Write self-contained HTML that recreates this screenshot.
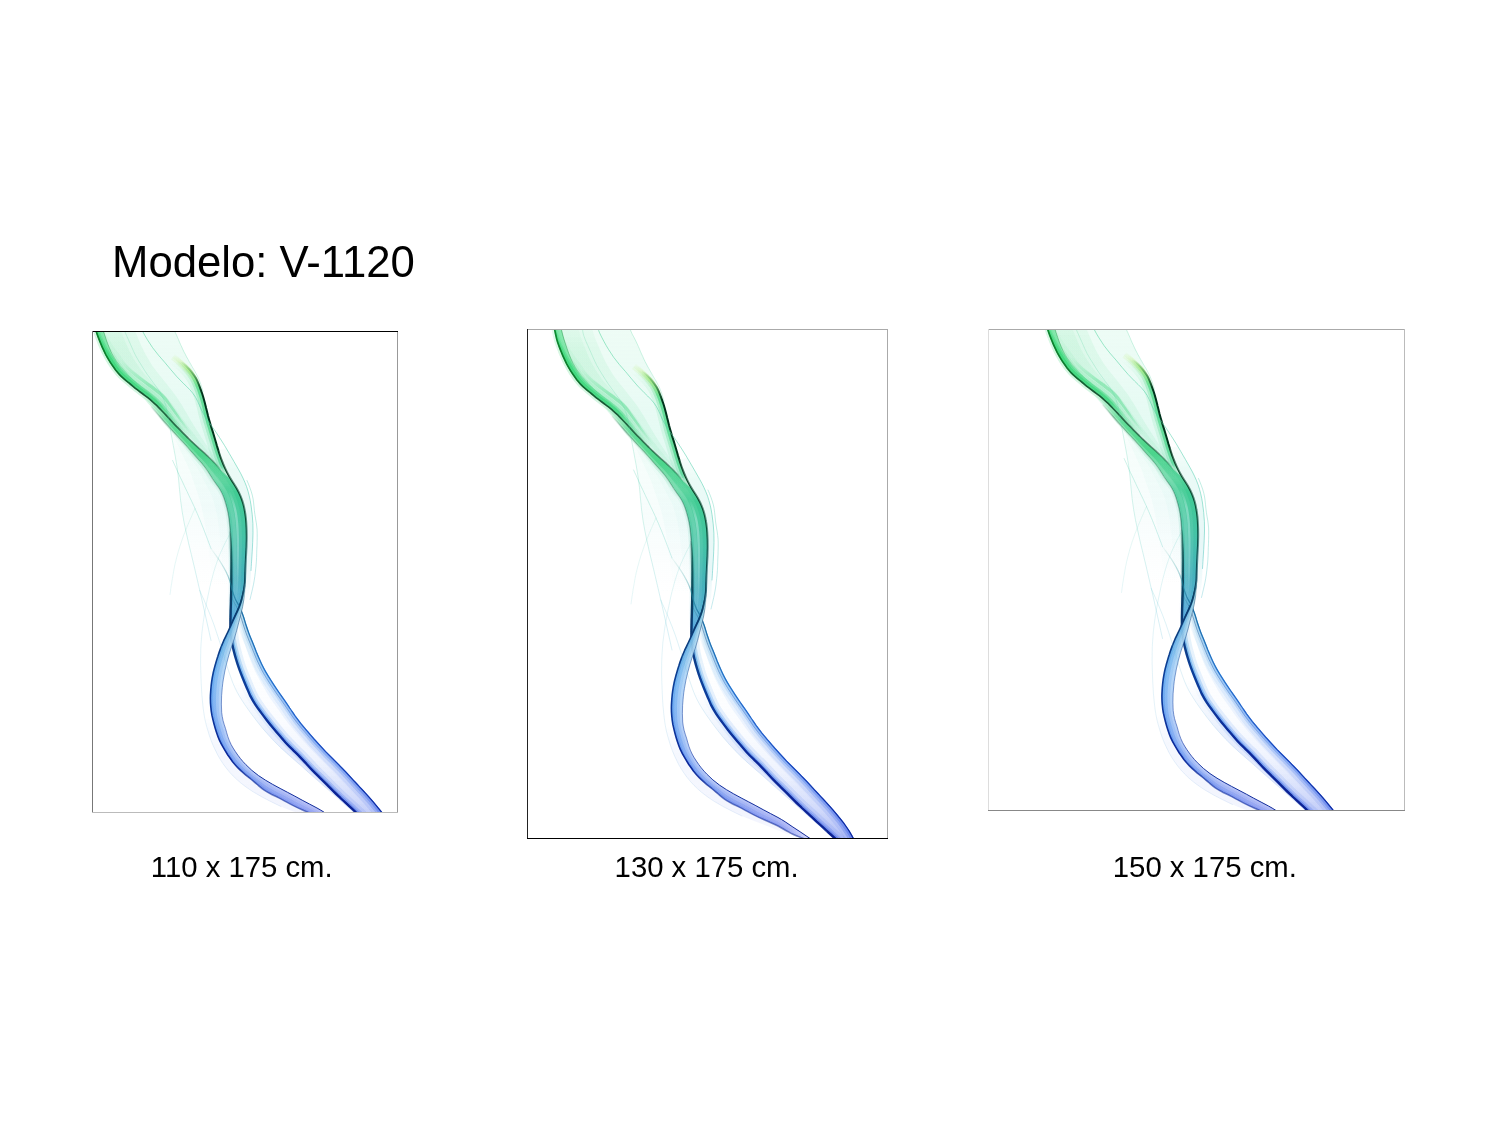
<!DOCTYPE html>
<html lang="es">
<head>
<meta charset="utf-8">
<title>Modelo: V-1120</title>
<style>
html,body{margin:0;padding:0;background:#fff;}
body{width:1500px;height:1125px;position:relative;overflow:hidden;font-family:"Liberation Sans",Arial,sans-serif;color:#000;}
.t{position:absolute;white-space:nowrap;line-height:1;}
#title{left:112px;top:240px;font-size:43.7px;}
.cap{font-size:29.3px;top:852px;}
.ln{position:absolute;}
svg{position:absolute;left:0;top:0;}
</style>
</head>
<body>
<div id="title" class="t">Modelo: V-1120</div>
<div class="t cap" id="c1" style="left:150.8px">110 x 175 cm.</div>
<div class="t cap" id="c2" style="left:614.6px">130 x 175 cm.</div>
<div class="t cap" id="c3" style="left:1112.8px">150 x 175 cm.</div>
<svg width="1500" height="1125" viewBox="0 0 1500 1125"><defs><linearGradient id="g1" gradientUnits="userSpaceOnUse" x1="0" y1="0" x2="0" y2="530"><stop offset="0.000" stop-color="#d6f8e8" stop-opacity="0.42"/><stop offset="0.113" stop-color="#d4f7ea" stop-opacity="0.48"/><stop offset="0.208" stop-color="#d3f7eb" stop-opacity="0.60"/><stop offset="0.283" stop-color="#d2f6ec" stop-opacity="0.70"/><stop offset="0.481" stop-color="#c8ecf0" stop-opacity="0.70"/><stop offset="0.672" stop-color="#d4e8fc" stop-opacity="0.70"/><stop offset="0.849" stop-color="#d2dcfb" stop-opacity="0.70"/><stop offset="1.000" stop-color="#c6ccf8" stop-opacity="0.70"/></linearGradient><linearGradient id="g2" gradientUnits="userSpaceOnUse" x1="0" y1="0" x2="0" y2="530"><stop offset="0.000" stop-color="#1cd462" stop-opacity="0.04"/><stop offset="0.038" stop-color="#1dd364" stop-opacity="0.07"/><stop offset="0.132" stop-color="#1ed068" stop-opacity="0.07"/><stop offset="0.208" stop-color="#1fcd6b" stop-opacity="0.08"/><stop offset="0.240" stop-color="#20cc6c" stop-opacity="0.07"/><stop offset="0.283" stop-color="#24c879" stop-opacity="0.06"/><stop offset="0.321" stop-color="#28c584" stop-opacity="0.06"/><stop offset="0.406" stop-color="#2fbc9a" stop-opacity="0.06"/><stop offset="0.481" stop-color="#2fa9b2" stop-opacity="0.06"/><stop offset="0.557" stop-color="#3398d2" stop-opacity="0.06"/><stop offset="0.672" stop-color="#3a94ec" stop-opacity="0.06"/><stop offset="0.817" stop-color="#3a78ec" stop-opacity="0.06"/><stop offset="0.906" stop-color="#3f6ae8" stop-opacity="0.06"/><stop offset="1.000" stop-color="#4a64e6" stop-opacity="0.06"/></linearGradient><linearGradient id="g3" gradientUnits="userSpaceOnUse" x1="0" y1="0" x2="0" y2="530"><stop offset="0.000" stop-color="#1cd462" stop-opacity="0.03"/><stop offset="0.047" stop-color="#1dd264" stop-opacity="0.06"/><stop offset="0.132" stop-color="#1ed068" stop-opacity="0.06"/><stop offset="0.208" stop-color="#1fcd6b" stop-opacity="0.07"/><stop offset="0.240" stop-color="#20cc6c" stop-opacity="0.06"/><stop offset="0.283" stop-color="#24c879" stop-opacity="0.05"/><stop offset="0.321" stop-color="#28c584" stop-opacity="0.05"/><stop offset="0.406" stop-color="#2fbc9a" stop-opacity="0.05"/><stop offset="0.481" stop-color="#2fa9b2" stop-opacity="0.05"/><stop offset="0.557" stop-color="#3398d2" stop-opacity="0.05"/><stop offset="0.672" stop-color="#3a94ec" stop-opacity="0.05"/><stop offset="0.817" stop-color="#3a78ec" stop-opacity="0.05"/><stop offset="0.906" stop-color="#3f6ae8" stop-opacity="0.05"/><stop offset="1.000" stop-color="#4a64e6" stop-opacity="0.05"/></linearGradient><linearGradient id="g4" gradientUnits="userSpaceOnUse" x1="0" y1="0" x2="0" y2="530"><stop offset="0.000" stop-color="#1cd462" stop-opacity="0.45"/><stop offset="0.094" stop-color="#1ed166" stop-opacity="0.35"/><stop offset="0.151" stop-color="#1fcf68" stop-opacity="0.22"/><stop offset="0.181" stop-color="#1fce6a" stop-opacity="0.00"/><stop offset="0.240" stop-color="#20cc6c" stop-opacity="0.00"/><stop offset="0.321" stop-color="#28c584" stop-opacity="0.00"/><stop offset="0.406" stop-color="#2fbc9a" stop-opacity="0.00"/><stop offset="0.481" stop-color="#2fa9b2" stop-opacity="0.00"/><stop offset="0.557" stop-color="#3398d2" stop-opacity="0.00"/><stop offset="0.672" stop-color="#3a94ec" stop-opacity="0.00"/><stop offset="0.817" stop-color="#3a78ec" stop-opacity="0.00"/><stop offset="0.906" stop-color="#3f6ae8" stop-opacity="0.00"/><stop offset="1.000" stop-color="#4a64e6" stop-opacity="0.00"/></linearGradient><linearGradient id="g5" gradientUnits="userSpaceOnUse" x1="0" y1="0" x2="0" y2="530"><stop offset="0.000" stop-color="#1cd462" stop-opacity="0.03"/><stop offset="0.066" stop-color="#1dd265" stop-opacity="0.06"/><stop offset="0.160" stop-color="#1fcf69" stop-opacity="0.06"/><stop offset="0.223" stop-color="#20cd6b" stop-opacity="0.00"/><stop offset="0.240" stop-color="#20cc6c" stop-opacity="0.00"/><stop offset="0.321" stop-color="#28c584" stop-opacity="0.00"/><stop offset="0.406" stop-color="#2fbc9a" stop-opacity="0.00"/><stop offset="0.481" stop-color="#2fa9b2" stop-opacity="0.00"/><stop offset="0.557" stop-color="#3398d2" stop-opacity="0.00"/><stop offset="0.672" stop-color="#3a94ec" stop-opacity="0.00"/><stop offset="0.817" stop-color="#3a78ec" stop-opacity="0.00"/><stop offset="0.906" stop-color="#3f6ae8" stop-opacity="0.00"/><stop offset="1.000" stop-color="#4a64e6" stop-opacity="0.00"/></linearGradient><linearGradient id="g6" gradientUnits="userSpaceOnUse" x1="0" y1="0" x2="0" y2="530"><stop offset="0.000" stop-color="#1cd462" stop-opacity="0.06"/><stop offset="0.066" stop-color="#1dd265" stop-opacity="0.12"/><stop offset="0.160" stop-color="#1fcf69" stop-opacity="0.12"/><stop offset="0.223" stop-color="#20cd6b" stop-opacity="0.00"/><stop offset="0.240" stop-color="#20cc6c" stop-opacity="0.00"/><stop offset="0.321" stop-color="#28c584" stop-opacity="0.00"/><stop offset="0.406" stop-color="#2fbc9a" stop-opacity="0.00"/><stop offset="0.481" stop-color="#2fa9b2" stop-opacity="0.00"/><stop offset="0.557" stop-color="#3398d2" stop-opacity="0.00"/><stop offset="0.672" stop-color="#3a94ec" stop-opacity="0.00"/><stop offset="0.817" stop-color="#3a78ec" stop-opacity="0.00"/><stop offset="0.906" stop-color="#3f6ae8" stop-opacity="0.00"/><stop offset="1.000" stop-color="#4a64e6" stop-opacity="0.00"/></linearGradient><linearGradient id="g7" gradientUnits="userSpaceOnUse" x1="0" y1="0" x2="0" y2="530"><stop offset="0.000" stop-color="#1cd462" stop-opacity="0.17"/><stop offset="0.066" stop-color="#1dd265" stop-opacity="0.35"/><stop offset="0.160" stop-color="#1fcf69" stop-opacity="0.35"/><stop offset="0.223" stop-color="#20cd6b" stop-opacity="0.00"/><stop offset="0.240" stop-color="#20cc6c" stop-opacity="0.00"/><stop offset="0.321" stop-color="#28c584" stop-opacity="0.00"/><stop offset="0.406" stop-color="#2fbc9a" stop-opacity="0.00"/><stop offset="0.481" stop-color="#2fa9b2" stop-opacity="0.00"/><stop offset="0.557" stop-color="#3398d2" stop-opacity="0.00"/><stop offset="0.672" stop-color="#3a94ec" stop-opacity="0.00"/><stop offset="0.817" stop-color="#3a78ec" stop-opacity="0.00"/><stop offset="0.906" stop-color="#3f6ae8" stop-opacity="0.00"/><stop offset="1.000" stop-color="#4a64e6" stop-opacity="0.00"/></linearGradient><linearGradient id="g8" gradientUnits="userSpaceOnUse" x1="0" y1="0" x2="0" y2="530"><stop offset="0.000" stop-color="#1cd462" stop-opacity="0.23"/><stop offset="0.066" stop-color="#1dd265" stop-opacity="0.45"/><stop offset="0.160" stop-color="#1fcf69" stop-opacity="0.45"/><stop offset="0.223" stop-color="#20cd6b" stop-opacity="0.00"/><stop offset="0.240" stop-color="#20cc6c" stop-opacity="0.00"/><stop offset="0.321" stop-color="#28c584" stop-opacity="0.00"/><stop offset="0.406" stop-color="#2fbc9a" stop-opacity="0.00"/><stop offset="0.481" stop-color="#2fa9b2" stop-opacity="0.00"/><stop offset="0.557" stop-color="#3398d2" stop-opacity="0.00"/><stop offset="0.672" stop-color="#3a94ec" stop-opacity="0.00"/><stop offset="0.817" stop-color="#3a78ec" stop-opacity="0.00"/><stop offset="0.906" stop-color="#3f6ae8" stop-opacity="0.00"/><stop offset="1.000" stop-color="#4a64e6" stop-opacity="0.00"/></linearGradient><linearGradient id="g9" gradientUnits="userSpaceOnUse" x1="0" y1="0" x2="0" y2="530"><stop offset="0.000" stop-color="#1cd462" stop-opacity="0.10"/><stop offset="0.057" stop-color="#1dd264" stop-opacity="0.20"/><stop offset="0.151" stop-color="#1fcf68" stop-opacity="0.20"/><stop offset="0.179" stop-color="#1fce69" stop-opacity="0.00"/><stop offset="0.240" stop-color="#20cc6c" stop-opacity="0.00"/><stop offset="0.321" stop-color="#28c584" stop-opacity="0.00"/><stop offset="0.406" stop-color="#2fbc9a" stop-opacity="0.00"/><stop offset="0.481" stop-color="#2fa9b2" stop-opacity="0.00"/><stop offset="0.557" stop-color="#3398d2" stop-opacity="0.00"/><stop offset="0.672" stop-color="#3a94ec" stop-opacity="0.00"/><stop offset="0.817" stop-color="#3a78ec" stop-opacity="0.00"/><stop offset="0.906" stop-color="#3f6ae8" stop-opacity="0.00"/><stop offset="1.000" stop-color="#4a64e6" stop-opacity="0.00"/></linearGradient><linearGradient id="g10" gradientUnits="userSpaceOnUse" x1="0" y1="0" x2="0" y2="530"><stop offset="0.000" stop-color="#1cd462" stop-opacity="0.00"/><stop offset="0.075" stop-color="#1dd165" stop-opacity="0.00"/><stop offset="0.123" stop-color="#1ed067" stop-opacity="0.30"/><stop offset="0.179" stop-color="#1fce69" stop-opacity="0.30"/><stop offset="0.217" stop-color="#20cd6b" stop-opacity="0.00"/><stop offset="0.240" stop-color="#20cc6c" stop-opacity="0.00"/><stop offset="0.321" stop-color="#28c584" stop-opacity="0.00"/><stop offset="0.406" stop-color="#2fbc9a" stop-opacity="0.00"/><stop offset="0.481" stop-color="#2fa9b2" stop-opacity="0.00"/><stop offset="0.557" stop-color="#3398d2" stop-opacity="0.00"/><stop offset="0.672" stop-color="#3a94ec" stop-opacity="0.00"/><stop offset="0.817" stop-color="#3a78ec" stop-opacity="0.00"/><stop offset="0.906" stop-color="#3f6ae8" stop-opacity="0.00"/><stop offset="1.000" stop-color="#4a64e6" stop-opacity="0.00"/></linearGradient><linearGradient id="g11" gradientUnits="userSpaceOnUse" x1="0" y1="0" x2="0" y2="530"><stop offset="0.000" stop-color="#1cd462" stop-opacity="0.00"/><stop offset="0.143" stop-color="#1ecf68" stop-opacity="0.00"/><stop offset="0.189" stop-color="#1fce6a" stop-opacity="0.50"/><stop offset="0.240" stop-color="#20cc6c" stop-opacity="0.62"/><stop offset="0.255" stop-color="#21cb70" stop-opacity="0.65"/><stop offset="0.283" stop-color="#24c879" stop-opacity="0.50"/><stop offset="0.321" stop-color="#28c584" stop-opacity="0.05"/><stop offset="0.325" stop-color="#28c585" stop-opacity="0.00"/><stop offset="0.406" stop-color="#2fbc9a" stop-opacity="0.00"/><stop offset="0.481" stop-color="#2fa9b2" stop-opacity="0.00"/><stop offset="0.557" stop-color="#3398d2" stop-opacity="0.00"/><stop offset="0.672" stop-color="#3a94ec" stop-opacity="0.00"/><stop offset="0.817" stop-color="#3a78ec" stop-opacity="0.00"/><stop offset="0.906" stop-color="#3f6ae8" stop-opacity="0.00"/><stop offset="1.000" stop-color="#4a64e6" stop-opacity="0.00"/></linearGradient><linearGradient id="g12" gradientUnits="userSpaceOnUse" x1="0" y1="0" x2="0" y2="530"><stop offset="0.000" stop-color="#1cd462" stop-opacity="0.00"/><stop offset="0.151" stop-color="#1fcf68" stop-opacity="0.00"/><stop offset="0.198" stop-color="#1fcd6a" stop-opacity="0.35"/><stop offset="0.240" stop-color="#20cc6c" stop-opacity="0.42"/><stop offset="0.255" stop-color="#21cb70" stop-opacity="0.45"/><stop offset="0.283" stop-color="#24c879" stop-opacity="0.30"/><stop offset="0.321" stop-color="#28c584" stop-opacity="0.03"/><stop offset="0.325" stop-color="#28c585" stop-opacity="0.00"/><stop offset="0.406" stop-color="#2fbc9a" stop-opacity="0.00"/><stop offset="0.481" stop-color="#2fa9b2" stop-opacity="0.00"/><stop offset="0.557" stop-color="#3398d2" stop-opacity="0.00"/><stop offset="0.672" stop-color="#3a94ec" stop-opacity="0.00"/><stop offset="0.817" stop-color="#3a78ec" stop-opacity="0.00"/><stop offset="0.906" stop-color="#3f6ae8" stop-opacity="0.00"/><stop offset="1.000" stop-color="#4a64e6" stop-opacity="0.00"/></linearGradient><linearGradient id="g13" gradientUnits="userSpaceOnUse" x1="0" y1="0" x2="0" y2="530"><stop offset="0.000" stop-color="#1cd462" stop-opacity="0.00"/><stop offset="0.160" stop-color="#1fcf69" stop-opacity="0.00"/><stop offset="0.198" stop-color="#1fcd6a" stop-opacity="0.15"/><stop offset="0.240" stop-color="#20cc6c" stop-opacity="0.15"/><stop offset="0.283" stop-color="#24c879" stop-opacity="0.15"/><stop offset="0.321" stop-color="#28c584" stop-opacity="0.01"/><stop offset="0.325" stop-color="#28c585" stop-opacity="0.00"/><stop offset="0.406" stop-color="#2fbc9a" stop-opacity="0.00"/><stop offset="0.481" stop-color="#2fa9b2" stop-opacity="0.00"/><stop offset="0.557" stop-color="#3398d2" stop-opacity="0.00"/><stop offset="0.672" stop-color="#3a94ec" stop-opacity="0.00"/><stop offset="0.817" stop-color="#3a78ec" stop-opacity="0.00"/><stop offset="0.906" stop-color="#3f6ae8" stop-opacity="0.00"/><stop offset="1.000" stop-color="#4a64e6" stop-opacity="0.00"/></linearGradient><linearGradient id="g14" gradientUnits="userSpaceOnUse" x1="0" y1="0" x2="0" y2="530"><stop offset="0.000" stop-color="#0a8a30" stop-opacity="0.60"/><stop offset="0.057" stop-color="#0a7f2d" stop-opacity="0.40"/><stop offset="0.085" stop-color="#0a7a2c" stop-opacity="0.16"/><stop offset="0.104" stop-color="#086126" stop-opacity="0.00"/><stop offset="0.142" stop-color="#04301a" stop-opacity="0.00"/><stop offset="0.283" stop-color="#053a20" stop-opacity="0.00"/><stop offset="0.385" stop-color="#08503a" stop-opacity="0.00"/><stop offset="0.481" stop-color="#084a58" stop-opacity="0.00"/><stop offset="0.557" stop-color="#083a70" stop-opacity="0.00"/><stop offset="0.672" stop-color="#0a3f9a" stop-opacity="0.00"/><stop offset="0.817" stop-color="#08289a" stop-opacity="0.00"/><stop offset="1.000" stop-color="#081f90" stop-opacity="0.00"/></linearGradient><linearGradient id="g15" gradientUnits="userSpaceOnUse" x1="0" y1="0" x2="0" y2="530"><stop offset="0.000" stop-color="#0a8a30"/><stop offset="0.075" stop-color="#0a7c2c"/><stop offset="0.085" stop-color="#0a7a2c" stop-opacity="0.97"/><stop offset="0.132" stop-color="#053c1d" stop-opacity="0.80"/><stop offset="0.142" stop-color="#04301a" stop-opacity="0.78"/><stop offset="0.226" stop-color="#05361e" stop-opacity="0.60"/><stop offset="0.274" stop-color="#053920" stop-opacity="0.40"/><stop offset="0.283" stop-color="#053a20" stop-opacity="0.22"/><stop offset="0.294" stop-color="#053c23" stop-opacity="0.00"/><stop offset="0.385" stop-color="#08503a" stop-opacity="0.00"/><stop offset="0.481" stop-color="#084a58" stop-opacity="0.00"/><stop offset="0.557" stop-color="#083a70" stop-opacity="0.00"/><stop offset="0.672" stop-color="#0a3f9a" stop-opacity="0.00"/><stop offset="0.817" stop-color="#08289a" stop-opacity="0.00"/><stop offset="1.000" stop-color="#081f90" stop-opacity="0.00"/></linearGradient><linearGradient id="g16" gradientUnits="userSpaceOnUse" x1="0" y1="0" x2="0" y2="530"><stop offset="0.000" stop-color="#1cd462" stop-opacity="0.00"/><stop offset="0.079" stop-color="#1dd165" stop-opacity="0.00"/><stop offset="0.125" stop-color="#1ed067" stop-opacity="0.10"/><stop offset="0.240" stop-color="#20cc6c" stop-opacity="0.10"/><stop offset="0.274" stop-color="#23c976" stop-opacity="0.10"/><stop offset="0.302" stop-color="#26c77e" stop-opacity="0.00"/><stop offset="0.321" stop-color="#28c584" stop-opacity="0.00"/><stop offset="0.406" stop-color="#2fbc9a" stop-opacity="0.00"/><stop offset="0.481" stop-color="#2fa9b2" stop-opacity="0.00"/><stop offset="0.557" stop-color="#3398d2" stop-opacity="0.00"/><stop offset="0.672" stop-color="#3a94ec" stop-opacity="0.00"/><stop offset="0.817" stop-color="#3a78ec" stop-opacity="0.00"/><stop offset="0.906" stop-color="#3f6ae8" stop-opacity="0.00"/><stop offset="1.000" stop-color="#4a64e6" stop-opacity="0.00"/></linearGradient><linearGradient id="g17" gradientUnits="userSpaceOnUse" x1="0" y1="0" x2="0" y2="530"><stop offset="0.000" stop-color="#1cd462" stop-opacity="0.00"/><stop offset="0.079" stop-color="#1dd165" stop-opacity="0.00"/><stop offset="0.125" stop-color="#1ed067" stop-opacity="0.22"/><stop offset="0.240" stop-color="#20cc6c" stop-opacity="0.22"/><stop offset="0.274" stop-color="#23c976" stop-opacity="0.22"/><stop offset="0.302" stop-color="#26c77e" stop-opacity="0.00"/><stop offset="0.321" stop-color="#28c584" stop-opacity="0.00"/><stop offset="0.406" stop-color="#2fbc9a" stop-opacity="0.00"/><stop offset="0.481" stop-color="#2fa9b2" stop-opacity="0.00"/><stop offset="0.557" stop-color="#3398d2" stop-opacity="0.00"/><stop offset="0.672" stop-color="#3a94ec" stop-opacity="0.00"/><stop offset="0.817" stop-color="#3a78ec" stop-opacity="0.00"/><stop offset="0.906" stop-color="#3f6ae8" stop-opacity="0.00"/><stop offset="1.000" stop-color="#4a64e6" stop-opacity="0.00"/></linearGradient><linearGradient id="g18" gradientUnits="userSpaceOnUse" x1="0" y1="0" x2="0" y2="530"><stop offset="0.000" stop-color="#1cd462" stop-opacity="0.00"/><stop offset="0.079" stop-color="#1dd165" stop-opacity="0.00"/><stop offset="0.125" stop-color="#1ed067" stop-opacity="0.50"/><stop offset="0.240" stop-color="#20cc6c" stop-opacity="0.50"/><stop offset="0.274" stop-color="#23c976" stop-opacity="0.50"/><stop offset="0.302" stop-color="#26c77e" stop-opacity="0.00"/><stop offset="0.321" stop-color="#28c584" stop-opacity="0.00"/><stop offset="0.406" stop-color="#2fbc9a" stop-opacity="0.00"/><stop offset="0.481" stop-color="#2fa9b2" stop-opacity="0.00"/><stop offset="0.557" stop-color="#3398d2" stop-opacity="0.00"/><stop offset="0.672" stop-color="#3a94ec" stop-opacity="0.00"/><stop offset="0.817" stop-color="#3a78ec" stop-opacity="0.00"/><stop offset="0.906" stop-color="#3f6ae8" stop-opacity="0.00"/><stop offset="1.000" stop-color="#4a64e6" stop-opacity="0.00"/></linearGradient><linearGradient id="g19" gradientUnits="userSpaceOnUse" x1="0" y1="0" x2="0" y2="530"><stop offset="0.000" stop-color="#a8e850" stop-opacity="0.00"/><stop offset="0.060" stop-color="#a8e850" stop-opacity="0.00"/><stop offset="0.079" stop-color="#a8e850" stop-opacity="0.12"/><stop offset="0.094" stop-color="#a8e850" stop-opacity="0.20"/><stop offset="0.113" stop-color="#a8e850" stop-opacity="0.12"/><stop offset="0.132" stop-color="#a8e850" stop-opacity="0.00"/><stop offset="1.000" stop-color="#a8e850" stop-opacity="0.00"/></linearGradient><linearGradient id="g20" gradientUnits="userSpaceOnUse" x1="0" y1="0" x2="0" y2="530"><stop offset="0.000" stop-color="#a8e850" stop-opacity="0.00"/><stop offset="0.068" stop-color="#a8e850" stop-opacity="0.00"/><stop offset="0.083" stop-color="#a8e850" stop-opacity="0.20"/><stop offset="0.098" stop-color="#a8e850" stop-opacity="0.35"/><stop offset="0.113" stop-color="#a8e850" stop-opacity="0.20"/><stop offset="0.132" stop-color="#a8e850" stop-opacity="0.00"/><stop offset="1.000" stop-color="#a8e850" stop-opacity="0.00"/></linearGradient><linearGradient id="g21" gradientUnits="userSpaceOnUse" x1="0" y1="0" x2="0" y2="530"><stop offset="0.000" stop-color="#1cd462" stop-opacity="0.00"/><stop offset="0.240" stop-color="#20cc6c" stop-opacity="0.00"/><stop offset="0.255" stop-color="#21cb70" stop-opacity="0.00"/><stop offset="0.283" stop-color="#24c879" stop-opacity="0.25"/><stop offset="0.321" stop-color="#28c584" stop-opacity="0.68"/><stop offset="0.325" stop-color="#28c585" stop-opacity="0.72"/><stop offset="0.406" stop-color="#2fbc9a" stop-opacity="0.72"/><stop offset="0.481" stop-color="#2fa9b2" stop-opacity="0.72"/><stop offset="0.491" stop-color="#30a7b6" stop-opacity="0.72"/><stop offset="0.557" stop-color="#3398d2" stop-opacity="0.60"/><stop offset="0.587" stop-color="#3597d9" stop-opacity="0.55"/><stop offset="0.672" stop-color="#3a94ec" stop-opacity="0.55"/><stop offset="0.817" stop-color="#3a78ec" stop-opacity="0.55"/><stop offset="0.906" stop-color="#3f6ae8" stop-opacity="0.55"/><stop offset="1.000" stop-color="#4a64e6" stop-opacity="0.55"/></linearGradient><linearGradient id="g22" gradientUnits="userSpaceOnUse" x1="0" y1="0" x2="0" y2="530"><stop offset="0.000" stop-color="#1cd462" stop-opacity="0.00"/><stop offset="0.240" stop-color="#20cc6c" stop-opacity="0.00"/><stop offset="0.274" stop-color="#23c976" stop-opacity="0.00"/><stop offset="0.321" stop-color="#28c584" stop-opacity="0.37"/><stop offset="0.325" stop-color="#28c585" stop-opacity="0.40"/><stop offset="0.406" stop-color="#2fbc9a" stop-opacity="0.40"/><stop offset="0.481" stop-color="#2fa9b2" stop-opacity="0.40"/><stop offset="0.491" stop-color="#30a7b6" stop-opacity="0.40"/><stop offset="0.557" stop-color="#3398d2" stop-opacity="0.23"/><stop offset="0.587" stop-color="#3597d9" stop-opacity="0.15"/><stop offset="0.672" stop-color="#3a94ec" stop-opacity="0.15"/><stop offset="0.817" stop-color="#3a78ec" stop-opacity="0.15"/><stop offset="0.906" stop-color="#3f6ae8" stop-opacity="0.15"/><stop offset="1.000" stop-color="#4a64e6" stop-opacity="0.15"/></linearGradient><linearGradient id="g23" gradientUnits="userSpaceOnUse" x1="0" y1="0" x2="0" y2="530"><stop offset="0.000" stop-color="#1cd462" stop-opacity="0.00"/><stop offset="0.240" stop-color="#20cc6c" stop-opacity="0.00"/><stop offset="0.283" stop-color="#24c879" stop-opacity="0.00"/><stop offset="0.321" stop-color="#28c584" stop-opacity="0.28"/><stop offset="0.330" stop-color="#29c486" stop-opacity="0.35"/><stop offset="0.406" stop-color="#2fbc9a" stop-opacity="0.35"/><stop offset="0.481" stop-color="#2fa9b2" stop-opacity="0.35"/><stop offset="0.491" stop-color="#30a7b6" stop-opacity="0.35"/><stop offset="0.557" stop-color="#3398d2" stop-opacity="0.18"/><stop offset="0.587" stop-color="#3597d9" stop-opacity="0.10"/><stop offset="0.672" stop-color="#3a94ec" stop-opacity="0.10"/><stop offset="0.817" stop-color="#3a78ec" stop-opacity="0.10"/><stop offset="0.906" stop-color="#3f6ae8" stop-opacity="0.10"/><stop offset="1.000" stop-color="#4a64e6" stop-opacity="0.10"/></linearGradient><linearGradient id="g24" gradientUnits="userSpaceOnUse" x1="0" y1="0" x2="0" y2="530"><stop offset="0.000" stop-color="#1cd462" stop-opacity="0.00"/><stop offset="0.240" stop-color="#20cc6c" stop-opacity="0.00"/><stop offset="0.283" stop-color="#24c879" stop-opacity="0.00"/><stop offset="0.321" stop-color="#28c584" stop-opacity="0.10"/><stop offset="0.340" stop-color="#2ac389" stop-opacity="0.15"/><stop offset="0.406" stop-color="#2fbc9a" stop-opacity="0.33"/><stop offset="0.434" stop-color="#2fb5a3" stop-opacity="0.40"/><stop offset="0.481" stop-color="#2fa9b2" stop-opacity="0.43"/><stop offset="0.557" stop-color="#3398d2" stop-opacity="0.48"/><stop offset="0.587" stop-color="#3597d9" stop-opacity="0.50"/><stop offset="0.672" stop-color="#3a94ec" stop-opacity="0.50"/><stop offset="0.817" stop-color="#3a78ec" stop-opacity="0.50"/><stop offset="0.906" stop-color="#3f6ae8" stop-opacity="0.50"/><stop offset="1.000" stop-color="#4a64e6" stop-opacity="0.50"/></linearGradient><linearGradient id="g25" gradientUnits="userSpaceOnUse" x1="0" y1="0" x2="0" y2="530"><stop offset="0.000" stop-color="#d6f8e8" stop-opacity="0.00"/><stop offset="0.283" stop-color="#d2f6ec" stop-opacity="0.00"/><stop offset="0.321" stop-color="#d0f4ed" stop-opacity="0.00"/><stop offset="0.358" stop-color="#cef2ee" stop-opacity="0.40"/><stop offset="0.472" stop-color="#c8ecf0" stop-opacity="0.30"/><stop offset="0.481" stop-color="#c8ecf0" stop-opacity="0.26"/><stop offset="0.547" stop-color="#ccebf4" stop-opacity="0.00"/><stop offset="0.672" stop-color="#d4e8fc" stop-opacity="0.00"/><stop offset="0.849" stop-color="#d2dcfb" stop-opacity="0.00"/><stop offset="1.000" stop-color="#c6ccf8" stop-opacity="0.00"/></linearGradient><linearGradient id="g26" gradientUnits="userSpaceOnUse" x1="0" y1="0" x2="0" y2="530"><stop offset="0.000" stop-color="#1cd462" stop-opacity="0.00"/><stop offset="0.236" stop-color="#20cc6c" stop-opacity="0.00"/><stop offset="0.240" stop-color="#20cc6c" stop-opacity="0.01"/><stop offset="0.274" stop-color="#23c976" stop-opacity="0.12"/><stop offset="0.321" stop-color="#28c584" stop-opacity="0.13"/><stop offset="0.406" stop-color="#2fbc9a" stop-opacity="0.16"/><stop offset="0.472" stop-color="#2fabaf" stop-opacity="0.18"/><stop offset="0.481" stop-color="#2fa9b2" stop-opacity="0.16"/><stop offset="0.557" stop-color="#3398d2" stop-opacity="0.02"/><stop offset="0.566" stop-color="#3498d4" stop-opacity="0.00"/><stop offset="0.672" stop-color="#3a94ec" stop-opacity="0.00"/><stop offset="0.817" stop-color="#3a78ec" stop-opacity="0.00"/><stop offset="0.906" stop-color="#3f6ae8" stop-opacity="0.00"/><stop offset="1.000" stop-color="#4a64e6" stop-opacity="0.00"/></linearGradient><linearGradient id="g27" gradientUnits="userSpaceOnUse" x1="0" y1="0" x2="0" y2="530"><stop offset="0.000" stop-color="#0a8a30" stop-opacity="0.00"/><stop offset="0.085" stop-color="#0a7a2c" stop-opacity="0.00"/><stop offset="0.142" stop-color="#04301a" stop-opacity="0.00"/><stop offset="0.158" stop-color="#04311b" stop-opacity="0.00"/><stop offset="0.189" stop-color="#04331c" stop-opacity="0.30"/><stop offset="0.283" stop-color="#053a20" stop-opacity="0.30"/><stop offset="0.377" stop-color="#084e38" stop-opacity="0.50"/><stop offset="0.385" stop-color="#08503a" stop-opacity="0.54"/><stop offset="0.453" stop-color="#084c4f" stop-opacity="0.85"/><stop offset="0.481" stop-color="#084a58" stop-opacity="0.94"/><stop offset="0.500" stop-color="#08465e"/><stop offset="0.557" stop-color="#083a70"/><stop offset="0.672" stop-color="#0a3f9a"/><stop offset="0.817" stop-color="#08289a"/><stop offset="1.000" stop-color="#081f90"/></linearGradient><linearGradient id="g28" gradientUnits="userSpaceOnUse" x1="0" y1="0" x2="0" y2="530"><stop offset="0.000" stop-color="#0a8a30" stop-opacity="0.00"/><stop offset="0.079" stop-color="#0a7b2c" stop-opacity="0.00"/><stop offset="0.085" stop-color="#0a7a2c" stop-opacity="0.11"/><stop offset="0.106" stop-color="#085f25" stop-opacity="0.50"/><stop offset="0.132" stop-color="#053c1d"/><stop offset="0.142" stop-color="#04301a"/><stop offset="0.283" stop-color="#053a20"/><stop offset="0.385" stop-color="#08503a"/><stop offset="0.481" stop-color="#084a58"/><stop offset="0.557" stop-color="#083a70"/><stop offset="0.587" stop-color="#093b7b"/><stop offset="0.672" stop-color="#0a3f9a"/><stop offset="0.817" stop-color="#08289a"/><stop offset="1.000" stop-color="#081f90"/></linearGradient><linearGradient id="g29" gradientUnits="userSpaceOnUse" x1="0" y1="0" x2="0" y2="530"><stop offset="0.000" stop-color="#d6f8e8" stop-opacity="0.00"/><stop offset="0.283" stop-color="#d2f6ec" stop-opacity="0.00"/><stop offset="0.481" stop-color="#c8ecf0" stop-opacity="0.00"/><stop offset="0.623" stop-color="#d1e9f9" stop-opacity="0.00"/><stop offset="0.672" stop-color="#d4e8fc" stop-opacity="0.04"/><stop offset="0.755" stop-color="#d3e2fc" stop-opacity="0.10"/><stop offset="0.849" stop-color="#d2dcfb" stop-opacity="0.40"/><stop offset="0.925" stop-color="#ccd4fa" stop-opacity="0.75"/><stop offset="1.000" stop-color="#c6ccf8"/></linearGradient><linearGradient id="g30" gradientUnits="userSpaceOnUse" x1="0" y1="0" x2="0" y2="530"><stop offset="0.000" stop-color="#1cd462" stop-opacity="0.00"/><stop offset="0.240" stop-color="#20cc6c" stop-opacity="0.00"/><stop offset="0.321" stop-color="#28c584" stop-opacity="0.00"/><stop offset="0.406" stop-color="#2fbc9a" stop-opacity="0.00"/><stop offset="0.481" stop-color="#2fa9b2" stop-opacity="0.00"/><stop offset="0.557" stop-color="#3398d2" stop-opacity="0.00"/><stop offset="0.672" stop-color="#3a94ec" stop-opacity="0.00"/><stop offset="0.817" stop-color="#3a78ec" stop-opacity="0.00"/><stop offset="0.830" stop-color="#3b76eb" stop-opacity="0.00"/><stop offset="0.906" stop-color="#3f6ae8" stop-opacity="0.08"/><stop offset="0.960" stop-color="#4567e7" stop-opacity="0.20"/><stop offset="1.000" stop-color="#4a64e6" stop-opacity="0.25"/></linearGradient><linearGradient id="g31" gradientUnits="userSpaceOnUse" x1="0" y1="0" x2="0" y2="530"><stop offset="0.000" stop-color="#d6f8e8" stop-opacity="0.00"/><stop offset="0.283" stop-color="#d2f6ec" stop-opacity="0.00"/><stop offset="0.481" stop-color="#c8ecf0" stop-opacity="0.00"/><stop offset="0.547" stop-color="#ccebf4" stop-opacity="0.00"/><stop offset="0.604" stop-color="#d0e9f8" stop-opacity="0.35"/><stop offset="0.672" stop-color="#d4e8fc" stop-opacity="0.36"/><stop offset="0.849" stop-color="#d2dcfb" stop-opacity="0.38"/><stop offset="1.000" stop-color="#c6ccf8" stop-opacity="0.40"/></linearGradient><linearGradient id="g32" gradientUnits="userSpaceOnUse" x1="0" y1="0" x2="0" y2="530"><stop offset="0.000" stop-color="#1cd462" stop-opacity="0.00"/><stop offset="0.240" stop-color="#20cc6c" stop-opacity="0.00"/><stop offset="0.321" stop-color="#28c584" stop-opacity="0.00"/><stop offset="0.406" stop-color="#2fbc9a" stop-opacity="0.00"/><stop offset="0.453" stop-color="#2fb0a9" stop-opacity="0.00"/><stop offset="0.481" stop-color="#2fa9b2" stop-opacity="0.03"/><stop offset="0.519" stop-color="#31a0c2" stop-opacity="0.07"/><stop offset="0.557" stop-color="#3398d2" stop-opacity="0.09"/><stop offset="0.604" stop-color="#3696dd" stop-opacity="0.12"/><stop offset="0.672" stop-color="#3a94ec" stop-opacity="0.12"/><stop offset="0.817" stop-color="#3a78ec" stop-opacity="0.12"/><stop offset="0.906" stop-color="#3f6ae8" stop-opacity="0.12"/><stop offset="1.000" stop-color="#4a64e6" stop-opacity="0.12"/></linearGradient><linearGradient id="g33" gradientUnits="userSpaceOnUse" x1="0" y1="0" x2="0" y2="530"><stop offset="0.000" stop-color="#1cd462" stop-opacity="0.00"/><stop offset="0.240" stop-color="#20cc6c" stop-opacity="0.00"/><stop offset="0.321" stop-color="#28c584" stop-opacity="0.00"/><stop offset="0.406" stop-color="#2fbc9a" stop-opacity="0.00"/><stop offset="0.453" stop-color="#2fb0a9" stop-opacity="0.00"/><stop offset="0.481" stop-color="#2fa9b2" stop-opacity="0.06"/><stop offset="0.519" stop-color="#31a0c2" stop-opacity="0.15"/><stop offset="0.557" stop-color="#3398d2" stop-opacity="0.19"/><stop offset="0.604" stop-color="#3696dd" stop-opacity="0.25"/><stop offset="0.672" stop-color="#3a94ec" stop-opacity="0.25"/><stop offset="0.817" stop-color="#3a78ec" stop-opacity="0.25"/><stop offset="0.906" stop-color="#3f6ae8" stop-opacity="0.25"/><stop offset="1.000" stop-color="#4a64e6" stop-opacity="0.25"/></linearGradient><linearGradient id="g34" gradientUnits="userSpaceOnUse" x1="0" y1="0" x2="0" y2="530"><stop offset="0.000" stop-color="#1cd462" stop-opacity="0.00"/><stop offset="0.240" stop-color="#20cc6c" stop-opacity="0.00"/><stop offset="0.321" stop-color="#28c584" stop-opacity="0.00"/><stop offset="0.406" stop-color="#2fbc9a" stop-opacity="0.00"/><stop offset="0.453" stop-color="#2fb0a9" stop-opacity="0.00"/><stop offset="0.481" stop-color="#2fa9b2" stop-opacity="0.12"/><stop offset="0.519" stop-color="#31a0c2" stop-opacity="0.27"/><stop offset="0.557" stop-color="#3398d2" stop-opacity="0.35"/><stop offset="0.604" stop-color="#3696dd" stop-opacity="0.45"/><stop offset="0.672" stop-color="#3a94ec" stop-opacity="0.45"/><stop offset="0.817" stop-color="#3a78ec" stop-opacity="0.45"/><stop offset="0.906" stop-color="#3f6ae8" stop-opacity="0.45"/><stop offset="1.000" stop-color="#4a64e6" stop-opacity="0.45"/></linearGradient><linearGradient id="g35" gradientUnits="userSpaceOnUse" x1="0" y1="0" x2="0" y2="530"><stop offset="0.000" stop-color="#d6f8e8" stop-opacity="0.00"/><stop offset="0.283" stop-color="#d2f6ec" stop-opacity="0.00"/><stop offset="0.481" stop-color="#c8ecf0" stop-opacity="0.00"/><stop offset="0.672" stop-color="#d4e8fc" stop-opacity="0.00"/><stop offset="0.683" stop-color="#d4e7fc" stop-opacity="0.00"/><stop offset="0.783" stop-color="#d3e0fb" stop-opacity="0.50"/><stop offset="0.849" stop-color="#d2dcfb" stop-opacity="0.59"/><stop offset="1.000" stop-color="#c6ccf8" stop-opacity="0.80"/></linearGradient><linearGradient id="g36" gradientUnits="userSpaceOnUse" x1="0" y1="0" x2="0" y2="530"><stop offset="0.000" stop-color="#1cd462" stop-opacity="0.00"/><stop offset="0.240" stop-color="#20cc6c" stop-opacity="0.00"/><stop offset="0.321" stop-color="#28c584" stop-opacity="0.00"/><stop offset="0.406" stop-color="#2fbc9a" stop-opacity="0.00"/><stop offset="0.481" stop-color="#2fa9b2" stop-opacity="0.00"/><stop offset="0.557" stop-color="#3398d2" stop-opacity="0.00"/><stop offset="0.672" stop-color="#3a94ec" stop-opacity="0.00"/><stop offset="0.683" stop-color="#3a92ec" stop-opacity="0.00"/><stop offset="0.783" stop-color="#3a7fec" stop-opacity="0.12"/><stop offset="0.817" stop-color="#3a78ec" stop-opacity="0.15"/><stop offset="0.887" stop-color="#3e6de9" stop-opacity="0.20"/><stop offset="0.906" stop-color="#3f6ae8" stop-opacity="0.22"/><stop offset="1.000" stop-color="#4a64e6" stop-opacity="0.30"/></linearGradient><linearGradient id="g37" gradientUnits="userSpaceOnUse" x1="0" y1="0" x2="0" y2="530"><stop offset="0.000" stop-color="#1cd462" stop-opacity="0.00"/><stop offset="0.240" stop-color="#20cc6c" stop-opacity="0.00"/><stop offset="0.321" stop-color="#28c584" stop-opacity="0.00"/><stop offset="0.406" stop-color="#2fbc9a" stop-opacity="0.00"/><stop offset="0.481" stop-color="#2fa9b2" stop-opacity="0.00"/><stop offset="0.528" stop-color="#329ec6" stop-opacity="0.00"/><stop offset="0.557" stop-color="#3398d2" stop-opacity="0.05"/><stop offset="0.566" stop-color="#3498d4" stop-opacity="0.07"/><stop offset="0.672" stop-color="#3a94ec" stop-opacity="0.09"/><stop offset="0.755" stop-color="#3a84ec" stop-opacity="0.10"/><stop offset="0.817" stop-color="#3a78ec" stop-opacity="0.11"/><stop offset="0.887" stop-color="#3e6de9" stop-opacity="0.12"/><stop offset="0.906" stop-color="#3f6ae8" stop-opacity="0.13"/><stop offset="1.000" stop-color="#4a64e6" stop-opacity="0.16"/></linearGradient><linearGradient id="g38" gradientUnits="userSpaceOnUse" x1="0" y1="0" x2="0" y2="530"><stop offset="0.000" stop-color="#1cd462" stop-opacity="0.00"/><stop offset="0.240" stop-color="#20cc6c" stop-opacity="0.00"/><stop offset="0.321" stop-color="#28c584" stop-opacity="0.00"/><stop offset="0.406" stop-color="#2fbc9a" stop-opacity="0.00"/><stop offset="0.481" stop-color="#2fa9b2" stop-opacity="0.00"/><stop offset="0.528" stop-color="#329ec6" stop-opacity="0.00"/><stop offset="0.557" stop-color="#3398d2" stop-opacity="0.10"/><stop offset="0.566" stop-color="#3498d4" stop-opacity="0.14"/><stop offset="0.672" stop-color="#3a94ec" stop-opacity="0.17"/><stop offset="0.755" stop-color="#3a84ec" stop-opacity="0.20"/><stop offset="0.817" stop-color="#3a78ec" stop-opacity="0.22"/><stop offset="0.887" stop-color="#3e6de9" stop-opacity="0.24"/><stop offset="0.906" stop-color="#3f6ae8" stop-opacity="0.25"/><stop offset="1.000" stop-color="#4a64e6" stop-opacity="0.32"/></linearGradient><linearGradient id="g39" gradientUnits="userSpaceOnUse" x1="0" y1="0" x2="0" y2="530"><stop offset="0.000" stop-color="#1cd462" stop-opacity="0.00"/><stop offset="0.240" stop-color="#20cc6c" stop-opacity="0.00"/><stop offset="0.321" stop-color="#28c584" stop-opacity="0.00"/><stop offset="0.406" stop-color="#2fbc9a" stop-opacity="0.00"/><stop offset="0.481" stop-color="#2fa9b2" stop-opacity="0.00"/><stop offset="0.528" stop-color="#329ec6" stop-opacity="0.00"/><stop offset="0.557" stop-color="#3398d2" stop-opacity="0.16"/><stop offset="0.566" stop-color="#3498d4" stop-opacity="0.21"/><stop offset="0.672" stop-color="#3a94ec" stop-opacity="0.26"/><stop offset="0.755" stop-color="#3a84ec" stop-opacity="0.30"/><stop offset="0.817" stop-color="#3a78ec" stop-opacity="0.33"/><stop offset="0.887" stop-color="#3e6de9" stop-opacity="0.36"/><stop offset="0.906" stop-color="#3f6ae8" stop-opacity="0.38"/><stop offset="1.000" stop-color="#4a64e6" stop-opacity="0.48"/></linearGradient><linearGradient id="g40" gradientUnits="userSpaceOnUse" x1="0" y1="0" x2="0" y2="530"><stop offset="0.000" stop-color="#0a8a30" stop-opacity="0.00"/><stop offset="0.085" stop-color="#0a7a2c" stop-opacity="0.00"/><stop offset="0.142" stop-color="#04301a" stop-opacity="0.00"/><stop offset="0.283" stop-color="#053a20" stop-opacity="0.00"/><stop offset="0.385" stop-color="#08503a" stop-opacity="0.00"/><stop offset="0.387" stop-color="#08503b" stop-opacity="0.00"/><stop offset="0.443" stop-color="#084c4c" stop-opacity="0.70"/><stop offset="0.481" stop-color="#084a58" stop-opacity="0.90"/><stop offset="0.500" stop-color="#08465e"/><stop offset="0.557" stop-color="#083a70"/><stop offset="0.672" stop-color="#0a3f9a"/><stop offset="0.817" stop-color="#08289a"/><stop offset="1.000" stop-color="#081f90"/></linearGradient><linearGradient id="g41" gradientUnits="userSpaceOnUse" x1="0" y1="0" x2="0" y2="530"><stop offset="0.000" stop-color="#1cd462" stop-opacity="0.00"/><stop offset="0.240" stop-color="#20cc6c" stop-opacity="0.00"/><stop offset="0.321" stop-color="#28c584" stop-opacity="0.00"/><stop offset="0.406" stop-color="#2fbc9a" stop-opacity="0.00"/><stop offset="0.425" stop-color="#2fb7a0" stop-opacity="0.00"/><stop offset="0.481" stop-color="#2fa9b2" stop-opacity="0.30"/><stop offset="0.528" stop-color="#329ec6" stop-opacity="0.70"/><stop offset="0.557" stop-color="#3398d2"/><stop offset="0.672" stop-color="#3a94ec"/><stop offset="0.817" stop-color="#3a78ec"/><stop offset="0.906" stop-color="#3f6ae8"/><stop offset="1.000" stop-color="#4a64e6"/></linearGradient><linearGradient id="g42" gradientUnits="userSpaceOnUse" x1="0" y1="0" x2="0" y2="530"><stop offset="0.000" stop-color="#0a8a30" stop-opacity="0.00"/><stop offset="0.085" stop-color="#0a7a2c" stop-opacity="0.00"/><stop offset="0.142" stop-color="#04301a" stop-opacity="0.00"/><stop offset="0.283" stop-color="#053a20" stop-opacity="0.00"/><stop offset="0.385" stop-color="#08503a" stop-opacity="0.00"/><stop offset="0.425" stop-color="#084e46" stop-opacity="0.00"/><stop offset="0.481" stop-color="#084a58" stop-opacity="0.10"/><stop offset="0.557" stop-color="#083a70" stop-opacity="0.45"/><stop offset="0.672" stop-color="#0a3f9a" stop-opacity="0.45"/><stop offset="0.755" stop-color="#09329a" stop-opacity="0.45"/><stop offset="0.817" stop-color="#08289a" stop-opacity="0.64"/><stop offset="0.887" stop-color="#082596" stop-opacity="0.85"/><stop offset="1.000" stop-color="#081f90"/></linearGradient><linearGradient id="g43" gradientUnits="userSpaceOnUse" x1="0" y1="0" x2="0" y2="530"><stop offset="0.000" stop-color="#0a8a30" stop-opacity="0.00"/><stop offset="0.085" stop-color="#0a7a2c" stop-opacity="0.00"/><stop offset="0.142" stop-color="#04301a" stop-opacity="0.00"/><stop offset="0.283" stop-color="#053a20" stop-opacity="0.00"/><stop offset="0.385" stop-color="#08503a" stop-opacity="0.00"/><stop offset="0.481" stop-color="#084a58" stop-opacity="0.00"/><stop offset="0.509" stop-color="#084461" stop-opacity="0.00"/><stop offset="0.557" stop-color="#083a70" stop-opacity="0.45"/><stop offset="0.672" stop-color="#0a3f9a" stop-opacity="0.36"/><stop offset="0.755" stop-color="#09329a" stop-opacity="0.30"/><stop offset="0.817" stop-color="#08289a" stop-opacity="0.05"/><stop offset="0.830" stop-color="#082799" stop-opacity="0.00"/><stop offset="1.000" stop-color="#081f90" stop-opacity="0.00"/></linearGradient><linearGradient id="g44" gradientUnits="userSpaceOnUse" x1="0" y1="0" x2="0" y2="530"><stop offset="0.000" stop-color="#d6f8e8" stop-opacity="0.00"/><stop offset="0.283" stop-color="#d2f6ec" stop-opacity="0.00"/><stop offset="0.481" stop-color="#c8ecf0" stop-opacity="0.00"/><stop offset="0.672" stop-color="#d4e8fc" stop-opacity="0.00"/><stop offset="0.745" stop-color="#d3e3fc" stop-opacity="0.00"/><stop offset="0.792" stop-color="#d3e0fb" stop-opacity="0.22"/><stop offset="0.849" stop-color="#d2dcfb" stop-opacity="0.23"/><stop offset="0.925" stop-color="#ccd4fa" stop-opacity="0.25"/><stop offset="0.958" stop-color="#c9d0f9" stop-opacity="0.10"/><stop offset="1.000" stop-color="#c6ccf8" stop-opacity="0.10"/></linearGradient><linearGradient id="g45" gradientUnits="userSpaceOnUse" x1="0" y1="0" x2="0" y2="530"><stop offset="0.000" stop-color="#d6f8e8" stop-opacity="0.00"/><stop offset="0.283" stop-color="#d2f6ec" stop-opacity="0.00"/><stop offset="0.481" stop-color="#c8ecf0" stop-opacity="0.00"/><stop offset="0.494" stop-color="#c9ecf1" stop-opacity="0.00"/><stop offset="0.521" stop-color="#caebf2" stop-opacity="0.90"/><stop offset="0.672" stop-color="#d4e8fc" stop-opacity="0.90"/><stop offset="0.849" stop-color="#d2dcfb" stop-opacity="0.90"/><stop offset="0.934" stop-color="#cbd3f9" stop-opacity="0.90"/><stop offset="0.962" stop-color="#c9d0f9" stop-opacity="0.50"/><stop offset="1.000" stop-color="#c6ccf8" stop-opacity="0.50"/></linearGradient><linearGradient id="g46" gradientUnits="userSpaceOnUse" x1="0" y1="0" x2="0" y2="530"><stop offset="0.000" stop-color="#1cd462" stop-opacity="0.00"/><stop offset="0.240" stop-color="#20cc6c" stop-opacity="0.00"/><stop offset="0.321" stop-color="#28c584" stop-opacity="0.00"/><stop offset="0.406" stop-color="#2fbc9a" stop-opacity="0.00"/><stop offset="0.481" stop-color="#2fa9b2" stop-opacity="0.00"/><stop offset="0.494" stop-color="#30a6b8" stop-opacity="0.00"/><stop offset="0.521" stop-color="#31a0c3" stop-opacity="0.22"/><stop offset="0.557" stop-color="#3398d2" stop-opacity="0.22"/><stop offset="0.672" stop-color="#3a94ec" stop-opacity="0.22"/><stop offset="0.817" stop-color="#3a78ec" stop-opacity="0.22"/><stop offset="0.830" stop-color="#3b76eb" stop-opacity="0.22"/><stop offset="0.887" stop-color="#3e6de9" stop-opacity="0.18"/><stop offset="0.906" stop-color="#3f6ae8" stop-opacity="0.16"/><stop offset="0.940" stop-color="#4368e7" stop-opacity="0.13"/><stop offset="0.962" stop-color="#4666e7" stop-opacity="0.04"/><stop offset="1.000" stop-color="#4a64e6" stop-opacity="0.04"/></linearGradient><linearGradient id="g47" gradientUnits="userSpaceOnUse" x1="0" y1="0" x2="0" y2="530"><stop offset="0.000" stop-color="#1cd462" stop-opacity="0.00"/><stop offset="0.240" stop-color="#20cc6c" stop-opacity="0.00"/><stop offset="0.321" stop-color="#28c584" stop-opacity="0.00"/><stop offset="0.406" stop-color="#2fbc9a" stop-opacity="0.00"/><stop offset="0.481" stop-color="#2fa9b2" stop-opacity="0.00"/><stop offset="0.494" stop-color="#30a6b8" stop-opacity="0.00"/><stop offset="0.521" stop-color="#31a0c3" stop-opacity="0.16"/><stop offset="0.557" stop-color="#3398d2" stop-opacity="0.16"/><stop offset="0.672" stop-color="#3a94ec" stop-opacity="0.16"/><stop offset="0.817" stop-color="#3a78ec" stop-opacity="0.16"/><stop offset="0.830" stop-color="#3b76eb" stop-opacity="0.16"/><stop offset="0.887" stop-color="#3e6de9" stop-opacity="0.13"/><stop offset="0.906" stop-color="#3f6ae8" stop-opacity="0.12"/><stop offset="0.940" stop-color="#4368e7" stop-opacity="0.10"/><stop offset="0.962" stop-color="#4666e7" stop-opacity="0.03"/><stop offset="1.000" stop-color="#4a64e6" stop-opacity="0.03"/></linearGradient><linearGradient id="g48" gradientUnits="userSpaceOnUse" x1="0" y1="0" x2="0" y2="530"><stop offset="0.000" stop-color="#1cd462" stop-opacity="0.00"/><stop offset="0.240" stop-color="#20cc6c" stop-opacity="0.00"/><stop offset="0.321" stop-color="#28c584" stop-opacity="0.00"/><stop offset="0.406" stop-color="#2fbc9a" stop-opacity="0.00"/><stop offset="0.481" stop-color="#2fa9b2" stop-opacity="0.00"/><stop offset="0.494" stop-color="#30a6b8" stop-opacity="0.00"/><stop offset="0.521" stop-color="#31a0c3" stop-opacity="0.26"/><stop offset="0.557" stop-color="#3398d2" stop-opacity="0.26"/><stop offset="0.672" stop-color="#3a94ec" stop-opacity="0.26"/><stop offset="0.817" stop-color="#3a78ec" stop-opacity="0.26"/><stop offset="0.830" stop-color="#3b76eb" stop-opacity="0.26"/><stop offset="0.887" stop-color="#3e6de9" stop-opacity="0.21"/><stop offset="0.906" stop-color="#3f6ae8" stop-opacity="0.19"/><stop offset="0.940" stop-color="#4368e7" stop-opacity="0.16"/><stop offset="0.962" stop-color="#4666e7" stop-opacity="0.05"/><stop offset="1.000" stop-color="#4a64e6" stop-opacity="0.05"/></linearGradient><linearGradient id="g49" gradientUnits="userSpaceOnUse" x1="0" y1="0" x2="0" y2="530"><stop offset="0.000" stop-color="#1cd462" stop-opacity="0.00"/><stop offset="0.240" stop-color="#20cc6c" stop-opacity="0.00"/><stop offset="0.321" stop-color="#28c584" stop-opacity="0.00"/><stop offset="0.406" stop-color="#2fbc9a" stop-opacity="0.00"/><stop offset="0.481" stop-color="#2fa9b2" stop-opacity="0.00"/><stop offset="0.494" stop-color="#30a6b8" stop-opacity="0.00"/><stop offset="0.521" stop-color="#31a0c3" stop-opacity="0.30"/><stop offset="0.557" stop-color="#3398d2" stop-opacity="0.30"/><stop offset="0.672" stop-color="#3a94ec" stop-opacity="0.30"/><stop offset="0.817" stop-color="#3a78ec" stop-opacity="0.30"/><stop offset="0.830" stop-color="#3b76eb" stop-opacity="0.30"/><stop offset="0.887" stop-color="#3e6de9" stop-opacity="0.24"/><stop offset="0.906" stop-color="#3f6ae8" stop-opacity="0.22"/><stop offset="0.940" stop-color="#4368e7" stop-opacity="0.18"/><stop offset="0.962" stop-color="#4666e7" stop-opacity="0.06"/><stop offset="1.000" stop-color="#4a64e6" stop-opacity="0.06"/></linearGradient><linearGradient id="g50" gradientUnits="userSpaceOnUse" x1="0" y1="0" x2="0" y2="530"><stop offset="0.000" stop-color="#8a7cf0" stop-opacity="0.00"/><stop offset="0.849" stop-color="#8a7cf0" stop-opacity="0.00"/><stop offset="0.925" stop-color="#8a7cf0" stop-opacity="0.14"/><stop offset="0.943" stop-color="#8a7cf0" stop-opacity="0.14"/><stop offset="0.962" stop-color="#8a7cf0" stop-opacity="0.06"/><stop offset="1.000" stop-color="#8a7cf0" stop-opacity="0.05"/></linearGradient><linearGradient id="g51" gradientUnits="userSpaceOnUse" x1="0" y1="0" x2="0" y2="530"><stop offset="0.000" stop-color="#0a8a30" stop-opacity="0.00"/><stop offset="0.085" stop-color="#0a7a2c" stop-opacity="0.00"/><stop offset="0.142" stop-color="#04301a" stop-opacity="0.00"/><stop offset="0.283" stop-color="#053a20" stop-opacity="0.00"/><stop offset="0.385" stop-color="#08503a" stop-opacity="0.00"/><stop offset="0.481" stop-color="#084a58" stop-opacity="0.00"/><stop offset="0.494" stop-color="#08475c" stop-opacity="0.00"/><stop offset="0.513" stop-color="#084362"/><stop offset="0.557" stop-color="#083a70"/><stop offset="0.672" stop-color="#0a3f9a"/><stop offset="0.817" stop-color="#08289a"/><stop offset="0.830" stop-color="#082799"/><stop offset="0.887" stop-color="#082596" stop-opacity="0.55"/><stop offset="1.000" stop-color="#081f90" stop-opacity="0.50"/></linearGradient><linearGradient id="g52" gradientUnits="userSpaceOnUse" x1="0" y1="0" x2="0" y2="530"><stop offset="0.000" stop-color="#0a8a30" stop-opacity="0.00"/><stop offset="0.085" stop-color="#0a7a2c" stop-opacity="0.00"/><stop offset="0.142" stop-color="#04301a" stop-opacity="0.00"/><stop offset="0.283" stop-color="#053a20" stop-opacity="0.00"/><stop offset="0.385" stop-color="#08503a" stop-opacity="0.00"/><stop offset="0.481" stop-color="#084a58" stop-opacity="0.00"/><stop offset="0.494" stop-color="#08475c" stop-opacity="0.00"/><stop offset="0.532" stop-color="#083f68" stop-opacity="0.45"/><stop offset="0.557" stop-color="#083a70" stop-opacity="0.45"/><stop offset="0.672" stop-color="#0a3f9a" stop-opacity="0.48"/><stop offset="0.792" stop-color="#082c9a" stop-opacity="0.50"/><stop offset="0.817" stop-color="#08289a" stop-opacity="0.67"/><stop offset="0.858" stop-color="#082698" stop-opacity="0.95"/><stop offset="1.000" stop-color="#081f90" stop-opacity="0.95"/></linearGradient><linearGradient id="g53" gradientUnits="userSpaceOnUse" x1="0" y1="0" x2="0" y2="530"><stop offset="0.000" stop-color="#d6f8e8" stop-opacity="0.00"/><stop offset="0.179" stop-color="#d3f7eb" stop-opacity="0.00"/><stop offset="0.245" stop-color="#d3f6eb" stop-opacity="0.20"/><stop offset="0.283" stop-color="#d2f6ec" stop-opacity="0.19"/><stop offset="0.358" stop-color="#cef2ee" stop-opacity="0.16"/><stop offset="0.443" stop-color="#caeeef" stop-opacity="0.06"/><stop offset="0.481" stop-color="#c8ecf0" stop-opacity="0.02"/><stop offset="0.500" stop-color="#c9ecf1" stop-opacity="0.00"/><stop offset="0.672" stop-color="#d4e8fc" stop-opacity="0.00"/><stop offset="0.849" stop-color="#d2dcfb" stop-opacity="0.00"/><stop offset="1.000" stop-color="#c6ccf8" stop-opacity="0.00"/></linearGradient><linearGradient id="g54" gradientUnits="userSpaceOnUse" x1="0" y1="0" x2="0" y2="530"><stop offset="0.000" stop-color="#d6f8e8" stop-opacity="0.00"/><stop offset="0.226" stop-color="#d3f6eb" stop-opacity="0.00"/><stop offset="0.283" stop-color="#d2f6ec" stop-opacity="0.45"/><stop offset="0.453" stop-color="#c9edef" stop-opacity="0.45"/><stop offset="0.481" stop-color="#c8ecf0" stop-opacity="0.30"/><stop offset="0.538" stop-color="#ccebf4" stop-opacity="0.00"/><stop offset="0.672" stop-color="#d4e8fc" stop-opacity="0.00"/><stop offset="0.849" stop-color="#d2dcfb" stop-opacity="0.00"/><stop offset="1.000" stop-color="#c6ccf8" stop-opacity="0.00"/></linearGradient><linearGradient id="g55" gradientUnits="userSpaceOnUse" x1="0" y1="0" x2="0" y2="530"><stop offset="0.000" stop-color="#50d49a"/><stop offset="0.377" stop-color="#50ccb4"/><stop offset="0.566" stop-color="#60c0d6"/><stop offset="1.000" stop-color="#8aa6e6"/></linearGradient><filter id="sf" x="-5%" y="-5%" width="110%" height="110%"><feGaussianBlur stdDeviation="0.5"/></filter><g id="wave"><path d="M26.2 -5C26.5 -3.9 27.3 -0.8 27.8 1.4C28.3 3.5 28.7 5.7 29.2 7.8C29.7 10 30.3 12.1 31 14.2C31.6 16.2 32.4 18.3 33.2 20.3C34 22.4 34.9 24.4 35.8 26.4C36.6 28.4 37.5 30.4 38.5 32.4C39.4 34.4 40.4 36.3 41.5 38.3C42.6 40.2 43.7 42 44.9 43.9C46.1 45.7 47.4 47.5 48.7 49.3C50 51 51.4 52.8 52.9 54.4C54.3 56 56 57.5 57.6 59C59.2 60.5 60.9 61.8 62.6 63.2C64.3 64.6 66 66.1 67.7 67.4C69.4 68.8 71.1 70.2 72.9 71.5C74.6 72.8 76.4 74.1 78.2 75.4C79.9 76.7 81.7 78.1 83.3 79.5C85 80.9 86.7 82.3 88.3 83.8C89.9 85.3 91.5 86.8 93 88.4C94.6 89.9 96.1 91.5 97.6 93.1C99.1 94.7 100.6 96.3 102.1 97.9C103.6 99.5 105.1 101.1 106.6 102.7C108.1 104.3 109.6 105.9 111.1 107.5C112.6 109.1 114.2 110.7 115.7 112.2C117.3 113.8 118.8 115.3 120.4 116.9C122 118.4 123.5 119.9 125.1 121.4C126.7 123 128.3 124.5 129.9 126C131.5 127.5 133.2 128.9 134.8 130.4C136.4 131.9 138.1 133.3 139.7 134.8C141.3 136.3 142.9 137.8 144.5 139.3C146.1 140.8 147.6 142.4 149 144.1C150.5 145.7 152.7 148.2 153.4 149L158 149C157.8 148.1 157.1 145.6 156.6 143.9C156.1 142.2 155.5 140.5 155 138.8C154.5 137.1 153.9 135.5 153.3 133.8C152.8 132.1 152.2 130.4 151.7 128.7C151.1 127.1 150.6 125.4 150.1 123.7C149.6 122 149.1 120.3 148.6 118.6C148.1 116.9 147.6 115.2 147.1 113.5C146.6 111.8 146.1 110.1 145.6 108.4C145 106.7 144.5 105 144 103.3C143.5 101.7 143 100 142.6 98.2C142.1 96.5 141.7 94.8 141.2 93.1C140.8 91.4 140.4 89.7 140 88C139.5 86.2 139.1 84.5 138.7 82.8C138.3 81.1 137.8 79.4 137.4 77.7C136.9 76 136.4 74.3 135.9 72.6C135.4 70.9 134.9 69.2 134.3 67.5C133.8 65.8 133.2 64.1 132.6 62.5C132 60.8 131.3 59.2 130.6 57.6C129.9 56 129.1 54.4 128.4 52.8C127.6 51.2 126.8 49.6 126 48C125.2 46.4 124.4 44.8 123.7 43.3C122.9 41.7 122.1 40.1 121.3 38.5C120.4 36.9 119.6 35.4 118.8 33.8C118 32.2 117.2 30.7 116.4 29.1C115.7 27.5 115 25.9 114.2 24.2C113.5 22.6 112.9 21 112.2 19.4C111.5 17.7 110.8 16.1 110 14.5C109.3 12.9 108.4 11.3 107.6 9.8C106.8 8.2 105.9 6.7 105.1 5.1C104.4 3.5 103.7 1.9 103.1 0.2C102.6 -1.5 102.2 -4.1 102 -5Z" fill="url(#g1)"/><path d="M29.2 -5C29.5 -3.9 30.3 -0.8 30.8 1.3C31.3 3.5 31.7 5.6 32.2 7.7C32.7 9.8 33.3 11.9 34 14C34.7 16 35.5 18.1 36.3 20.1C37.1 22.1 37.9 24.1 38.8 26.1C39.7 28.1 40.6 30.1 41.5 32.1C42.5 34 43.5 36 44.5 37.9C45.6 39.8 46.7 41.7 47.9 43.5C49.1 45.3 50.3 47.1 51.6 48.9C52.9 50.6 54.2 52.3 55.7 54C57.1 55.6 58.7 57.1 60.3 58.5C61.9 60 63.6 61.4 65.2 62.8C66.9 64.2 68.5 65.7 70.2 67C71.9 68.4 73.6 69.8 75.3 71.1C77 72.5 78.7 73.7 80.4 75.1C82.1 76.4 83.8 77.8 85.4 79.2C87.1 80.6 88.7 82 90.3 83.5C91.8 85 93.4 86.6 94.9 88.1C96.4 89.7 97.8 91.3 99.3 92.9C100.8 94.5 102.2 96.1 103.7 97.7C105.1 99.3 106.6 101 108 102.6C109.5 104.2 111 105.8 112.4 107.4C113.9 108.9 115.4 110.5 116.9 112.1C118.4 113.6 119.9 115.2 121.5 116.7C123 118.3 124.5 119.8 126.1 121.3C127.6 122.9 129.2 124.4 130.7 125.9C132.3 127.4 133.9 128.9 135.5 130.3C137 131.8 138.7 133.3 140.2 134.8C141.8 136.2 143.4 137.7 144.9 139.3C146.4 140.8 147.9 142.4 149.3 144.1C150.8 145.7 152.9 148.2 153.6 149L155.7 149C155.2 148.2 153.8 145.6 152.8 144C151.8 142.3 150.8 140.7 149.7 139.1C148.7 137.4 147.6 135.9 146.5 134.3C145.4 132.7 144.3 131.2 143.2 129.6C142.2 128 141.1 126.4 140 124.8C139 123.2 137.9 121.6 136.9 120C135.8 118.4 134.8 116.8 133.8 115.2C132.7 113.6 131.7 112 130.6 110.3C129.6 108.7 128.6 107.1 127.6 105.4C126.6 103.8 125.6 102.1 124.6 100.5C123.6 98.8 122.6 97.2 121.7 95.5C120.7 93.9 119.8 92.2 118.8 90.5C117.8 88.9 116.9 87.2 115.9 85.6C114.9 84 113.9 82.3 112.8 80.7C111.8 79.1 110.7 77.6 109.6 76C108.5 74.5 107.4 73 106.2 71.5C105.1 69.9 103.9 68.5 102.7 67C101.5 65.5 100.3 64 99.1 62.5C97.9 61 96.7 59.5 95.5 58C94.3 56.5 93 55 91.8 53.5C90.6 52 89.4 50.4 88.3 48.8C87.1 47.2 86 45.6 85 43.9C83.9 42.2 82.9 40.6 81.9 38.8C80.9 37.1 79.9 35.4 79 33.7C78.1 31.9 77.2 30.1 76.4 28.3C75.5 26.5 74.7 24.7 74 22.9C73.2 21.1 72.4 19.2 71.6 17.4C70.9 15.6 70 13.8 69.3 12C68.5 10.1 67.8 8.3 67.1 6.5C66.5 4.6 66 2.7 65.5 0.8C65 -1.1 64.3 -4 64.1 -5Z" fill="url(#g2)"/><path d="M33.8 -5C34 -4 34.9 -0.8 35.4 1.3C35.9 3.4 36.2 5.5 36.8 7.6C37.3 9.6 37.9 11.7 38.6 13.7C39.3 15.8 40.1 17.8 40.9 19.8C41.7 21.8 42.5 23.7 43.4 25.7C44.3 27.7 45.1 29.7 46.1 31.6C47 33.5 48 35.5 49 37.3C50.1 39.2 51.2 41.1 52.3 42.9C53.5 44.7 54.7 46.5 56 48.2C57.2 49.9 58.5 51.7 59.9 53.3C61.3 54.9 62.9 56.4 64.4 57.9C66 59.4 67.6 60.8 69.2 62.2C70.8 63.6 72.4 65.1 74 66.5C75.6 67.8 77.2 69.2 78.8 70.6C80.5 71.9 82.2 73.2 83.8 74.6C85.4 76 87 77.3 88.6 78.8C90.2 80.2 91.7 81.7 93.2 83.2C94.7 84.7 96.2 86.2 97.6 87.8C99 89.4 100.4 91 101.8 92.6C103.2 94.2 104.6 95.8 106 97.4C107.4 99.1 108.8 100.7 110.2 102.3C111.6 103.9 113 105.5 114.4 107.1C115.8 108.7 117.3 110.3 118.7 111.9C120.2 113.4 121.6 115 123.1 116.5C124.5 118.1 126 119.6 127.5 121.2C129 122.7 130.4 124.2 131.9 125.7C133.4 127.2 135 128.7 136.5 130.2C138 131.7 139.5 133.2 141.1 134.7C142.6 136.2 144.1 137.7 145.5 139.3C147 140.8 148.4 142.4 149.8 144C151.2 145.7 153.2 148.2 153.9 149L154.9 149C154.3 148.2 152.6 145.7 151.4 144C150.3 142.4 149.1 140.7 147.9 139.1C146.6 137.6 145.3 136 144.1 134.5C142.8 132.9 141.5 131.4 140.2 129.9C138.9 128.3 137.6 126.8 136.4 125.2C135.1 123.7 133.9 122.1 132.7 120.5C131.4 119 130.2 117.4 129 115.8C127.7 114.2 126.5 112.6 125.3 111C124.1 109.4 122.8 107.8 121.6 106.2C120.5 104.6 119.3 102.9 118.1 101.3C116.9 99.7 115.8 98 114.6 96.4C113.5 94.7 112.3 93.1 111.2 91.5C110 89.8 108.8 88.2 107.7 86.6C106.5 85 105.3 83.4 104 81.8C102.8 80.3 101.5 78.7 100.2 77.3C98.9 75.8 97.5 74.3 96.1 72.9C94.8 71.4 93.4 70 92 68.6C90.6 67.2 89.2 65.7 87.8 64.3C86.4 62.8 85 61.4 83.6 59.9C82.3 58.4 80.8 57 79.5 55.5C78.1 54 76.8 52.4 75.5 50.8C74.2 49.2 73.1 47.5 71.9 45.8C70.8 44.1 69.7 42.4 68.6 40.7C67.5 38.9 66.5 37.1 65.5 35.3C64.5 33.5 63.6 31.7 62.7 29.8C61.8 27.9 61 26.1 60.2 24.2C59.4 22.3 58.6 20.4 57.8 18.5C57 16.6 56.2 14.7 55.5 12.8C54.8 10.8 54.1 8.9 53.5 7C52.9 5 52.4 3 51.9 1C51.4 -1 50.7 -4 50.5 -5Z" fill="url(#g3)"/><path d="M26.2 -5C26.4 -4.3 26.9 -2.4 27.3 -1C27.6 0.3 27.9 1.6 28.2 3C28.4 4.3 28.7 5.6 29 7C29.3 8.3 29.6 9.6 30 11C30.3 12.3 30.8 13.6 31.2 14.9C31.6 16.2 32.1 17.4 32.6 18.7C33.1 20 33.6 21.3 34.1 22.5C34.6 23.8 35.2 25.1 35.7 26.3C36.3 27.6 36.8 28.8 37.4 30.1C38 31.3 38.5 32.5 39.1 33.8C39.8 35 40.4 36.2 41 37.4C41.7 38.6 42.4 39.8 43.1 41C43.8 42.1 44.5 43.3 45.3 44.4C46.1 45.6 46.8 46.7 47.6 47.8C48.4 48.9 49.2 50 50.1 51.1C50.9 52.2 51.8 53.2 52.7 54.2C53.6 55.2 54.6 56.2 55.6 57.2C56.6 58.1 57.6 59 58.6 59.9C59.7 60.8 60.7 61.7 61.8 62.5C62.8 63.4 63.9 64.3 64.9 65.2C66 66 67 66.9 68.1 67.8C69.2 68.6 70.2 69.5 71.3 70.3C72.4 71.1 73.5 71.9 74.6 72.8C75.7 73.6 76.8 74.4 77.9 75.2C79 76 80.1 76.8 81.2 77.7C82.2 78.5 83.3 79.4 84.3 80.3C85.4 81.2 86.4 82.1 87.4 83C88.4 83.9 89.4 84.8 90.4 85.8C91.4 86.7 92.4 87.7 93.3 88.7C94.3 89.6 95.2 90.6 96.2 91.6C97.1 92.6 98.5 94.1 99 94.6L103 93C102.5 92.5 101.2 91 100.3 90.1C99.4 89.1 98.5 88.1 97.6 87.2C96.7 86.2 95.7 85.2 94.8 84.3C93.9 83.3 93 82.4 92 81.4C91.1 80.5 90.1 79.5 89.2 78.6C88.2 77.7 87.3 76.8 86.3 75.9C85.3 75 84.3 74.1 83.3 73.3C82.3 72.4 81.3 71.5 80.2 70.7C79.2 69.9 78.1 69.1 77.1 68.2C76 67.4 75 66.6 74 65.8C72.9 64.9 71.9 64.1 70.9 63.2C69.9 62.4 68.9 61.5 67.9 60.6C66.9 59.7 66 58.7 65.1 57.8C64.1 56.8 63.2 55.9 62.3 54.9C61.4 53.9 60.5 53 59.6 52C58.6 51.1 57.7 50.1 56.8 49.1C55.9 48.2 55 47.2 54.1 46.2C53.3 45.2 52.5 44.1 51.7 43.1C50.9 42 50.1 40.9 49.4 39.8C48.6 38.7 47.9 37.5 47.3 36.4C46.6 35.2 46 34.1 45.4 32.9C44.8 31.7 44.3 30.5 43.7 29.3C43.2 28 42.7 26.8 42.2 25.6C41.8 24.3 41.3 23.1 40.9 21.8C40.5 20.5 40 19.3 39.6 18C39.2 16.8 38.7 15.5 38.3 14.3C37.9 13 37.5 11.7 37.1 10.5C36.7 9.2 36.3 7.9 36 6.6C35.6 5.4 35.3 4.1 35 2.8C34.6 1.5 34.4 0.2 34.1 -1.1C33.8 -2.4 33.3 -4.4 33.2 -5Z" fill="url(#g4)"/><path d="M25.7 -4.9C26 -3.9 26.8 -1 27.2 1C27.7 3 28 5 28.5 6.9C28.9 8.9 29.4 10.9 30 12.9C30.6 14.8 31.3 16.7 32 18.6C32.8 20.5 33.5 22.4 34.3 24.3C35.1 26.2 35.9 28 36.7 29.9C37.6 31.7 38.5 33.6 39.4 35.4C40.3 37.2 41.3 39 42.4 40.7C43.4 42.4 44.5 44.2 45.7 45.8C46.8 47.5 48 49.2 49.2 50.8C50.5 52.4 51.8 54 53.2 55.5C54.6 57 56.1 58.3 57.6 59.7C59.1 61 60.7 62.3 62.3 63.6C63.8 64.9 65.4 66.2 67 67.5C68.5 68.8 70.1 70 71.7 71.3C73.4 72.5 75 73.7 76.6 74.9C78.2 76.1 79.9 77.3 81.4 78.6C83 79.8 84.6 81.1 86.1 82.5C87.6 83.8 89.1 85.2 90.5 86.6C92 88 93.4 89.4 94.8 90.9C96.2 92.3 97.6 93.8 99 95.3C100.3 96.8 101.7 98.3 103.1 99.7C104.5 101.2 105.9 102.7 107.3 104.2C108.6 105.7 110 107.1 111.4 108.6C112.9 110 114.3 111.5 115.7 112.9C117.1 114.4 118.6 115.8 120 117.2C121.5 118.6 122.9 120 124.4 121.4C125.9 122.8 127.3 124.2 128.8 125.6C130.3 127 131.8 128.4 133.3 129.7C134.8 131.1 136.3 132.4 137.8 133.8C139.3 135.2 140.8 136.5 142.3 137.9C143.8 139.3 145.2 140.7 146.6 142.2C148 143.6 149.3 145.1 150.7 146.6C152 148.1 153.3 149.7 154.7 151.2C156 152.8 158 155.1 158.6 155.8L161.8 153.1C161.1 152.3 159.3 149.9 158 148.3C156.7 146.7 155.5 145.1 154.2 143.5C152.9 141.9 151.6 140.3 150.2 138.7C148.8 137.1 147.4 135.6 145.9 134.1C144.5 132.6 143 131.1 141.5 129.7C140.1 128.3 138.6 126.9 137.2 125.5C135.8 124 134.4 122.6 132.9 121.2C131.5 119.8 130.1 118.4 128.8 116.9C127.4 115.4 126 114 124.8 112.4C123.5 110.8 122.3 109.1 121.2 107.5C120 105.9 118.8 104.2 117.7 102.6C116.5 100.9 115.4 99.3 114.2 97.6C113.1 95.9 112 94.2 110.8 92.5C109.7 90.8 108.5 89.1 107.4 87.4C106.2 85.7 105 83.9 103.8 82.2C102.5 80.4 101.3 78.6 99.9 76.9C98.4 75.3 96.8 73.7 95.1 72.2C93.4 70.8 91.6 69.4 89.9 68C88.2 66.7 86.4 65.4 84.7 64.2C83 62.9 81.4 61.8 79.8 60.7C78.3 59.5 76.8 58.4 75.3 57.2C73.7 56 72.2 54.8 70.7 53.6C69.2 52.3 67.7 51.1 66.3 50C64.9 48.8 63.7 47.8 62.5 46.6C61.4 45.4 60.4 44.3 59.3 42.9C58.2 41.6 57.2 40.2 56.1 38.7C55.1 37.3 54.2 35.7 53.1 34.3C52 32.8 50.9 31.5 49.8 30C48.7 28.5 47.6 26.9 46.5 25.4C45.5 23.8 44.4 22.1 43.4 20.5C42.4 18.8 41.4 17.1 40.4 15.5C39.5 13.8 38.5 12.2 37.7 10.5C36.8 8.8 36.1 7.2 35.3 5.3C34.6 3.5 33.8 1.6 33.1 -0.4C32.5 -2.3 31.7 -5.3 31.4 -6.3Z" fill="url(#g5)"/><path d="M25.7 -4.9C26 -3.9 26.8 -1 27.2 1C27.7 3 28 5 28.5 6.9C28.9 8.9 29.4 10.9 30 12.9C30.6 14.8 31.3 16.7 32 18.6C32.8 20.5 33.5 22.4 34.3 24.3C35.1 26.2 35.9 28 36.7 29.9C37.6 31.7 38.5 33.6 39.4 35.4C40.3 37.2 41.3 39 42.4 40.7C43.4 42.4 44.5 44.2 45.7 45.8C46.8 47.5 48 49.2 49.2 50.8C50.5 52.4 51.8 54 53.2 55.5C54.6 57 56.1 58.3 57.6 59.7C59.1 61 60.7 62.3 62.3 63.6C63.8 64.9 65.4 66.2 67 67.5C68.5 68.8 70.1 70 71.7 71.3C73.4 72.5 75 73.7 76.6 74.9C78.2 76.1 79.9 77.3 81.4 78.6C83 79.8 84.6 81.1 86.1 82.5C87.6 83.8 89.1 85.2 90.5 86.6C92 88 93.4 89.4 94.8 90.9C96.2 92.3 97.6 93.8 99 95.3C100.3 96.8 101.7 98.3 103.1 99.7C104.5 101.2 105.9 102.7 107.3 104.2C108.6 105.7 110 107.1 111.4 108.6C112.9 110 114.3 111.5 115.7 112.9C117.1 114.4 118.6 115.8 120 117.2C121.5 118.6 122.9 120 124.4 121.4C125.9 122.8 127.3 124.2 128.8 125.6C130.3 127 131.8 128.4 133.3 129.7C134.8 131.1 136.3 132.4 137.8 133.8C139.3 135.2 140.8 136.5 142.3 137.9C143.8 139.3 145.2 140.7 146.6 142.2C148 143.6 149.3 145.1 150.7 146.6C152 148.1 153.3 149.7 154.7 151.2C156 152.8 158 155.1 158.6 155.8L160.8 153.9C160.2 153.1 158.3 150.8 157 149.2C155.7 147.6 154.5 146 153.1 144.4C151.8 142.9 150.5 141.3 149.1 139.7C147.7 138.2 146.3 136.7 144.8 135.2C143.4 133.8 141.9 132.4 140.4 130.9C138.9 129.5 137.5 128.2 136 126.8C134.6 125.4 133.1 124 131.7 122.6C130.3 121.1 128.8 119.7 127.4 118.3C126 116.8 124.6 115.4 123.3 113.9C122 112.4 120.7 110.8 119.5 109.2C118.2 107.6 116.9 106.1 115.7 104.5C114.5 102.9 113.2 101.3 112 99.7C110.8 98.1 109.6 96.4 108.4 94.8C107.1 93.2 105.9 91.6 104.7 89.9C103.4 88.3 102.2 86.6 100.9 85C99.6 83.3 98.3 81.6 96.9 80C95.4 78.4 93.8 77 92.2 75.5C90.6 74.1 88.9 72.7 87.2 71.4C85.5 70.1 83.8 68.8 82.1 67.6C80.5 66.4 78.8 65.2 77.2 64.1C75.7 62.9 74.1 61.7 72.6 60.5C71.1 59.3 69.5 58 68 56.8C66.5 55.5 64.9 54.3 63.5 53.1C62.1 51.9 60.8 50.7 59.5 49.4C58.3 48.2 57.2 46.9 56.1 45.5C54.9 44.1 53.8 42.5 52.8 41C51.7 39.5 50.7 37.9 49.7 36.3C48.6 34.8 47.5 33.3 46.5 31.7C45.4 30.1 44.4 28.5 43.4 26.8C42.4 25.1 41.5 23.4 40.5 21.7C39.6 20 38.7 18.2 37.8 16.5C36.9 14.7 36 13 35.3 11.2C34.5 9.5 33.9 7.7 33.2 5.8C32.5 4 31.9 2 31.3 0C30.7 -1.9 30 -4.9 29.7 -5.9Z" fill="url(#g6)"/><path d="M25.7 -4.9C26 -3.9 26.8 -1 27.2 1C27.7 3 28 5 28.5 6.9C28.9 8.9 29.4 10.9 30 12.9C30.6 14.8 31.3 16.7 32 18.6C32.8 20.5 33.5 22.4 34.3 24.3C35.1 26.2 35.9 28 36.7 29.9C37.6 31.7 38.5 33.6 39.4 35.4C40.3 37.2 41.3 39 42.4 40.7C43.4 42.4 44.5 44.2 45.7 45.8C46.8 47.5 48 49.2 49.2 50.8C50.5 52.4 51.8 54 53.2 55.5C54.6 57 56.1 58.3 57.6 59.7C59.1 61 60.7 62.3 62.3 63.6C63.8 64.9 65.4 66.2 67 67.5C68.5 68.8 70.1 70 71.7 71.3C73.4 72.5 75 73.7 76.6 74.9C78.2 76.1 79.9 77.3 81.4 78.6C83 79.8 84.6 81.1 86.1 82.5C87.6 83.8 89.1 85.2 90.5 86.6C92 88 93.4 89.4 94.8 90.9C96.2 92.3 97.6 93.8 99 95.3C100.3 96.8 101.7 98.3 103.1 99.7C104.5 101.2 105.9 102.7 107.3 104.2C108.6 105.7 110 107.1 111.4 108.6C112.9 110 114.3 111.5 115.7 112.9C117.1 114.4 118.6 115.8 120 117.2C121.5 118.6 122.9 120 124.4 121.4C125.9 122.8 127.3 124.2 128.8 125.6C130.3 127 131.8 128.4 133.3 129.7C134.8 131.1 136.3 132.4 137.8 133.8C139.3 135.2 140.8 136.5 142.3 137.9C143.8 139.3 145.2 140.7 146.6 142.2C148 143.6 149.3 145.1 150.7 146.6C152 148.1 153.3 149.7 154.7 151.2C156 152.8 158 155.1 158.6 155.8L160.2 154.5C159.5 153.7 157.6 151.3 156.3 149.8C155 148.2 153.7 146.6 152.4 145.1C151.1 143.5 149.8 142 148.4 140.5C147 139 145.5 137.5 144.1 136C142.6 134.6 141.1 133.2 139.6 131.8C138.1 130.4 136.6 129.1 135.2 127.7C133.7 126.3 132.3 124.9 130.8 123.5C129.4 122.1 127.9 120.7 126.5 119.3C125.1 117.8 123.6 116.4 122.3 114.9C120.9 113.4 119.6 111.9 118.3 110.4C116.9 108.9 115.6 107.3 114.3 105.8C113 104.2 111.8 102.7 110.5 101.1C109.2 99.6 107.9 98 106.7 96.4C105.4 94.8 104.1 93.3 102.8 91.7C101.5 90.1 100.2 88.5 98.9 86.9C97.5 85.3 96.2 83.7 94.8 82.2C93.3 80.7 91.8 79.2 90.2 77.8C88.6 76.4 86.9 75.1 85.3 73.8C83.6 72.5 81.9 71.2 80.3 70C78.7 68.8 77 67.6 75.4 66.4C73.8 65.2 72.3 64.1 70.7 62.8C69.2 61.6 67.6 60.3 66.1 59C64.6 57.8 63 56.5 61.6 55.3C60.1 54 58.7 52.8 57.4 51.4C56.1 50.1 55 48.7 53.8 47.2C52.6 45.8 51.5 44.2 50.4 42.6C49.3 41 48.3 39.4 47.3 37.8C46.2 36.2 45.1 34.6 44.1 32.9C43.1 31.2 42.2 29.5 41.2 27.8C40.3 26.1 39.4 24.3 38.5 22.5C37.6 20.8 36.8 19 35.9 17.2C35.1 15.4 34.3 13.6 33.6 11.8C32.9 9.9 32.3 8.1 31.7 6.2C31.1 4.3 30.6 2.3 30.1 0.3C29.5 -1.6 28.7 -4.6 28.5 -5.6Z" fill="url(#g7)"/><path d="M25.7 -4.9C26 -3.9 26.8 -1 27.2 1C27.7 3 28 5 28.5 6.9C28.9 8.9 29.4 10.9 30 12.9C30.6 14.8 31.3 16.7 32 18.6C32.8 20.5 33.5 22.4 34.3 24.3C35.1 26.2 35.9 28 36.7 29.9C37.6 31.7 38.5 33.6 39.4 35.4C40.3 37.2 41.3 39 42.4 40.7C43.4 42.4 44.5 44.2 45.7 45.8C46.8 47.5 48 49.2 49.2 50.8C50.5 52.4 51.8 54 53.2 55.5C54.6 57 56.1 58.3 57.6 59.7C59.1 61 60.7 62.3 62.3 63.6C63.8 64.9 65.4 66.2 67 67.5C68.5 68.8 70.1 70 71.7 71.3C73.4 72.5 75 73.7 76.6 74.9C78.2 76.1 79.9 77.3 81.4 78.6C83 79.8 84.6 81.1 86.1 82.5C87.6 83.8 89.1 85.2 90.5 86.6C92 88 93.4 89.4 94.8 90.9C96.2 92.3 97.6 93.8 99 95.3C100.3 96.8 101.7 98.3 103.1 99.7C104.5 101.2 105.9 102.7 107.3 104.2C108.6 105.7 110 107.1 111.4 108.6C112.9 110 114.3 111.5 115.7 112.9C117.1 114.4 118.6 115.8 120 117.2C121.5 118.6 122.9 120 124.4 121.4C125.9 122.8 127.3 124.2 128.8 125.6C130.3 127 131.8 128.4 133.3 129.7C134.8 131.1 136.3 132.4 137.8 133.8C139.3 135.2 140.8 136.5 142.3 137.9C143.8 139.3 145.2 140.7 146.6 142.2C148 143.6 149.3 145.1 150.7 146.6C152 148.1 153.3 149.7 154.7 151.2C156 152.8 158 155.1 158.6 155.8L159.8 154.8C159.1 154.1 157.2 151.7 155.9 150.2C154.6 148.6 153.3 147.1 151.9 145.5C150.6 144 149.3 142.4 147.9 140.9C146.5 139.4 145 138 143.6 136.5C142.1 135.1 140.6 133.8 139.1 132.4C137.6 131 136.1 129.6 134.6 128.3C133.2 126.9 131.7 125.5 130.2 124.1C128.8 122.7 127.3 121.3 125.9 119.9C124.4 118.5 123 117 121.6 115.6C120.2 114.1 118.9 112.6 117.5 111.1C116.1 109.6 114.8 108.1 113.5 106.6C112.1 105.1 110.8 103.6 109.5 102.1C108.2 100.5 106.9 99 105.6 97.5C104.2 95.9 102.9 94.4 101.6 92.8C100.3 91.3 99 89.7 97.6 88.2C96.2 86.6 94.9 85.1 93.4 83.6C92 82.1 90.4 80.7 88.9 79.3C87.3 77.9 85.7 76.6 84.1 75.3C82.4 74 80.8 72.8 79.1 71.6C77.5 70.3 75.9 69.2 74.3 68C72.7 66.8 71.1 65.6 69.5 64.3C68 63.1 66.4 61.8 64.9 60.5C63.4 59.2 61.8 58 60.3 56.7C58.8 55.4 57.4 54.1 56.1 52.7C54.8 51.3 53.5 49.9 52.4 48.4C51.2 46.8 50 45.2 48.9 43.6C47.8 42 46.8 40.4 45.7 38.7C44.7 37 43.6 35.4 42.7 33.7C41.7 32 40.7 30.2 39.8 28.4C38.9 26.7 38.1 24.9 37.2 23.1C36.4 21.3 35.5 19.4 34.7 17.6C34 15.8 33.2 14 32.5 12.1C31.9 10.2 31.3 8.3 30.8 6.4C30.2 4.5 29.8 2.5 29.2 0.5C28.7 -1.4 27.9 -4.4 27.7 -5.4Z" fill="url(#g8)"/><path d="M23.3 -4.3C23.5 -3.3 24.3 -0.4 24.8 1.6C25.2 3.5 25.6 5.5 26 7.5C26.5 9.5 27 11.6 27.6 13.6C28.2 15.6 29 17.6 29.7 19.5C30.4 21.4 31.2 23.3 32 25.2C32.8 27.1 33.6 29 34.5 30.9C35.3 32.8 36.2 34.7 37.2 36.5C38.1 38.4 39.1 40.2 40.2 42C41.3 43.8 42.4 45.5 43.6 47.2C44.8 49 46 50.7 47.2 52.3C48.5 54 49.9 55.7 51.4 57.2C52.8 58.7 54.4 60.2 56 61.5C57.5 62.9 59.1 64.2 60.7 65.5C62.2 66.8 63.8 68.2 65.4 69.4C67 70.7 68.6 72 70.2 73.2C71.9 74.5 73.5 75.7 75.1 76.9C76.7 78.1 78.3 79.3 79.9 80.5C81.4 81.8 82.9 83 84.4 84.3C85.9 85.6 87.4 87 88.8 88.4C90.2 89.7 91.6 91.2 93 92.6C94.4 94.1 95.8 95.5 97.1 97C98.5 98.5 99.9 100 101.3 101.4C102.7 102.9 104 104.4 105.4 105.9C106.8 107.4 108.2 108.9 109.6 110.3C111.1 111.8 112.5 113.2 113.9 114.7C115.4 116.1 116.8 117.6 118.3 119C119.7 120.4 121.2 121.8 122.7 123.2C124.1 124.7 125.6 126.1 127.1 127.4C128.6 128.8 130.1 130.2 131.6 131.6C133.1 133 134.7 134.3 136.1 135.7C137.6 137 139.1 138.3 140.6 139.7C142 141.1 143.4 142.5 144.8 143.9C146.2 145.3 147.5 146.8 148.8 148.3C150.1 149.8 151.4 151.3 152.8 152.9C154.1 154.4 156.1 156.7 156.7 157.5L159 155.5C158.3 154.7 156.4 152.4 155 150.9C153.7 149.4 152.4 147.8 151.1 146.3C149.7 144.8 148.4 143.3 147 141.8C145.6 140.3 144.1 138.9 142.6 137.5C141.2 136.1 139.7 134.8 138.2 133.4C136.7 132.1 135.1 130.7 133.6 129.4C132.1 128 130.6 126.6 129.2 125.3C127.7 123.9 126.2 122.5 124.7 121.1C123.3 119.7 121.8 118.3 120.4 116.9C118.9 115.4 117.5 114 116.1 112.6C114.6 111.1 113.2 109.7 111.8 108.2C110.4 106.8 109 105.3 107.6 103.8C106.2 102.4 104.8 100.9 103.5 99.4C102.1 97.9 100.7 96.4 99.3 94.9C97.9 93.5 96.6 92 95.1 90.5C93.7 89.1 92.3 87.6 90.9 86.2C89.4 84.8 87.9 83.4 86.4 82.1C84.9 80.7 83.3 79.4 81.8 78.2C80.2 76.9 78.5 75.7 76.9 74.5C75.3 73.3 73.7 72.1 72.1 70.9C70.4 69.6 68.8 68.4 67.3 67.1C65.7 65.8 64.1 64.5 62.6 63.2C61 61.9 59.5 60.7 58 59.3C56.4 58 54.9 56.6 53.5 55.1C52.1 53.7 50.9 52.1 49.6 50.5C48.4 48.9 47.2 47.2 46.1 45.6C44.9 43.9 43.8 42.2 42.8 40.4C41.8 38.7 40.8 36.9 39.8 35.1C38.9 33.3 38 31.5 37.2 29.7C36.3 27.8 35.5 26 34.8 24.1C34 22.2 33.2 20.3 32.5 18.4C31.8 16.5 31.1 14.6 30.5 12.7C29.9 10.8 29.4 8.8 29 6.8C28.5 4.9 28.2 2.9 27.7 0.9C27.3 -1.1 26.5 -4 26.2 -5Z" fill="url(#g9)"/><path d="M29.9 -6C30.2 -5 30.9 -2 31.5 0C32.1 2 32.8 3.9 33.5 5.8C34.1 7.6 34.8 9.4 35.6 11.2C36.3 12.9 37.2 14.6 38.1 16.3C39 18.1 39.9 19.8 40.9 21.5C41.8 23.2 42.8 25 43.8 26.6C44.8 28.3 45.8 29.9 46.9 31.5C47.9 33.1 49 34.5 50.1 36.1C51.1 37.6 52.1 39.2 53.2 40.7C54.2 42.2 55.3 43.8 56.5 45.1C57.6 46.5 58.7 47.8 59.9 49.1C61.1 50.4 62.5 51.5 63.9 52.7C65.3 53.9 66.8 55.1 68.3 56.4C69.8 57.6 71.4 58.9 72.9 60.1C74.5 61.3 76 62.5 77.6 63.6C79.1 64.8 80.8 66 82.4 67.2C84.1 68.4 85.8 69.7 87.5 71C89.2 72.3 90.9 73.7 92.6 75.1C94.2 76.5 95.8 78 97.2 79.6C98.7 81.2 100 83 101.3 84.6C102.6 86.3 103.8 87.9 105 89.6C106.3 91.3 107.5 92.9 108.7 94.5C109.9 96.2 111.1 97.8 112.3 99.4C113.5 101 114.7 102.6 115.9 104.2C117.2 105.8 118.4 107.4 119.7 109C120.9 110.6 122.2 112.2 123.5 113.7C124.8 115.2 126.2 116.7 127.6 118.1C129 119.6 130.4 121 131.8 122.4C133.3 123.8 134.7 125.2 136.2 126.6C137.6 128 139.1 129.4 140.6 130.8C142 132.2 143.5 133.6 145 135.1C146.4 136.6 147.9 138.1 149.3 139.6C150.6 141.1 152 142.7 153.3 144.3C154.6 145.9 155.9 147.5 157.1 149.1C158.4 150.7 160.3 153 160.9 153.8L161.6 153.2C161 152.4 159.1 150 157.9 148.4C156.6 146.8 155.4 145.2 154.1 143.6C152.8 142 151.5 140.4 150.1 138.8C148.7 137.3 147.2 135.7 145.8 134.2C144.4 132.7 142.9 131.3 141.4 129.9C139.9 128.4 138.5 127 137 125.6C135.6 124.2 134.2 122.8 132.8 121.4C131.4 119.9 130 118.5 128.6 117.1C127.2 115.6 125.8 114.1 124.6 112.6C123.3 111 122.1 109.3 120.9 107.7C119.7 106.1 118.6 104.5 117.4 102.8C116.2 101.2 115.1 99.5 114 97.9C112.8 96.2 111.7 94.5 110.5 92.8C109.4 91.1 108.2 89.4 107 87.7C105.8 86 104.7 84.3 103.4 82.5C102.2 80.8 100.9 79 99.5 77.3C98 75.7 96.4 74.1 94.7 72.6C93.1 71.2 91.3 69.8 89.6 68.4C87.8 67.1 86.1 65.8 84.4 64.6C82.7 63.4 81.1 62.3 79.5 61.1C77.9 59.9 76.5 58.8 74.9 57.6C73.4 56.4 71.9 55.2 70.4 54C68.9 52.7 67.3 51.5 65.9 50.4C64.6 49.2 63.3 48.1 62.2 47C61 45.8 60 44.6 58.9 43.3C57.8 41.9 56.7 40.5 55.7 39C54.7 37.6 53.7 36 52.7 34.5C51.6 33.1 50.4 31.7 49.4 30.2C48.3 28.7 47.2 27.1 46.2 25.5C45.1 23.9 44.1 22.3 43.1 20.6C42 19 41 17.3 40.1 15.6C39.1 13.9 38.2 12.3 37.4 10.6C36.5 8.9 35.8 7.2 35 5.4C34.3 3.6 33.5 1.6 32.9 -0.3C32.2 -2.3 31.5 -5.3 31.2 -6.3Z" fill="url(#g10)"/><path d="M76.5 78C77 78.5 78.3 79.9 79.2 80.8C80.1 81.8 81 82.7 81.9 83.7C82.8 84.6 83.7 85.6 84.6 86.6C85.5 87.5 86.4 88.5 87.3 89.5C88.2 90.4 89 91.4 89.9 92.4C90.7 93.4 91.6 94.4 92.5 95.4C93.3 96.4 94.2 97.4 95 98.4C95.9 99.4 96.7 100.4 97.6 101.4C98.5 102.3 99.3 103.3 100.2 104.3C101 105.3 101.9 106.3 102.8 107.3C103.6 108.3 104.5 109.3 105.4 110.2C106.2 111.2 107.1 112.2 108 113.2C108.9 114.1 109.8 115.1 110.7 116.1C111.6 117 112.4 118 113.3 119C114.2 119.9 115.1 120.9 116 121.8C116.9 122.8 117.8 123.8 118.6 124.8C119.5 125.7 120.4 126.7 121.3 127.7C122.1 128.7 123 129.7 123.9 130.7C124.7 131.6 125.6 132.6 126.4 133.6C127.3 134.6 128.2 135.6 129 136.6C129.9 137.6 130.8 138.5 131.7 139.5C132.5 140.5 133.4 141.5 134.3 142.4C135.2 143.4 136 144.4 136.9 145.4C137.7 146.4 138.5 147.4 139.3 148.5C140.1 149.5 140.9 150.6 141.6 151.7C142.3 152.8 143 153.9 143.7 155C144.5 156.1 145.1 157.2 145.8 158.3C146.5 159.4 147.2 160.6 147.9 161.7C148.6 162.8 149.4 163.9 150.1 164.9C150.8 166 151.6 167.1 152.3 168.2C153.1 169.3 154.2 170.9 154.6 171.4L173 172.5C172.6 171.9 171.6 170 170.9 168.7C170.2 167.5 169.5 166.2 168.8 165C168 163.8 167.2 162.5 166.2 161.5C165.3 160.4 164.1 159.5 163 158.6C161.9 157.7 160.6 156.9 159.6 156C158.5 155 157.5 154 156.5 152.9C155.6 151.8 154.7 150.7 153.8 149.5C152.9 148.4 152 147.3 151.1 146.2C150.1 145.1 149.2 144.1 148.2 143C147.2 142 146.2 140.9 145.1 139.9C144.1 138.9 143.1 137.9 142 137C140.9 136 139.9 135 138.8 134C137.7 133.1 136.7 132.1 135.6 131.1C134.5 130.2 133.5 129.2 132.4 128.2C131.3 127.3 130.3 126.3 129.2 125.3C128.2 124.3 127.1 123.3 126.1 122.3C125 121.3 124 120.4 123 119.4C121.9 118.4 120.9 117.3 119.9 116.3C118.8 115.3 117.8 114.3 116.8 113.3C115.8 112.3 114.7 111.3 113.7 110.2C112.7 109.2 111.7 108.2 110.7 107.1C109.7 106.1 108.7 105 107.8 104C106.8 102.9 105.8 101.9 104.8 100.8C103.8 99.8 102.8 98.7 101.9 97.7C100.9 96.6 99.9 95.6 98.9 94.5C97.9 93.5 96.9 92.4 96 91.4C95 90.3 94 89.3 92.9 88.2C91.9 87.2 90.9 86.2 89.9 85.2C88.8 84.2 87.7 83.3 86.7 82.3C85.6 81.4 84.5 80.4 83.4 79.5C82.2 78.6 80.6 77.3 80 76.8Z" fill="url(#g11)"/><path d="M77.5 77.6C78 78.1 79.5 79.5 80.5 80.4C81.4 81.4 82.4 82.3 83.4 83.3C84.3 84.2 85.3 85.2 86.2 86.2C87.1 87.1 88.1 88.1 89 89.1C89.9 90.1 90.8 91.1 91.7 92.1C92.6 93.1 93.5 94.1 94.4 95.1C95.3 96.1 96.2 97.1 97.1 98.2C98 99.2 98.9 100.2 99.8 101.2C100.7 102.2 101.5 103.2 102.4 104.2C103.3 105.2 104.2 106.2 105.2 107.2C106.1 108.2 107 109.2 107.9 110.2C108.8 111.2 109.7 112.2 110.6 113.2C111.6 114.2 112.5 115.2 113.4 116.1C114.4 117.1 115.3 118.1 116.2 119.1C117.2 120 118.1 121 119 122C120 123 120.9 123.9 121.8 124.9C122.7 125.9 123.7 126.9 124.6 127.9C125.5 128.8 126.5 129.8 127.4 130.8C128.3 131.8 129.2 132.8 130.2 133.7C131.1 134.7 132 135.7 132.9 136.7C133.9 137.7 134.8 138.6 135.7 139.6C136.6 140.6 137.6 141.6 138.5 142.6C139.4 143.6 140.3 144.6 141.1 145.7C142 146.7 142.8 147.7 143.7 148.8C144.5 149.9 145.3 151 146.1 152.1C146.9 153.1 147.7 154.2 148.5 155.3C149.3 156.4 150.2 157.4 151 158.4C151.8 159.5 152.6 160.5 153.4 161.6C154.2 162.7 155 163.8 155.7 164.9C156.5 166.1 157.2 167.2 157.9 168.3C158.6 169.5 159.8 171.2 160.1 171.7L173 172.5C172.6 171.9 171.6 170 170.9 168.7C170.2 167.5 169.5 166.2 168.8 165C168 163.8 167.2 162.5 166.2 161.5C165.3 160.4 164.1 159.5 163 158.6C161.9 157.7 160.6 156.9 159.6 156C158.5 155 157.5 154 156.5 152.9C155.6 151.8 154.7 150.7 153.8 149.5C152.9 148.4 152 147.3 151.1 146.2C150.1 145.1 149.2 144.1 148.2 143C147.2 142 146.2 140.9 145.1 139.9C144.1 138.9 143.1 137.9 142 137C140.9 136 139.9 135 138.8 134C137.7 133.1 136.7 132.1 135.6 131.1C134.5 130.2 133.5 129.2 132.4 128.2C131.3 127.3 130.3 126.3 129.2 125.3C128.2 124.3 127.1 123.3 126.1 122.3C125 121.3 124 120.4 123 119.4C121.9 118.4 120.9 117.3 119.9 116.3C118.8 115.3 117.8 114.3 116.8 113.3C115.8 112.3 114.7 111.3 113.7 110.2C112.7 109.2 111.7 108.2 110.7 107.1C109.7 106.1 108.7 105 107.8 104C106.8 102.9 105.8 101.9 104.8 100.8C103.8 99.8 102.8 98.7 101.9 97.7C100.9 96.6 99.9 95.6 98.9 94.5C97.9 93.5 96.9 92.4 96 91.4C95 90.3 94 89.3 92.9 88.2C91.9 87.2 90.9 86.2 89.9 85.2C88.8 84.2 87.7 83.3 86.7 82.3C85.6 81.4 84.5 80.4 83.4 79.5C82.2 78.6 80.6 77.3 80 76.8Z" fill="url(#g12)"/><path d="M75.6 78.3C76.1 78.8 77.3 80.2 78.2 81.2C79.1 82.1 79.9 83.1 80.8 84C81.6 85 82.5 85.9 83.3 86.9C84.2 87.8 85 88.8 85.9 89.8C86.7 90.7 87.5 91.7 88.4 92.7C89.2 93.7 90 94.6 90.9 95.6C91.7 96.6 92.5 97.6 93.3 98.5C94.1 99.5 95 100.5 95.8 101.5C96.6 102.5 97.4 103.4 98.3 104.4C99.1 105.4 99.9 106.4 100.8 107.3C101.6 108.3 102.4 109.3 103.3 110.2C104.1 111.2 105 112.2 105.8 113.1C106.7 114.1 107.5 115 108.4 116C109.2 116.9 110.1 117.9 110.9 118.8C111.8 119.8 112.6 120.8 113.5 121.7C114.3 122.7 115.2 123.7 116 124.6C116.8 125.6 117.7 126.6 118.5 127.6C119.3 128.6 120.1 129.5 120.9 130.5C121.7 131.5 122.5 132.5 123.4 133.5C124.2 134.5 125 135.5 125.8 136.5C126.6 137.5 127.5 138.4 128.3 139.4C129.1 140.4 130 141.3 130.8 142.3C131.7 143.3 132.5 144.2 133.3 145.2C134.1 146.2 134.9 147.2 135.7 148.2C136.5 149.3 137.2 150.3 137.9 151.4C138.6 152.5 139.2 153.6 139.8 154.7C140.4 155.9 140.9 157.1 141.5 158.3C142.1 159.4 142.7 160.6 143.3 161.7C144 162.8 144.7 163.9 145.4 164.9C146.2 166 146.9 167 147.7 168C148.5 169.1 149.6 170.6 150 171.1L154.6 171.4C154.2 170.9 153.1 169.3 152.3 168.2C151.6 167.1 150.8 166 150.1 164.9C149.4 163.9 148.6 162.8 147.9 161.7C147.2 160.6 146.5 159.4 145.8 158.3C145.1 157.2 144.5 156.1 143.7 155C143 153.9 142.3 152.8 141.6 151.7C140.9 150.6 140.1 149.5 139.3 148.5C138.5 147.4 137.7 146.4 136.9 145.4C136 144.4 135.2 143.4 134.3 142.4C133.4 141.5 132.5 140.5 131.7 139.5C130.8 138.5 129.9 137.6 129 136.6C128.2 135.6 127.3 134.6 126.4 133.6C125.6 132.6 124.7 131.6 123.9 130.7C123 129.7 122.1 128.7 121.3 127.7C120.4 126.7 119.5 125.7 118.6 124.8C117.8 123.8 116.9 122.8 116 121.8C115.1 120.9 114.2 119.9 113.3 119C112.4 118 111.6 117 110.7 116.1C109.8 115.1 108.9 114.1 108 113.2C107.1 112.2 106.2 111.2 105.4 110.2C104.5 109.3 103.6 108.3 102.8 107.3C101.9 106.3 101 105.3 100.2 104.3C99.3 103.3 98.5 102.3 97.6 101.4C96.7 100.4 95.9 99.4 95 98.4C94.2 97.4 93.3 96.4 92.5 95.4C91.6 94.4 90.7 93.4 89.9 92.4C89 91.4 88.2 90.4 87.3 89.5C86.4 88.5 85.5 87.5 84.6 86.6C83.7 85.6 82.8 84.6 81.9 83.7C81 82.7 80.1 81.8 79.2 80.8C78.3 79.9 77 78.5 76.5 78Z" fill="url(#g13)"/><path d="M33.2 -5C33.4 -4.2 33.9 -1.6 34.3 0C34.7 1.7 35.1 3.4 35.5 5C36 6.7 36.4 8.3 36.9 10C37.4 11.6 38 13.3 38.5 14.9C39.1 16.5 39.6 18.1 40.2 19.8C40.8 21.4 41.3 23 41.9 24.6C42.5 26.2 43.1 27.8 43.8 29.4C44.5 31 45.2 32.5 46 34.1C46.8 35.6 47.7 37.1 48.6 38.5C49.5 40 50.4 41.4 51.5 42.8C52.5 44.2 53.6 45.5 54.7 46.8C55.8 48.1 57 49.3 58.2 50.6C59.3 51.8 60.6 53.1 61.8 54.3C63 55.5 64.2 56.7 65.4 57.9C66.6 59.2 68.4 61 69 61.6" fill="none" stroke="url(#g14)" stroke-width="0.8" stroke-linecap="round"/><path d="M26.2 -5C26.5 -4 27.3 -1.1 27.7 0.9C28.2 2.9 28.5 4.9 29 6.8C29.4 8.8 29.9 10.8 30.5 12.7C31.1 14.6 31.8 16.5 32.5 18.4C33.2 20.3 34 22.2 34.8 24.1C35.5 26 36.3 27.8 37.2 29.7C38 31.5 38.9 33.3 39.8 35.1C40.8 36.9 41.8 38.7 42.8 40.4C43.8 42.2 44.9 43.9 46.1 45.6C47.2 47.2 48.4 48.9 49.6 50.5C50.9 52.1 52.1 53.7 53.5 55.1C54.9 56.6 56.4 58 58 59.3C59.5 60.7 61 61.9 62.6 63.2C64.1 64.5 65.7 65.8 67.3 67.1C68.8 68.4 70.4 69.6 72.1 70.9C73.7 72.1 75.3 73.3 76.9 74.5C78.5 75.7 80.2 76.9 81.8 78.2C83.3 79.4 84.9 80.7 86.4 82.1C87.9 83.4 89.4 84.8 90.9 86.2C92.3 87.6 93.7 89.1 95.1 90.5C96.6 92 97.9 93.5 99.3 94.9C100.7 96.4 102.1 97.9 103.5 99.4C104.8 100.9 106.2 102.4 107.6 103.8C109 105.3 110.4 106.8 111.8 108.2C113.2 109.7 114.6 111.1 116.1 112.6C117.5 114 118.9 115.4 120.4 116.9C121.8 118.3 123.3 119.7 124.7 121.1C126.2 122.5 127.7 123.9 129.2 125.3C130.6 126.6 132.1 128 133.6 129.4C135.1 130.7 136.7 132.1 138.2 133.4C139.7 134.8 141.2 136.1 142.6 137.5C144.1 138.9 145.6 140.3 147 141.8C148.4 143.3 149.7 144.8 151.1 146.3C152.4 147.8 153.7 149.4 155 150.9C156.4 152.4 158.3 154.7 159 155.5" fill="none" stroke="url(#g15)" stroke-width="1.7" stroke-linecap="round"/><path d="M102.4 43.1C103.4 43.9 106.5 46.2 108.4 47.8C110.3 49.4 112.1 50.9 113.7 52.6C115.4 54.2 116.9 55.9 118.3 57.7C119.7 59.4 120.9 61.1 122 63.1C123.1 65 124 67.1 124.8 69.2C125.7 71.4 126.5 73.8 127.3 76.1C128.1 78.5 128.8 80.9 129.5 83.3C130.2 85.7 130.8 88.2 131.4 90.7C132.1 93.3 132.6 95.9 133.3 98.5C134 101.1 134.8 103.8 135.5 106.4C136.3 109 137.1 111.5 137.9 114.1C138.7 116.6 139.4 119.1 140.2 121.6C140.9 124.1 141.7 126.7 142.4 129.2C143.2 131.8 144 134.4 144.9 137C145.7 139.6 146.6 142.3 147.7 144.9C148.7 147.6 149.8 150.2 151 152.8C152.3 155.3 153.6 157.9 155 160.4C156.3 162.8 157.9 165.2 159.2 167.5C160.6 169.7 162.1 171.8 163.3 173.9C164.4 175.9 165.4 177.9 166.3 180C167.2 182.1 167.9 184.3 168.5 186.5C169.2 188.7 169.7 191 170.1 193.4C170.5 195.7 170.8 198.1 171.1 200.5C171.3 203 171.4 205.4 171.6 207.9C171.7 210.4 171.7 213 171.7 215.5C171.7 218 171.7 220.6 171.7 223.1C171.6 225.7 171.5 228.3 171.3 230.9C171.2 233.5 171 236.1 170.9 238.7C170.8 241.4 170.6 244.1 170.5 246.7C170.4 249.4 170.3 252.1 170.2 254.7C170.1 257.2 170.1 259.7 169.9 262.2C169.7 264.6 169.4 266.9 169 269.3C168.6 271.6 168 273.9 167.4 276.2C166.8 278.5 166.2 280.7 165.3 283C164.5 285.2 163.5 287.3 162.4 289.6C161.3 292 159.9 294.5 158.9 297.1C157.8 299.7 156.6 303.7 156.1 305L164.9 308.1C165.3 306.9 166.5 303.1 167.5 300.6C168.5 298.2 169.8 295.9 170.9 293.5C172 291.1 173.1 288.7 174 286.2C175 283.7 175.7 281.2 176.4 278.6C177.1 276.1 177.7 273.5 178.2 270.9C178.6 268.3 178.9 265.6 179.2 263C179.4 260.3 179.4 257.7 179.5 255.1C179.6 252.4 179.7 249.8 179.8 247.1C179.9 244.5 180.1 241.9 180.2 239.2C180.3 236.6 180.5 233.9 180.6 231.3C180.8 228.7 180.9 226 180.9 223.4C181 220.7 181.1 218.1 181 215.5C181 212.8 181 210.2 180.8 207.5C180.7 204.9 180.6 202.2 180.3 199.6C180 197 179.7 194.3 179.2 191.7C178.8 189.1 178.2 186.5 177.5 184C176.8 181.4 175.9 178.9 174.9 176.4C173.9 174 172.7 171.6 171.4 169.3C170.1 167 168.5 164.8 167.2 162.6C165.8 160.3 164.4 158.1 163.1 155.8C161.8 153.5 160.6 151.2 159.5 148.8C158.3 146.4 157.3 144 156.3 141.5C155.4 139.1 154.5 136.6 153.7 134.1C152.9 131.6 152.1 129.1 151.3 126.5C150.6 124 149.8 121.5 149.1 118.9C148.3 116.4 147.5 113.9 146.8 111.3C146 108.8 145.2 106.3 144.4 103.8C143.7 101.2 143 98.7 142.3 96.2C141.7 93.6 141.1 91 140.4 88.5C139.8 85.9 139.2 83.3 138.5 80.8C137.8 78.2 137 75.7 136.1 73.2C135.3 70.7 134.5 68.2 133.5 65.7C132.4 63.3 131.4 60.8 130.1 58.5C128.8 56.2 127.3 54 125.6 51.9C124 49.8 122.2 47.9 120.3 46C118.4 44.1 116.4 42.4 114.4 40.7C112.4 39 109.2 36.6 108.2 35.8Z" fill="url(#g16)"/><path d="M104.3 40.7C105.3 41.5 108.4 43.9 110.4 45.5C112.3 47.1 114.1 48.7 115.9 50.5C117.6 52.2 119.2 53.9 120.7 55.8C122.2 57.7 123.5 59.5 124.6 61.6C125.8 63.6 126.7 65.8 127.6 68.1C128.5 70.4 129.4 72.8 130.2 75.2C131 77.6 131.7 80 132.4 82.5C133.1 85 133.7 87.4 134.3 90C135 92.5 135.5 95.2 136.2 97.7C136.9 100.3 137.6 103 138.4 105.5C139.2 108.1 140 110.7 140.7 113.2C141.5 115.7 142.3 118.2 143 120.7C143.8 123.3 144.5 125.8 145.3 128.4C146.1 130.9 146.9 133.5 147.7 136.1C148.6 138.7 149.5 141.3 150.5 143.8C151.5 146.4 152.6 149 153.8 151.5C154.9 154 156.2 156.5 157.6 158.9C158.9 161.3 160.4 163.6 161.8 165.9C163.2 168.1 164.7 170.2 165.9 172.4C167.1 174.6 168.2 176.6 169.1 178.9C170 181.1 170.8 183.4 171.4 185.7C172.1 188 172.6 190.4 173 192.8C173.5 195.3 173.8 197.7 174 200.2C174.3 202.7 174.4 205.3 174.5 207.8C174.7 210.4 174.7 212.9 174.7 215.5C174.8 218.1 174.7 220.6 174.7 223.2C174.6 225.8 174.5 228.4 174.3 231C174.2 233.6 174 236.3 173.9 238.9C173.8 241.5 173.6 244.2 173.5 246.9C173.4 249.5 173.3 252.2 173.2 254.8C173.1 257.4 173.1 259.9 172.9 262.4C172.7 264.9 172.4 267.3 172 269.8C171.5 272.2 171 274.6 170.3 277C169.7 279.4 169 281.7 168.1 284C167.3 286.3 166.2 288.5 165.1 290.9C164.1 293.2 162.7 295.7 161.6 298.2C160.6 300.8 159.4 304.7 158.9 306L164.9 308.1C165.3 306.9 166.5 303.1 167.5 300.6C168.5 298.2 169.8 295.9 170.9 293.5C172 291.1 173.1 288.7 174 286.2C175 283.7 175.7 281.2 176.4 278.6C177.1 276.1 177.7 273.5 178.2 270.9C178.6 268.3 178.9 265.6 179.2 263C179.4 260.3 179.4 257.7 179.5 255.1C179.6 252.4 179.7 249.8 179.8 247.1C179.9 244.5 180.1 241.9 180.2 239.2C180.3 236.6 180.5 233.9 180.6 231.3C180.8 228.7 180.9 226 180.9 223.4C181 220.7 181.1 218.1 181 215.5C181 212.8 181 210.2 180.8 207.5C180.7 204.9 180.6 202.2 180.3 199.6C180 197 179.7 194.3 179.2 191.7C178.8 189.1 178.2 186.5 177.5 184C176.8 181.4 175.9 178.9 174.9 176.4C173.9 174 172.7 171.6 171.4 169.3C170.1 167 168.5 164.8 167.2 162.6C165.8 160.3 164.4 158.1 163.1 155.8C161.8 153.5 160.6 151.2 159.5 148.8C158.3 146.4 157.3 144 156.3 141.5C155.4 139.1 154.5 136.6 153.7 134.1C152.9 131.6 152.1 129.1 151.3 126.5C150.6 124 149.8 121.5 149.1 118.9C148.3 116.4 147.5 113.9 146.8 111.3C146 108.8 145.2 106.3 144.4 103.8C143.7 101.2 143 98.7 142.3 96.2C141.7 93.6 141.1 91 140.4 88.5C139.8 85.9 139.2 83.3 138.5 80.8C137.8 78.2 137 75.7 136.1 73.2C135.3 70.7 134.5 68.2 133.5 65.7C132.4 63.3 131.4 60.8 130.1 58.5C128.8 56.2 127.3 54 125.6 51.9C124 49.8 122.2 47.9 120.3 46C118.4 44.1 116.4 42.4 114.4 40.7C112.4 39 109.2 36.6 108.2 35.8Z" fill="url(#g17)"/><path d="M105.8 38.8C106.8 39.6 109.9 42 111.9 43.7C113.9 45.3 115.8 47 117.6 48.8C119.3 50.5 121 52.4 122.6 54.3C124.1 56.3 125.5 58.3 126.7 60.4C127.9 62.6 128.9 64.9 129.8 67.2C130.8 69.5 131.6 72 132.4 74.4C133.3 76.9 134 79.3 134.7 81.8C135.4 84.3 136 86.9 136.7 89.4C137.3 92 137.9 94.6 138.5 97.1C139.2 99.7 140 102.3 140.7 104.9C141.5 107.4 142.3 110 143 112.5C143.8 115 144.6 117.5 145.3 120.1C146.1 122.6 146.8 125.1 147.6 127.7C148.4 130.2 149.1 132.8 150 135.3C150.8 137.9 151.7 140.4 152.7 143C153.7 145.5 154.8 148 155.9 150.5C157.1 152.9 158.4 155.4 159.7 157.7C161 160.1 162.5 162.4 163.8 164.6C165.2 166.9 166.7 169 168 171.2C169.2 173.4 170.3 175.6 171.3 177.9C172.3 180.2 173 182.6 173.7 185C174.4 187.5 175 189.9 175.4 192.4C175.9 194.9 176.2 197.4 176.4 200C176.7 202.5 176.8 205.1 176.9 207.7C177.1 210.3 177.1 212.9 177.1 215.5C177.2 218.1 177.1 220.7 177.1 223.3C177 225.9 176.9 228.5 176.7 231.1C176.6 233.7 176.4 236.4 176.3 239C176.2 241.7 176 244.3 175.9 247C175.8 249.6 175.7 252.3 175.6 254.9C175.5 257.5 175.5 260.1 175.3 262.6C175.1 265.2 174.8 267.7 174.3 270.2C173.9 272.7 173.3 275.2 172.6 277.6C172 280.1 171.3 282.5 170.4 284.8C169.5 287.2 168.4 289.5 167.3 291.9C166.2 294.3 164.9 296.7 163.9 299.2C162.8 301.6 161.6 305.5 161.2 306.8L164.9 308.1C165.3 306.9 166.5 303.1 167.5 300.6C168.5 298.2 169.8 295.9 170.9 293.5C172 291.1 173.1 288.7 174 286.2C175 283.7 175.7 281.2 176.4 278.6C177.1 276.1 177.7 273.5 178.2 270.9C178.6 268.3 178.9 265.6 179.2 263C179.4 260.3 179.4 257.7 179.5 255.1C179.6 252.4 179.7 249.8 179.8 247.1C179.9 244.5 180.1 241.9 180.2 239.2C180.3 236.6 180.5 233.9 180.6 231.3C180.8 228.7 180.9 226 180.9 223.4C181 220.7 181.1 218.1 181 215.5C181 212.8 181 210.2 180.8 207.5C180.7 204.9 180.6 202.2 180.3 199.6C180 197 179.7 194.3 179.2 191.7C178.8 189.1 178.2 186.5 177.5 184C176.8 181.4 175.9 178.9 174.9 176.4C173.9 174 172.7 171.6 171.4 169.3C170.1 167 168.5 164.8 167.2 162.6C165.8 160.3 164.4 158.1 163.1 155.8C161.8 153.5 160.6 151.2 159.5 148.8C158.3 146.4 157.3 144 156.3 141.5C155.4 139.1 154.5 136.6 153.7 134.1C152.9 131.6 152.1 129.1 151.3 126.5C150.6 124 149.8 121.5 149.1 118.9C148.3 116.4 147.5 113.9 146.8 111.3C146 108.8 145.2 106.3 144.4 103.8C143.7 101.2 143 98.7 142.3 96.2C141.7 93.6 141.1 91 140.4 88.5C139.8 85.9 139.2 83.3 138.5 80.8C137.8 78.2 137 75.7 136.1 73.2C135.3 70.7 134.5 68.2 133.5 65.7C132.4 63.3 131.4 60.8 130.1 58.5C128.8 56.2 127.3 54 125.6 51.9C124 49.8 122.2 47.9 120.3 46C118.4 44.1 116.4 42.4 114.4 40.7C112.4 39 109.2 36.6 108.2 35.8Z" fill="url(#g18)"/><path d="M104.9 40C105.6 40.5 107.7 42 109 43.1C110.3 44.1 111.6 45.2 112.8 46.2C114 47.3 115.2 48.4 116.4 49.6C117.5 50.7 118.6 51.9 119.7 53.1C120.8 54.3 121.8 55.5 122.7 56.8C123.6 58 124.5 59.3 125.3 60.6C126 62 126.7 63.4 127.4 64.8C128 66.3 128.6 67.8 129.2 69.3C129.7 70.9 130.3 72.5 130.8 74.1C131.3 75.7 131.8 77.3 132.3 78.9C132.8 80.5 133.6 83 133.8 83.8L140 82C139.8 81.1 139.1 78.6 138.5 77C138 75.3 137.5 73.7 137 72C136.4 70.4 135.9 68.7 135.3 67.1C134.6 65.4 134 63.8 133.3 62.2C132.6 60.5 131.8 58.9 130.9 57.4C130 55.9 129 54.4 127.9 52.9C126.9 51.5 125.8 50.1 124.6 48.8C123.4 47.5 122.2 46.2 121 44.9C119.7 43.7 118.4 42.5 117.1 41.4C115.8 40.2 114.4 39.1 113 38C111.7 36.9 109.6 35.3 108.9 34.8Z" fill="url(#g19)"/><path d="M106.3 38.2C107 38.7 109 40.3 110.3 41.4C111.7 42.4 113 43.5 114.3 44.6C115.5 45.7 116.7 46.8 117.9 48C119.1 49.2 120.3 50.4 121.4 51.6C122.4 52.9 123.5 54.1 124.5 55.5C125.4 56.8 126.3 58.1 127.2 59.5C128 61 128.7 62.4 129.4 63.9C130 65.4 130.6 67 131.2 68.6C131.8 70.1 132.4 71.7 132.9 73.4C133.4 75 133.9 76.6 134.4 78.3C134.9 79.9 135.7 82.4 135.9 83.2L139.4 82.2C139.1 81.3 138.4 78.9 137.9 77.2C137.4 75.5 136.9 73.9 136.3 72.2C135.8 70.6 135.2 68.9 134.6 67.3C134 65.7 133.4 64 132.6 62.4C131.9 60.8 131.2 59.3 130.3 57.7C129.4 56.2 128.4 54.8 127.4 53.3C126.3 51.9 125.2 50.6 124.1 49.3C122.9 47.9 121.7 46.7 120.5 45.4C119.2 44.2 117.9 43 116.6 41.9C115.3 40.7 114 39.6 112.6 38.6C111.2 37.5 109.2 35.9 108.5 35.4Z" fill="url(#g20)"/><path d="M118.5 124.6C119.1 125.3 121 127.5 122.3 128.9C123.5 130.3 124.8 131.8 126 133.2C127.3 134.6 128.6 136.1 129.9 137.5C131.1 138.9 132.4 140.3 133.7 141.7C135 143.2 136.2 144.6 137.4 146.1C138.6 147.5 139.8 149.1 140.9 150.6C141.9 152.2 142.9 153.8 144 155.4C145 157.1 146 158.7 147 160.3C148.1 161.9 149.2 163.4 150.3 165C151.4 166.5 152.6 168 153.6 169.7C154.6 171.3 155.5 173 156.3 174.7C157.1 176.4 157.7 178.2 158.3 180C159 181.8 159.5 183.7 160 185.5C160.5 187.3 161 189.2 161.4 191.1C161.9 192.9 162.2 194.8 162.5 196.7C162.9 198.5 163.1 200.4 163.3 202.3C163.5 204.2 163.7 206.1 163.9 208C164 209.9 164.1 211.8 164.2 213.7C164.4 215.6 164.5 217.5 164.6 219.5C164.7 221.4 164.8 223.3 164.9 225.2C164.9 227.1 165 229 165.1 230.9C165.1 232.8 165.2 234.7 165.2 236.6C165.2 238.5 165.2 240.4 165.3 242.3C165.3 244.2 165.3 246.1 165.3 248.1C165.3 250 165.3 251.9 165.3 253.8C165.3 255.7 165.3 257.6 165.3 259.5C165.3 261.4 165.3 263.3 165.3 265.2C165.2 267.1 165.2 269 165.2 270.9C165.2 272.9 165.1 274.8 165.1 276.7C165 278.6 165 280.5 165 282.4C164.9 284.3 164.9 286.2 164.8 288.1C164.8 290 164.8 291.9 164.7 293.8C164.7 295.7 164.7 297.6 164.7 299.6C164.7 301.5 164.6 303.4 164.6 305.3C164.6 307.2 164.6 310 164.6 311L164.6 308C164.9 307.1 165.7 304.4 166.4 302.7C167 300.9 167.8 299.2 168.5 297.5C169.3 295.8 170.2 294.2 171 292.5C171.8 290.8 172.6 289.1 173.3 287.4C174 285.7 174.6 283.9 175.1 282.1C175.7 280.3 176.2 278.5 176.6 276.7C177 274.9 177.5 273.1 177.8 271.2C178.1 269.4 178.4 267.5 178.6 265.7C178.8 263.8 178.9 262 179 260.1C179.2 258.3 179.2 256.4 179.3 254.5C179.3 252.7 179.4 250.8 179.4 248.9C179.5 247.1 179.6 245.2 179.7 243.3C179.8 241.5 179.9 239.6 180 237.7C180.1 235.9 180.2 234 180.3 232.1C180.4 230.3 180.5 228.4 180.5 226.6C180.6 224.7 180.7 222.8 180.7 221C180.7 219.1 180.7 217.2 180.7 215.4C180.7 213.5 180.7 211.6 180.6 209.8C180.6 207.9 180.5 206 180.4 204.2C180.2 202.3 180.1 200.4 179.9 198.6C179.7 196.7 179.5 194.9 179.2 193C178.9 191.2 178.5 189.4 178.1 187.5C177.7 185.7 177.2 183.9 176.6 182.1C176 180.4 175.4 178.6 174.7 176.9C174 175.2 173.2 173.5 172.4 171.8C171.6 170.1 170.7 168.4 169.8 166.8C168.8 165.2 167.8 163.6 166.7 162.2C165.6 160.7 164.3 159.3 163 158C161.7 156.6 160.3 155.4 158.9 154.1C157.6 152.9 156.1 151.7 154.8 150.4C153.4 149.1 152.2 147.7 150.9 146.3C149.6 145 148.4 143.5 147.2 142.1C145.9 140.8 144.6 139.4 143.3 138.1C142 136.8 140.6 135.5 139.2 134.3C137.8 133 135.7 131.2 135 130.6Z" fill="url(#g21)"/><path d="M124.3 126.7C124.9 127.4 126.9 129.4 128.2 130.8C129.5 132.2 130.8 133.5 132.1 134.9C133.4 136.3 134.6 137.7 135.9 139.1C137.2 140.5 138.4 141.9 139.7 143.3C141 144.7 142.3 146.1 143.5 147.6C144.7 149 146 150.4 147.2 151.9C148.4 153.3 149.5 154.8 150.6 156.3C151.7 157.8 152.8 159.4 153.9 160.9C155 162.5 156.1 164 157.1 165.6C158.2 167.2 159.2 168.8 160.2 170.4C161.1 172.1 161.9 173.7 162.7 175.5C163.5 177.2 164.1 179 164.7 180.8C165.3 182.6 165.9 184.4 166.3 186.2C166.8 188.1 167.3 189.9 167.6 191.7C168 193.6 168.3 195.5 168.6 197.3C168.9 199.2 169.1 201.1 169.3 203C169.5 204.9 169.6 206.7 169.7 208.6C169.8 210.5 169.9 212.4 170 214.3C170.1 216.2 170.2 218.1 170.2 220C170.3 221.9 170.3 223.8 170.3 225.7C170.4 227.5 170.4 229.4 170.4 231.3C170.4 233.2 170.4 235.1 170.4 237C170.4 238.9 170.3 240.8 170.3 242.7C170.3 244.6 170.3 246.5 170.2 248.4C170.2 250.3 170.2 252.1 170.2 254C170.2 255.9 170.1 257.8 170.1 259.7C170.1 261.6 170 263.5 169.9 265.4C169.8 267.3 169.7 269.2 169.6 271C169.5 272.9 169.3 274.8 169.1 276.7C168.9 278.6 168.7 280.4 168.5 282.3C168.3 284.2 168.1 286 167.8 287.9C167.5 289.7 167.2 291.5 166.9 293.4C166.6 295.2 166.3 297 166 298.8C165.7 300.7 165.5 302.5 165.2 304.4C165 306.2 164.7 309 164.6 309.9L164.6 308C164.9 307.1 165.7 304.4 166.4 302.7C167 300.9 167.8 299.2 168.5 297.5C169.3 295.8 170.2 294.2 171 292.5C171.8 290.8 172.6 289.1 173.3 287.4C174 285.7 174.6 283.9 175.1 282.1C175.7 280.3 176.2 278.5 176.6 276.7C177 274.9 177.5 273.1 177.8 271.2C178.1 269.4 178.4 267.5 178.6 265.7C178.8 263.8 178.9 262 179 260.1C179.2 258.3 179.2 256.4 179.3 254.5C179.3 252.7 179.4 250.8 179.4 248.9C179.5 247.1 179.6 245.2 179.7 243.3C179.8 241.5 179.9 239.6 180 237.7C180.1 235.9 180.2 234 180.3 232.1C180.4 230.3 180.5 228.4 180.5 226.6C180.6 224.7 180.7 222.8 180.7 221C180.7 219.1 180.7 217.2 180.7 215.4C180.7 213.5 180.7 211.6 180.6 209.8C180.6 207.9 180.5 206 180.4 204.2C180.2 202.3 180.1 200.4 179.9 198.6C179.7 196.7 179.5 194.9 179.2 193C178.9 191.2 178.5 189.4 178.1 187.5C177.7 185.7 177.2 183.9 176.6 182.1C176 180.4 175.4 178.6 174.7 176.9C174 175.2 173.2 173.5 172.4 171.8C171.6 170.1 170.7 168.4 169.8 166.8C168.8 165.2 167.8 163.6 166.7 162.2C165.6 160.7 164.3 159.3 163 158C161.7 156.6 160.3 155.4 158.9 154.1C157.6 152.9 156.1 151.7 154.8 150.4C153.4 149.1 152.2 147.7 150.9 146.3C149.6 145 148.4 143.5 147.2 142.1C145.9 140.8 144.6 139.4 143.3 138.1C142 136.8 140.6 135.5 139.2 134.3C137.8 133 135.7 131.2 135 130.6Z" fill="url(#g22)"/><path d="M130.1 128.8C130.7 129.4 132.8 131.4 134.1 132.7C135.5 134 136.8 135.3 138.1 136.6C139.4 138 140.7 139.4 142 140.7C143.2 142.1 144.5 143.6 145.7 145C147 146.3 148.3 147.7 149.6 149.1C150.9 150.4 152.2 151.7 153.5 153.1C154.8 154.4 156.1 155.8 157.3 157.2C158.5 158.6 159.7 160.1 160.8 161.6C161.9 163.1 163 164.7 163.9 166.3C164.9 167.9 165.9 169.5 166.7 171.1C167.6 172.8 168.4 174.5 169.2 176.2C169.9 178 170.5 179.7 171.1 181.5C171.7 183.3 172.2 185.1 172.7 186.9C173.1 188.8 173.5 190.6 173.8 192.4C174.2 194.3 174.5 196.1 174.7 198C174.9 199.9 175.1 201.7 175.3 203.6C175.4 205.5 175.5 207.4 175.6 209.2C175.7 211.1 175.7 213 175.8 214.9C175.8 216.8 175.9 218.6 175.9 220.5C175.9 222.4 175.9 224.3 175.8 226.1C175.8 228 175.8 229.9 175.7 231.8C175.7 233.6 175.6 235.5 175.5 237.4C175.5 239.3 175.4 241.2 175.4 243C175.3 244.9 175.2 246.8 175.2 248.7C175.1 250.5 175.1 252.4 175.1 254.3C175 256.2 175 258.1 174.9 259.9C174.8 261.8 174.8 263.7 174.6 265.6C174.5 267.4 174.3 269.3 174 271.1C173.8 273 173.5 274.9 173.1 276.7C172.8 278.5 172.5 280.4 172.1 282.2C171.7 284 171.2 285.8 170.7 287.6C170.3 289.4 169.7 291.2 169.1 292.9C168.6 294.7 167.9 296.4 167.4 298.1C166.8 299.9 166.3 301.7 165.8 303.5C165.4 305.3 164.8 308 164.6 308.9L164.6 308C164.9 307.1 165.7 304.4 166.4 302.7C167 300.9 167.8 299.2 168.5 297.5C169.3 295.8 170.2 294.2 171 292.5C171.8 290.8 172.6 289.1 173.3 287.4C174 285.7 174.6 283.9 175.1 282.1C175.7 280.3 176.2 278.5 176.6 276.7C177 274.9 177.5 273.1 177.8 271.2C178.1 269.4 178.4 267.5 178.6 265.7C178.8 263.8 178.9 262 179 260.1C179.2 258.3 179.2 256.4 179.3 254.5C179.3 252.7 179.4 250.8 179.4 248.9C179.5 247.1 179.6 245.2 179.7 243.3C179.8 241.5 179.9 239.6 180 237.7C180.1 235.9 180.2 234 180.3 232.1C180.4 230.3 180.5 228.4 180.5 226.6C180.6 224.7 180.7 222.8 180.7 221C180.7 219.1 180.7 217.2 180.7 215.4C180.7 213.5 180.7 211.6 180.6 209.8C180.6 207.9 180.5 206 180.4 204.2C180.2 202.3 180.1 200.4 179.9 198.6C179.7 196.7 179.5 194.9 179.2 193C178.9 191.2 178.5 189.4 178.1 187.5C177.7 185.7 177.2 183.9 176.6 182.1C176 180.4 175.4 178.6 174.7 176.9C174 175.2 173.2 173.5 172.4 171.8C171.6 170.1 170.7 168.4 169.8 166.8C168.8 165.2 167.8 163.6 166.7 162.2C165.6 160.7 164.3 159.3 163 158C161.7 156.6 160.3 155.4 158.9 154.1C157.6 152.9 156.1 151.7 154.8 150.4C153.4 149.1 152.2 147.7 150.9 146.3C149.6 145 148.4 143.5 147.2 142.1C145.9 140.8 144.6 139.4 143.3 138.1C142 136.8 140.6 135.5 139.2 134.3C137.8 133 135.7 131.2 135 130.6Z" fill="url(#g23)"/><path d="M118.5 124.6C119.1 125.3 121 127.5 122.3 128.9C123.5 130.3 124.8 131.8 126 133.2C127.3 134.6 128.6 136.1 129.9 137.5C131.1 138.9 132.4 140.3 133.7 141.7C135 143.2 136.2 144.6 137.4 146.1C138.6 147.5 139.8 149.1 140.9 150.6C141.9 152.2 142.9 153.8 144 155.4C145 157.1 146 158.7 147 160.3C148.1 161.9 149.2 163.4 150.3 165C151.4 166.5 152.6 168 153.6 169.7C154.6 171.3 155.5 173 156.3 174.7C157.1 176.4 157.7 178.2 158.3 180C159 181.8 159.5 183.7 160 185.5C160.5 187.3 161 189.2 161.4 191.1C161.9 192.9 162.2 194.8 162.5 196.7C162.9 198.5 163.1 200.4 163.3 202.3C163.5 204.2 163.7 206.1 163.9 208C164 209.9 164.1 211.8 164.2 213.7C164.4 215.6 164.5 217.5 164.6 219.5C164.7 221.4 164.8 223.3 164.9 225.2C164.9 227.1 165 229 165.1 230.9C165.1 232.8 165.2 234.7 165.2 236.6C165.2 238.5 165.2 240.4 165.3 242.3C165.3 244.2 165.3 246.1 165.3 248.1C165.3 250 165.3 251.9 165.3 253.8C165.3 255.7 165.3 257.6 165.3 259.5C165.3 261.4 165.3 263.3 165.3 265.2C165.2 267.1 165.2 269 165.2 270.9C165.2 272.9 165.1 274.8 165.1 276.7C165 278.6 165 280.5 165 282.4C164.9 284.3 164.9 286.2 164.8 288.1C164.8 290 164.8 291.9 164.7 293.8C164.7 295.7 164.7 297.6 164.7 299.6C164.7 301.5 164.6 303.4 164.6 305.3C164.6 307.2 164.6 310 164.6 311L164.6 310.5C164.7 309.6 164.8 306.7 164.9 304.9C165 303 165.2 301.1 165.3 299.2C165.4 297.4 165.6 295.5 165.7 293.6C165.9 291.7 166 289.9 166.2 288C166.3 286.1 166.5 284.2 166.6 282.3C166.7 280.5 166.8 278.6 166.9 276.7C167 274.8 167.1 272.9 167.2 271C167.3 269.1 167.3 267.2 167.4 265.3C167.4 263.4 167.5 261.5 167.5 259.6C167.5 257.7 167.5 255.8 167.5 253.9C167.5 252 167.6 250.1 167.6 248.2C167.6 246.3 167.6 244.4 167.6 242.5C167.6 240.6 167.6 238.7 167.6 236.8C167.5 234.9 167.5 233 167.5 231.1C167.5 229.2 167.4 227.3 167.4 225.4C167.3 223.5 167.2 221.6 167.2 219.7C167.1 217.8 167 215.9 166.9 214C166.8 212.1 166.7 210.2 166.5 208.3C166.4 206.4 166.3 204.5 166.1 202.6C165.8 200.7 165.6 198.8 165.3 197C165 195.1 164.7 193.2 164.3 191.4C163.9 189.5 163.4 187.7 162.9 185.8C162.4 184 161.9 182.2 161.3 180.4C160.6 178.6 160 176.8 159.2 175.1C158.4 173.3 157.5 171.6 156.6 170C155.6 168.4 154.5 166.8 153.4 165.3C152.4 163.7 151.2 162.1 150.2 160.6C149.1 159 148.1 157.4 147 155.8C145.9 154.3 144.9 152.7 143.8 151.2C142.6 149.7 141.4 148.2 140.2 146.7C139 145.3 137.7 143.9 136.4 142.5C135.2 141 133.9 139.6 132.6 138.2C131.4 136.8 130.1 135.4 128.8 134C127.5 132.6 126.3 131.2 125 129.8C123.7 128.4 121.8 126.3 121.1 125.6Z" fill="url(#g24)"/><path d="M124.8 126.9C125.4 127.6 127.4 129.6 128.7 131C130 132.3 131.3 133.7 132.6 135.1C133.9 136.4 135.2 137.9 136.4 139.3C137.7 140.7 139 142.1 140.2 143.5C141.5 144.9 142.8 146.3 144 147.7C145.3 149.1 146.5 150.5 147.7 152C148.9 153.4 150.1 154.9 151.2 156.4C152.3 157.9 153.4 159.4 154.5 161C155.6 162.5 156.7 164.1 157.7 165.7C158.7 167.2 159.8 168.8 160.7 170.5C161.6 172.1 162.5 173.8 163.3 175.5C164 177.3 164.7 179 165.3 180.8C165.9 182.6 166.4 184.5 166.9 186.3C167.4 188.1 167.8 190 168.2 191.8C168.5 193.7 168.9 195.5 169.1 197.4C169.4 199.3 169.6 201.1 169.8 203C170 204.9 170.1 206.8 170.2 208.7C170.3 210.6 170.4 212.5 170.5 214.4C170.6 216.2 170.7 218.1 170.7 220C170.8 221.9 170.8 223.8 170.8 225.7C170.8 227.6 170.8 229.5 170.8 231.4C170.8 233.3 170.8 235.1 170.8 237C170.8 238.9 170.8 240.8 170.7 242.7C170.7 244.6 170.7 246.5 170.7 248.4C170.6 250.3 170.6 252.2 170.6 254.1C170.6 256 170.6 257.8 170.5 259.7C170.5 261.6 170.4 263.5 170.3 265.4C170.2 267.3 170.1 269.2 170 271.1C169.8 272.9 169.6 274.8 169.5 276.7C169.3 278.6 169 280.4 168.8 282.3C168.6 284.1 168.3 286 168 287.8C167.8 289.7 167.4 291.5 167.1 293.3C166.8 295.2 166.5 297 166.1 298.8C165.8 300.6 165.5 302.4 165.3 304.3C165 306.1 164.7 308.9 164.6 309.9L164.6 309.4C164.8 308.5 165.2 305.8 165.5 303.9C165.9 302.1 166.3 300.3 166.7 298.5C167.1 296.7 167.6 294.9 168 293.1C168.4 291.4 168.9 289.6 169.2 287.7C169.6 285.9 169.9 284.1 170.2 282.2C170.5 280.4 170.8 278.5 171.1 276.7C171.3 274.8 171.5 273 171.7 271.1C171.9 269.2 172.1 267.3 172.2 265.5C172.3 263.6 172.4 261.7 172.4 259.8C172.5 257.9 172.5 256 172.6 254.2C172.6 252.3 172.6 250.4 172.7 248.5C172.7 246.6 172.7 244.7 172.8 242.9C172.8 241 172.8 239.1 172.9 237.2C172.9 235.3 173 233.4 173 231.5C173 229.7 173 227.8 173 225.9C173 224 173 222.1 173 220.2C172.9 218.4 172.9 216.5 172.8 214.6C172.8 212.7 172.7 210.8 172.6 208.9C172.5 207 172.4 205.2 172.2 203.3C172 201.4 171.8 199.5 171.6 197.7C171.3 195.8 171 193.9 170.7 192.1C170.3 190.2 169.9 188.4 169.4 186.6C168.9 184.7 168.4 182.9 167.8 181.1C167.2 179.3 166.6 177.6 165.8 175.8C165.1 174.1 164.3 172.4 163.4 170.8C162.5 169.1 161.5 167.5 160.4 165.9C159.4 164.3 158.4 162.8 157.3 161.3C156.2 159.7 155 158.2 153.9 156.7C152.7 155.3 151.5 153.9 150.3 152.4C149 151 147.7 149.7 146.5 148.3C145.2 146.9 143.9 145.5 142.6 144.1C141.4 142.7 140.1 141.3 138.9 139.9C137.6 138.5 136.3 137.1 135 135.7C133.7 134.4 132.4 133 131.1 131.7C129.8 130.4 127.7 128.4 127.1 127.7Z" fill="url(#g25)"/><path d="M116.6 126.2C117.2 127 119.1 129.1 120.4 130.6C121.6 132 122.9 133.4 124.2 134.9C125.4 136.3 126.7 137.7 128 139.2C129.3 140.6 130.6 142 131.8 143.4C133.1 144.8 134.3 146.2 135.5 147.6C136.6 149.1 137.7 150.5 138.8 152.1C139.9 153.6 140.8 155.2 141.8 156.8C142.9 158.4 143.9 160.1 144.9 161.7C146 163.3 147.2 164.8 148.3 166.4C149.3 167.9 150.5 169.4 151.4 171C152.4 172.5 153.2 174.1 154 175.8C154.8 177.4 155.4 179.1 156 180.9C156.6 182.6 157.1 184.4 157.6 186.2C158.1 188 158.6 189.8 159 191.6C159.4 193.4 159.8 195.2 160.1 197.1C160.4 198.9 160.6 200.8 160.8 202.6C161.1 204.5 161.2 206.4 161.4 208.2C161.5 210.1 161.6 212 161.8 213.9C161.9 215.8 162 217.7 162.1 219.6C162.2 221.5 162.3 223.4 162.4 225.3C162.4 227.2 162.5 229.1 162.6 231C162.6 232.9 162.7 234.8 162.7 236.7C162.7 238.6 162.7 240.5 162.8 242.4C162.8 244.3 162.8 246.2 162.8 248.1C162.8 250 162.8 251.9 162.8 253.8C162.8 255.7 162.8 257.6 162.8 259.5C162.8 261.4 162.8 263.3 162.8 265.2C162.7 267.1 162.7 269 162.7 270.9C162.7 272.8 162.6 274.7 162.6 276.6C162.5 278.5 162.5 280.4 162.5 282.3C162.4 284.2 162.4 286.2 162.3 288.1C162.3 290 162.3 291.9 162.2 293.8C162.2 295.7 162.2 297.6 162.2 299.5C162.2 301.4 162.1 303.4 162.1 305.3C162.1 307.2 162.1 310 162.1 311L164.6 311C164.6 310 164.6 307.2 164.6 305.3C164.6 303.4 164.7 301.5 164.7 299.6C164.7 297.6 164.7 295.7 164.7 293.8C164.8 291.9 164.8 290 164.8 288.1C164.9 286.2 164.9 284.3 165 282.4C165 280.5 165 278.6 165.1 276.7C165.1 274.8 165.2 272.9 165.2 270.9C165.2 269 165.2 267.1 165.3 265.2C165.3 263.3 165.3 261.4 165.3 259.5C165.3 257.6 165.3 255.7 165.3 253.8C165.3 251.9 165.3 250 165.3 248.1C165.3 246.1 165.3 244.2 165.3 242.3C165.2 240.4 165.2 238.5 165.2 236.6C165.2 234.7 165.1 232.8 165.1 230.9C165 229 164.9 227.1 164.9 225.2C164.8 223.3 164.7 221.4 164.6 219.5C164.5 217.5 164.4 215.6 164.2 213.7C164.1 211.8 164 209.9 163.9 208C163.7 206.1 163.5 204.2 163.3 202.3C163.1 200.4 162.9 198.5 162.5 196.7C162.2 194.8 161.9 192.9 161.4 191.1C161 189.2 160.5 187.3 160 185.5C159.5 183.7 159 181.8 158.3 180C157.7 178.2 157.1 176.4 156.3 174.7C155.5 173 154.6 171.3 153.6 169.7C152.6 168 151.4 166.5 150.3 165C149.2 163.4 148.1 161.9 147 160.3C146 158.7 145 157.1 144 155.4C142.9 153.8 141.9 152.2 140.9 150.6C139.8 149.1 138.6 147.5 137.4 146.1C136.2 144.6 135 143.2 133.7 141.7C132.4 140.3 131.1 138.9 129.9 137.5C128.6 136.1 127.3 134.6 126 133.2C124.8 131.8 123.5 130.3 122.3 128.9C121 127.5 119.1 125.3 118.5 124.6Z" fill="url(#g26)"/><path d="M85.5 87.5C86.2 88.3 88.5 90.9 90 92.6C91.4 94.3 92.9 96 94.4 97.7C95.9 99.4 97.4 101.1 98.8 102.8C100.3 104.5 101.8 106.2 103.3 107.9C104.8 109.5 106.3 111.2 107.8 112.9C109.3 114.6 110.8 116.2 112.3 117.9C113.9 119.5 115.4 121.2 116.9 122.8C118.4 124.5 119.9 126.2 121.4 127.9C122.9 129.6 124.4 131.3 125.9 133C127.4 134.7 128.8 136.3 130.3 138C131.8 139.7 133.4 141.3 134.9 143C136.3 144.8 137.8 146.5 139.2 148.3C140.5 150.1 141.7 152 143 153.8C144.2 155.7 145.3 157.7 146.5 159.6C147.8 161.4 149.1 163.2 150.4 165.1C151.7 167 153.1 168.7 154.2 170.7C155.3 172.6 156.3 174.7 157.1 176.8C158 178.8 158.7 181 159.3 183.2C160 185.3 160.6 187.5 161.1 189.7C161.6 191.9 162.1 194.1 162.5 196.3C162.9 198.5 163.1 200.7 163.4 203C163.6 205.2 163.8 207.5 164 209.7C164.1 212 164.3 214.2 164.4 216.4C164.5 218.7 164.7 220.9 164.8 223.2C164.9 225.4 165 227.7 165 229.9C165.1 232.2 165.2 234.4 165.2 236.7C165.2 238.9 165.3 241.2 165.3 243.5C165.3 245.7 165.3 248 165.3 250.2C165.3 252.5 165.3 254.7 165.3 257C165.3 259.2 165.3 261.5 165.3 263.7C165.3 266 165.2 268.2 165.2 270.5C165.2 272.7 165.1 275 165.1 277.2C165 279.5 165 281.7 164.9 284C164.9 286.2 164.8 288.5 164.8 290.7C164.8 293 164.7 295.2 164.7 297.5C164.7 299.7 164.7 302 164.6 304.2C164.6 306.5 164.6 309.9 164.6 311" fill="none" stroke="url(#g27)" stroke-width="1.3" stroke-linecap="round"/><path d="M108 36C109 36.8 112.2 39.2 114.2 40.9C116.2 42.6 118.2 44.3 120.1 46.2C122 48.1 123.8 50 125.4 52.1C127 54.2 128.6 56.3 129.9 58.6C131.2 60.9 132.2 63.4 133.2 65.8C134.2 68.3 135 70.8 135.9 73.3C136.7 75.8 137.5 78.3 138.2 80.9C138.9 83.4 139.5 86 140.1 88.5C140.8 91.1 141.4 93.7 142 96.2C142.7 98.8 143.4 101.3 144.2 103.9C144.9 106.4 145.7 108.9 146.5 111.4C147.3 114 148 116.5 148.8 119C149.5 121.5 150.3 124.1 151 126.6C151.8 129.1 152.6 131.7 153.4 134.2C154.2 136.7 155.1 139.2 156.1 141.6C157 144.1 158.1 146.5 159.2 148.9C160.3 151.3 161.5 153.7 162.8 156C164.1 158.3 165.5 160.5 166.9 162.7C168.3 165 169.8 167.2 171.1 169.5C172.4 171.8 173.6 174.1 174.6 176.6C175.6 179 176.5 181.5 177.2 184.1C177.9 186.6 178.5 189.2 178.9 191.8C179.4 194.4 179.7 197 180 199.6C180.3 202.3 180.4 204.9 180.5 207.5C180.7 210.2 180.7 212.8 180.7 215.5C180.8 218.1 180.7 220.7 180.6 223.4C180.6 226 180.5 228.7 180.3 231.3C180.2 233.9 180 236.6 179.9 239.2C179.8 241.8 179.6 244.5 179.5 247.1C179.4 249.8 179.3 252.4 179.2 255C179.1 257.7 179.1 260.3 178.9 263C178.6 265.6 178.3 268.2 177.9 270.8C177.4 273.4 176.8 276 176.1 278.5C175.4 281.1 174.7 283.6 173.8 286.1C172.8 288.6 171.7 291 170.6 293.4C169.5 295.8 168.2 298.1 167.2 300.5C166.2 303 165 306.8 164.6 308" fill="none" stroke="url(#g28)" stroke-width="2.0" stroke-linecap="round"/><path d="M164.4 301C164.4 302.5 164.4 306.9 164.5 309.9C164.6 312.8 164.8 315.8 165.2 318.7C165.6 321.6 166.2 324.5 166.8 327.4C167.5 330.3 168.2 333.2 169 336C169.8 338.9 170.6 341.7 171.5 344.5C172.4 347.3 173.4 350.1 174.4 352.9C175.5 355.6 176.6 358.4 177.8 361.1C178.9 363.8 180 366.6 181.2 369.3C182.4 372 183.5 374.7 184.8 377.4C186.2 380 187.7 382.5 189.3 385C190.9 387.5 192.7 389.8 194.4 392.2C196.2 394.6 198 397 199.8 399.3C201.6 401.6 203.4 404 205.2 406.3C207.1 408.6 209 410.8 210.9 413.1C212.8 415.3 214.7 417.6 216.7 419.8C218.7 422 220.6 424.2 222.7 426.3C224.7 428.5 226.9 430.5 229 432.6C231.1 434.6 233.2 436.7 235.3 438.8C237.3 440.9 239.3 443.2 241.3 445.3C243.3 447.5 245.3 449.7 247.4 451.8C249.4 453.9 251.6 455.9 253.7 458C255.8 460.1 257.9 462.1 260 464.2C262.1 466.3 264.1 468.4 266.2 470.5C268.3 472.6 270.4 474.7 272.5 476.8C274.7 478.8 276.8 480.8 279 482.8C281.2 484.8 283.4 486.8 285.6 488.8C287.7 490.8 289.9 492.8 292.1 494.8C294.2 496.8 296.4 498.8 298.6 500.8C300.8 502.8 303 504.8 305.1 506.8C307.3 508.8 309.5 510.8 311.6 512.9C313.8 514.9 316.9 518 318 519L331 519C330.4 517.7 328.6 513.8 327.2 511.2C325.9 508.6 324.6 506.1 323.1 503.6C321.6 501.1 320 498.7 318.3 496.4C316.6 494 314.8 491.7 313 489.5C311.2 487.2 309.4 485 307.5 482.8C305.6 480.6 303.7 478.4 301.8 476.3C299.9 474.1 297.9 472 295.9 469.9C294 467.8 292 465.7 290 463.6C288 461.5 286.1 459.3 284.1 457.2C282.1 455.1 280.2 453 278.2 450.9C276.2 448.8 274.2 446.7 272.2 444.6C270.2 442.6 268.1 440.6 266 438.5C264 436.5 261.9 434.5 259.9 432.4C257.9 430.3 255.9 428.2 254 426.1C252 424 250.1 421.8 248.2 419.7C246.3 417.5 244.4 415.3 242.5 413.1C240.6 410.9 238.7 408.7 236.9 406.5C235.1 404.3 233.3 402 231.5 399.7C229.8 397.4 228.2 395 226.5 392.6C224.9 390.2 223.3 387.8 221.7 385.4C220.1 383 218.4 380.7 216.7 378.3C215.1 375.9 213.4 373.6 211.8 371.2C210.1 368.8 208.5 366.4 207 364C205.4 361.6 203.8 359.2 202.3 356.7C200.8 354.2 199.3 351.8 197.9 349.2C196.6 346.7 195.3 344.1 194.1 341.4C192.9 338.8 191.8 336.1 190.8 333.4C189.7 330.8 188.6 328.1 187.6 325.4C186.5 322.7 185.3 320.1 184.3 317.4C183.2 314.7 182.2 312 181.3 309.2C180.3 306.5 179 302.4 178.6 301Z" fill="url(#g29)"/><path d="M164.4 301C164.4 302.5 164.4 306.9 164.5 309.9C164.6 312.8 164.8 315.8 165.2 318.7C165.6 321.6 166.2 324.5 166.8 327.4C167.5 330.3 168.2 333.2 169 336C169.8 338.9 170.6 341.7 171.5 344.5C172.4 347.3 173.4 350.1 174.4 352.9C175.5 355.6 176.6 358.4 177.8 361.1C178.9 363.8 180 366.6 181.2 369.3C182.4 372 183.5 374.7 184.8 377.4C186.2 380 187.7 382.5 189.3 385C190.9 387.5 192.7 389.8 194.4 392.2C196.2 394.6 198 397 199.8 399.3C201.6 401.6 203.4 404 205.2 406.3C207.1 408.6 209 410.8 210.9 413.1C212.8 415.3 214.7 417.6 216.7 419.8C218.7 422 220.6 424.2 222.7 426.3C224.7 428.5 226.9 430.5 229 432.6C231.1 434.6 233.2 436.7 235.3 438.8C237.3 440.9 239.3 443.2 241.3 445.3C243.3 447.5 245.3 449.7 247.4 451.8C249.4 453.9 251.6 455.9 253.7 458C255.8 460.1 257.9 462.1 260 464.2C262.1 466.3 264.1 468.4 266.2 470.5C268.3 472.6 270.4 474.7 272.5 476.8C274.7 478.8 276.8 480.8 279 482.8C281.2 484.8 283.4 486.8 285.6 488.8C287.7 490.8 289.9 492.8 292.1 494.8C294.2 496.8 296.4 498.8 298.6 500.8C300.8 502.8 303 504.8 305.1 506.8C307.3 508.8 309.5 510.8 311.6 512.9C313.8 514.9 316.9 518 318 519L331 519C330.4 517.7 328.6 513.8 327.2 511.2C325.9 508.6 324.6 506.1 323.1 503.6C321.6 501.1 320 498.7 318.3 496.4C316.6 494 314.8 491.7 313 489.5C311.2 487.2 309.4 485 307.5 482.8C305.6 480.6 303.7 478.4 301.8 476.3C299.9 474.1 297.9 472 295.9 469.9C294 467.8 292 465.7 290 463.6C288 461.5 286.1 459.3 284.1 457.2C282.1 455.1 280.2 453 278.2 450.9C276.2 448.8 274.2 446.7 272.2 444.6C270.2 442.6 268.1 440.6 266 438.5C264 436.5 261.9 434.5 259.9 432.4C257.9 430.3 255.9 428.2 254 426.1C252 424 250.1 421.8 248.2 419.7C246.3 417.5 244.4 415.3 242.5 413.1C240.6 410.9 238.7 408.7 236.9 406.5C235.1 404.3 233.3 402 231.5 399.7C229.8 397.4 228.2 395 226.5 392.6C224.9 390.2 223.3 387.8 221.7 385.4C220.1 383 218.4 380.7 216.7 378.3C215.1 375.9 213.4 373.6 211.8 371.2C210.1 368.8 208.5 366.4 207 364C205.4 361.6 203.8 359.2 202.3 356.7C200.8 354.2 199.3 351.8 197.9 349.2C196.6 346.7 195.3 344.1 194.1 341.4C192.9 338.8 191.8 336.1 190.8 333.4C189.7 330.8 188.6 328.1 187.6 325.4C186.5 322.7 185.3 320.1 184.3 317.4C183.2 314.7 182.2 312 181.3 309.2C180.3 306.5 179 302.4 178.6 301Z" fill="url(#g30)"/><path d="M172.9 301C173.2 302.4 173.9 306.7 174.6 309.5C175.2 312.3 175.9 315.1 176.7 317.9C177.4 320.7 178.4 323.4 179.3 326.2C180.2 329 181.1 331.7 182.1 334.5C183 337.2 184 340 185.1 342.7C186.1 345.4 187.3 348.1 188.5 350.7C189.8 353.3 191.1 355.9 192.5 358.5C193.8 361 195.2 363.6 196.6 366.1C198.1 368.6 199.5 371.2 201 373.7C202.5 376.1 204.1 378.6 205.7 381C207.4 383.4 209.1 385.8 210.8 388.1C212.5 390.5 214.1 392.9 215.8 395.3C217.5 397.7 219.2 400 221 402.3C222.8 404.6 224.6 406.9 226.5 409.1C228.4 411.4 230.3 413.6 232.2 415.8C234.1 418 236 420.2 238 422.3C239.9 424.5 242 426.6 244 428.7C246 430.8 248.1 432.9 250.1 435C252.1 437.1 254.1 439.2 256.1 441.3C258.2 443.4 260.2 445.4 262.3 447.5C264.3 449.6 266.4 451.6 268.4 453.7C270.4 455.8 272.5 457.9 274.5 460C276.5 462.1 278.5 464.3 280.5 466.4C282.5 468.5 284.5 470.6 286.6 472.7C288.6 474.7 290.7 476.8 292.7 478.9C294.7 481 296.7 483.1 298.7 485.2C300.7 487.3 302.7 489.5 304.6 491.6C306.6 493.8 308.5 495.9 310.4 498.2C312.3 500.4 314.1 502.6 315.9 504.9C317.7 507.2 319.3 509.5 321 511.9C322.6 514.2 325 517.8 325.8 519L331 519C330.4 517.7 328.6 513.8 327.2 511.2C325.9 508.6 324.6 506.1 323.1 503.6C321.6 501.1 320 498.7 318.3 496.4C316.6 494 314.8 491.7 313 489.5C311.2 487.2 309.4 485 307.5 482.8C305.6 480.6 303.7 478.4 301.8 476.3C299.9 474.1 297.9 472 295.9 469.9C294 467.8 292 465.7 290 463.6C288 461.5 286.1 459.3 284.1 457.2C282.1 455.1 280.2 453 278.2 450.9C276.2 448.8 274.2 446.7 272.2 444.6C270.2 442.6 268.1 440.6 266 438.5C264 436.5 261.9 434.5 259.9 432.4C257.9 430.3 255.9 428.2 254 426.1C252 424 250.1 421.8 248.2 419.7C246.3 417.5 244.4 415.3 242.5 413.1C240.6 410.9 238.7 408.7 236.9 406.5C235.1 404.3 233.3 402 231.5 399.7C229.8 397.4 228.2 395 226.5 392.6C224.9 390.2 223.3 387.8 221.7 385.4C220.1 383 218.4 380.7 216.7 378.3C215.1 375.9 213.4 373.6 211.8 371.2C210.1 368.8 208.5 366.4 207 364C205.4 361.6 203.8 359.2 202.3 356.7C200.8 354.2 199.3 351.8 197.9 349.2C196.6 346.7 195.3 344.1 194.1 341.4C192.9 338.8 191.8 336.1 190.8 333.4C189.7 330.8 188.6 328.1 187.6 325.4C186.5 322.7 185.3 320.1 184.3 317.4C183.2 314.7 182.2 312 181.3 309.2C180.3 306.5 179 302.4 178.6 301Z" fill="url(#g31)"/><path d="M163.9 213C164 214.6 164.3 219.5 164.4 222.8C164.6 226.1 164.7 229.3 164.8 232.6C164.9 235.9 164.9 239.1 165 242.4C165 245.7 165 248.9 165 252.2C165 255.5 165 258.7 165 262C165 265.3 164.9 268.5 164.9 271.8C164.8 275.1 164.7 278.3 164.6 281.6C164.6 284.9 164.4 288.1 164.3 291.4C164.3 294.7 164.1 298 164.1 301.2C164.1 304.5 164 307.8 164.2 311.1C164.4 314.3 164.7 317.6 165.2 320.8C165.7 324.1 166.5 327.3 167.2 330.4C168 333.6 168.9 336.8 169.8 339.9C170.7 343.1 171.7 346.2 172.8 349.3C173.9 352.4 175.1 355.4 176.3 358.4C177.6 361.5 178.8 364.5 180.1 367.5C181.4 370.5 182.6 373.6 184.1 376.5C185.5 379.4 187.2 382.3 188.9 385C190.7 387.8 192.7 390.4 194.6 393C196.6 395.7 198.6 398.3 200.6 400.9C202.6 403.4 204.6 406 206.7 408.5C208.8 411.1 210.9 413.5 213 416C215.2 418.5 217.3 421 219.5 423.4C221.7 425.8 224 428.1 226.3 430.4C228.7 432.8 231.1 434.9 233.4 437.3C235.7 439.6 237.8 442.1 240.1 444.4C242.3 446.8 244.5 449.3 246.8 451.6C249.1 453.9 251.5 456.2 253.8 458.5C256.1 460.8 258.4 463.1 260.7 465.4C263 467.7 265.3 470.1 267.6 472.4C269.9 474.7 272.3 477 274.7 479.2C277 481.4 279.5 483.6 281.9 485.8C284.3 488.1 286.7 490.3 289.1 492.5C291.5 494.7 293.9 496.9 296.3 499.2C298.7 501.4 301.1 503.5 303.5 505.8C305.9 508 308.3 510.2 310.7 512.4C313.1 514.7 316.6 518.1 317.8 519.2L323.2 513.6C322 512.5 318.5 509 316.1 506.8C313.7 504.5 311.2 502.2 308.8 500C306.4 497.8 304 495.6 301.6 493.4C299.2 491.2 296.8 489 294.4 486.8C292 484.5 289.6 482.3 287.2 480.1C284.8 477.9 282.4 475.7 280 473.5C277.7 471.3 275.4 469.1 273.1 466.8C270.8 464.6 268.6 462.2 266.3 459.9C264 457.6 261.6 455.2 259.3 452.9C256.9 450.6 254.6 448.4 252.3 446.1C250.1 443.8 248 441.5 245.8 439.1C243.5 436.7 241.3 434.2 239 431.8C236.6 429.4 234.1 427.2 231.9 424.9C229.6 422.6 227.4 420.4 225.2 418.1C223.1 415.8 221 413.3 218.9 410.9C216.8 408.5 214.7 406.1 212.7 403.6C210.7 401.1 208.7 398.6 206.7 396.1C204.8 393.5 202.8 390.9 200.9 388.4C199.1 385.9 197.1 383.4 195.5 380.8C193.8 378.3 192.4 375.7 191 373C189.7 370.3 188.5 367.3 187.3 364.4C186 361.5 184.8 358.5 183.6 355.5C182.4 352.6 181.2 349.6 180.1 346.7C179.1 343.7 178.1 340.7 177.3 337.7C176.4 334.7 175.6 331.7 174.8 328.6C174.1 325.6 173.4 322.6 172.9 319.6C172.5 316.6 172.2 313.7 172 310.6C171.8 307.5 171.9 304.4 171.9 301.3C171.9 298.1 172.1 294.9 172.1 291.6C172.2 288.4 172.3 285.1 172.4 281.8C172.5 278.5 172.6 275.2 172.7 272C172.7 268.7 172.8 265.4 172.8 262.1C172.8 258.8 172.8 255.5 172.8 252.2C172.8 248.9 172.8 245.6 172.8 242.3C172.7 239 172.7 235.7 172.6 232.4C172.5 229.1 172.4 225.7 172.2 222.4C172.1 219.1 171.8 214.2 171.7 212.6Z" fill="url(#g32)"/><path d="M163.9 213C164 214.6 164.3 219.5 164.4 222.8C164.6 226.1 164.7 229.3 164.8 232.6C164.9 235.9 164.9 239.1 165 242.4C165 245.7 165 248.9 165 252.2C165 255.5 165 258.7 165 262C165 265.3 164.9 268.5 164.9 271.8C164.8 275.1 164.7 278.3 164.6 281.6C164.6 284.9 164.4 288.1 164.3 291.4C164.3 294.7 164.1 298 164.1 301.2C164.1 304.5 164 307.8 164.2 311.1C164.4 314.3 164.7 317.6 165.2 320.8C165.7 324.1 166.5 327.3 167.2 330.4C168 333.6 168.9 336.8 169.8 339.9C170.7 343.1 171.7 346.2 172.8 349.3C173.9 352.4 175.1 355.4 176.3 358.4C177.6 361.5 178.8 364.5 180.1 367.5C181.4 370.5 182.6 373.6 184.1 376.5C185.5 379.4 187.2 382.3 188.9 385C190.7 387.8 192.7 390.4 194.6 393C196.6 395.7 198.6 398.3 200.6 400.9C202.6 403.4 204.6 406 206.7 408.5C208.8 411.1 210.9 413.5 213 416C215.2 418.5 217.3 421 219.5 423.4C221.7 425.8 224 428.1 226.3 430.4C228.7 432.8 231.1 434.9 233.4 437.3C235.7 439.6 237.8 442.1 240.1 444.4C242.3 446.8 244.5 449.3 246.8 451.6C249.1 453.9 251.5 456.2 253.8 458.5C256.1 460.8 258.4 463.1 260.7 465.4C263 467.7 265.3 470.1 267.6 472.4C269.9 474.7 272.3 477 274.7 479.2C277 481.4 279.5 483.6 281.9 485.8C284.3 488.1 286.7 490.3 289.1 492.5C291.5 494.7 293.9 496.9 296.3 499.2C298.7 501.4 301.1 503.5 303.5 505.8C305.9 508 308.3 510.2 310.7 512.4C313.1 514.7 316.6 518.1 317.8 519.2L321.1 515.8C319.9 514.6 316.4 511.2 314 508.9C311.6 506.7 309.2 504.4 306.8 502.2C304.4 500 301.9 497.8 299.5 495.6C297.1 493.4 294.7 491.2 292.3 489C289.9 486.7 287.5 484.5 285.1 482.3C282.7 480.1 280.3 477.9 278 475.7C275.6 473.5 273.3 471.2 271 469C268.7 466.7 266.4 464.3 264.1 462C261.8 459.7 259.5 457.3 257.2 455C254.8 452.8 252.5 450.6 250.2 448.2C247.9 445.9 245.8 443.6 243.6 441.2C241.3 438.8 239.1 436.3 236.8 433.9C234.5 431.6 232 429.3 229.7 427C227.4 424.8 225.2 422.5 223 420.1C220.9 417.8 218.8 415.3 216.7 412.9C214.6 410.4 212.4 408 210.4 405.5C208.3 403 206.3 400.5 204.4 397.9C202.4 395.4 200.4 392.8 198.5 390.2C196.6 387.6 194.7 385.1 193 382.5C191.3 379.8 189.8 377.1 188.4 374.3C187 371.5 185.8 368.6 184.5 365.6C183.3 362.7 182 359.6 180.8 356.6C179.6 353.7 178.4 350.7 177.3 347.7C176.2 344.7 175.3 341.6 174.4 338.6C173.5 335.5 172.7 332.4 171.9 329.3C171.2 326.3 170.5 323.2 170 320.1C169.5 317 169.2 313.9 169 310.8C168.8 307.6 168.9 304.5 168.9 301.3C168.9 298.1 169.1 294.8 169.1 291.6C169.2 288.3 169.3 285 169.4 281.7C169.5 278.5 169.6 275.2 169.7 271.9C169.7 268.6 169.8 265.3 169.8 262C169.8 258.8 169.8 255.5 169.8 252.2C169.8 248.9 169.8 245.6 169.8 242.4C169.7 239.1 169.7 235.8 169.6 232.5C169.5 229.2 169.4 225.9 169.2 222.6C169.1 219.3 168.8 214.4 168.7 212.8Z" fill="url(#g33)"/><path d="M163.9 213C164 214.6 164.3 219.5 164.4 222.8C164.6 226.1 164.7 229.3 164.8 232.6C164.9 235.9 164.9 239.1 165 242.4C165 245.7 165 248.9 165 252.2C165 255.5 165 258.7 165 262C165 265.3 164.9 268.5 164.9 271.8C164.8 275.1 164.7 278.3 164.6 281.6C164.6 284.9 164.4 288.1 164.3 291.4C164.3 294.7 164.1 298 164.1 301.2C164.1 304.5 164 307.8 164.2 311.1C164.4 314.3 164.7 317.6 165.2 320.8C165.7 324.1 166.5 327.3 167.2 330.4C168 333.6 168.9 336.8 169.8 339.9C170.7 343.1 171.7 346.2 172.8 349.3C173.9 352.4 175.1 355.4 176.3 358.4C177.6 361.5 178.8 364.5 180.1 367.5C181.4 370.5 182.6 373.6 184.1 376.5C185.5 379.4 187.2 382.3 188.9 385C190.7 387.8 192.7 390.4 194.6 393C196.6 395.7 198.6 398.3 200.6 400.9C202.6 403.4 204.6 406 206.7 408.5C208.8 411.1 210.9 413.5 213 416C215.2 418.5 217.3 421 219.5 423.4C221.7 425.8 224 428.1 226.3 430.4C228.7 432.8 231.1 434.9 233.4 437.3C235.7 439.6 237.8 442.1 240.1 444.4C242.3 446.8 244.5 449.3 246.8 451.6C249.1 453.9 251.5 456.2 253.8 458.5C256.1 460.8 258.4 463.1 260.7 465.4C263 467.7 265.3 470.1 267.6 472.4C269.9 474.7 272.3 477 274.7 479.2C277 481.4 279.5 483.6 281.9 485.8C284.3 488.1 286.7 490.3 289.1 492.5C291.5 494.7 293.9 496.9 296.3 499.2C298.7 501.4 301.1 503.5 303.5 505.8C305.9 508 308.3 510.2 310.7 512.4C313.1 514.7 316.6 518.1 317.8 519.2L319.8 517.1C318.6 516 315.1 512.6 312.7 510.3C310.3 508.1 307.9 505.8 305.5 503.6C303.1 501.4 300.7 499.2 298.2 497C295.8 494.8 293.5 492.6 291.1 490.4C288.7 488.1 286.2 485.9 283.8 483.7C281.4 481.5 279 479.3 276.7 477.1C274.3 474.9 272 472.6 269.7 470.3C267.3 468 265.1 465.7 262.8 463.3C260.5 461 258.1 458.7 255.8 456.4C253.5 454.1 251.1 451.9 248.8 449.6C246.6 447.2 244.4 444.9 242.2 442.5C239.9 440.1 237.7 437.6 235.4 435.2C233.2 432.9 230.7 430.7 228.4 428.4C226.1 426.1 223.8 423.8 221.6 421.4C219.4 419.1 217.3 416.6 215.2 414.1C213.1 411.7 211 409.2 208.9 406.7C206.9 404.2 204.8 401.6 202.9 399.1C200.9 396.5 198.9 393.9 197 391.3C195.1 388.7 193.1 386.2 191.4 383.5C189.6 380.8 188.1 378 186.7 375.2C185.2 372.3 184.1 369.3 182.8 366.4C181.5 363.4 180.2 360.4 179 357.4C177.8 354.4 176.6 351.4 175.5 348.3C174.4 345.3 173.5 342.2 172.6 339.1C171.7 336 170.8 332.9 170.1 329.8C169.3 326.7 168.6 323.5 168.1 320.4C167.6 317.2 167.3 314.1 167.1 310.9C166.9 307.7 167 304.5 167 301.2C167 298 167.2 294.8 167.2 291.5C167.3 288.2 167.5 285 167.5 281.7C167.6 278.4 167.7 275.1 167.8 271.9C167.8 268.6 167.9 265.3 167.9 262C167.9 258.8 167.9 255.5 167.9 252.2C167.9 248.9 167.9 245.7 167.9 242.4C167.8 239.1 167.8 235.8 167.7 232.5C167.6 229.2 167.5 225.9 167.3 222.7C167.2 219.4 166.9 214.5 166.8 212.9Z" fill="url(#g34)"/><path d="M165.8 360.6C166.2 361.6 167.3 364.6 168.2 366.5C169 368.5 169.9 370.4 170.9 372.3C171.8 374.2 172.9 376 174 377.8C175.1 379.6 176.3 381.4 177.5 383.2C178.7 384.9 179.9 386.7 181.1 388.4C182.3 390.1 183.5 391.9 184.8 393.6C186 395.3 187.3 397 188.6 398.7C189.9 400.4 191.2 402.1 192.5 403.8C193.8 405.4 195.1 407.1 196.5 408.7C197.8 410.3 199.2 412 200.6 413.5C202 415.1 203.5 416.7 204.9 418.3C206.3 419.8 207.8 421.4 209.3 422.9C210.8 424.4 212.3 425.9 213.8 427.4C215.4 428.8 216.9 430.3 218.5 431.7C220 433.2 221.6 434.6 223.2 436C224.8 437.4 226.4 438.8 228 440.2C229.6 441.5 231.2 442.9 232.8 444.3C234.4 445.7 236 447.1 237.6 448.5C239.2 450 240.8 451.4 242.3 452.8C243.9 454.2 245.5 455.7 247.1 457.1C248.7 458.5 250.3 459.9 251.9 461.3C253.5 462.7 255.1 464 256.7 465.4C258.3 466.8 259.9 468.2 261.5 469.6C263.1 471 264.7 472.4 266.3 473.8C267.9 475.2 269.5 476.6 271.1 478C272.6 479.5 274.2 480.9 275.8 482.3C277.4 483.7 279 485.1 280.6 486.5C282.2 487.9 283.8 489.3 285.4 490.7C287 492.1 288.6 493.4 290.2 494.8C291.9 496.2 293.5 497.5 295.1 498.9C296.7 500.3 299.2 502.3 300 503L307.3 508.8C306.5 508.1 304.2 506 302.7 504.6C301.1 503.2 299.6 501.8 298.1 500.4C296.5 499 295 497.6 293.5 496.1C291.9 494.7 290.4 493.3 288.9 491.9C287.4 490.5 285.8 489.1 284.3 487.6C282.8 486.2 281.2 484.8 279.7 483.4C278.1 482 276.6 480.6 275.1 479.2C273.6 477.8 272.1 476.3 270.6 474.9C269.1 473.4 267.6 471.9 266.1 470.5C264.7 469 263.2 467.5 261.8 466C260.3 464.5 258.8 463 257.4 461.6C255.9 460.1 254.4 458.6 252.9 457.2C251.4 455.7 249.9 454.3 248.4 452.8C247 451.4 245.5 449.9 244.1 448.4C242.6 446.9 241.2 445.3 239.8 443.8C238.4 442.2 237.1 440.7 235.6 439.1C234.2 437.6 232.7 436.2 231.2 434.7C229.7 433.3 228.2 431.8 226.7 430.4C225.2 428.9 223.7 427.5 222.3 425.9C220.9 424.4 219.5 422.9 218.1 421.3C216.7 419.8 215.3 418.2 214 416.6C212.6 415.1 211.2 413.5 209.9 411.9C208.5 410.3 207.2 408.7 205.9 407.1C204.6 405.5 203.3 403.8 202 402.2C200.7 400.6 199.4 398.9 198.2 397.2C196.9 395.6 195.7 393.9 194.4 392.2C193.2 390.6 191.9 388.9 190.8 387.2C189.6 385.5 188.4 383.8 187.3 382C186.3 380.2 185.3 378.3 184.4 376.5C183.4 374.6 182.6 372.7 181.8 370.8C181 368.9 179.8 366 179.4 365Z" fill="url(#g35)"/><path d="M173.3 363C173.7 364 174.8 366.9 175.7 368.9C176.5 370.8 177.3 372.7 178.3 374.6C179.2 376.5 180.3 378.3 181.3 380.1C182.4 381.9 183.6 383.6 184.8 385.4C186 387.1 187.2 388.8 188.4 390.5C189.7 392.2 190.9 393.9 192.2 395.6C193.4 397.3 194.7 399 196 400.6C197.2 402.3 198.5 404 199.9 405.6C201.2 407.2 202.5 408.8 203.9 410.5C205.2 412.1 206.6 413.7 208 415.2C209.3 416.8 210.7 418.4 212.1 420C213.6 421.5 215 423.1 216.4 424.6C217.9 426.1 219.4 427.6 220.9 429C222.4 430.5 224 431.9 225.5 433.4C227 434.8 228.5 436.3 230 437.7C231.5 439.2 233 440.7 234.5 442.1C236 443.6 237.5 445.1 239 446.5C240.5 448 242 449.5 243.6 450.9C245.1 452.3 246.6 453.8 248.1 455.2C249.7 456.7 251.2 458.1 252.7 459.5C254.3 461 255.8 462.4 257.3 463.9C258.8 465.3 260.4 466.8 261.9 468.2C263.4 469.6 265 471.1 266.5 472.5C268 473.9 269.6 475.3 271.1 476.8C272.7 478.2 274.2 479.6 275.8 481C277.4 482.4 278.9 483.8 280.5 485.2C282 486.6 283.6 488.1 285.2 489.5C286.7 490.9 288.3 492.3 289.8 493.7C291.4 495.1 293 496.5 294.5 497.9C296.1 499.3 297.7 500.7 299.3 502C300.9 503.4 303.2 505.5 304 506.2L307.3 508.8C306.5 508.1 304.2 506 302.7 504.6C301.1 503.2 299.6 501.8 298.1 500.4C296.5 499 295 497.6 293.5 496.1C291.9 494.7 290.4 493.3 288.9 491.9C287.4 490.5 285.8 489.1 284.3 487.6C282.8 486.2 281.2 484.8 279.7 483.4C278.1 482 276.6 480.6 275.1 479.2C273.6 477.8 272.1 476.3 270.6 474.9C269.1 473.4 267.6 471.9 266.1 470.5C264.7 469 263.2 467.5 261.8 466C260.3 464.5 258.8 463 257.4 461.6C255.9 460.1 254.4 458.6 252.9 457.2C251.4 455.7 249.9 454.3 248.4 452.8C247 451.4 245.5 449.9 244.1 448.4C242.6 446.9 241.2 445.3 239.8 443.8C238.4 442.2 237.1 440.7 235.6 439.1C234.2 437.6 232.7 436.2 231.2 434.7C229.7 433.3 228.2 431.8 226.7 430.4C225.2 428.9 223.7 427.5 222.3 425.9C220.9 424.4 219.5 422.9 218.1 421.3C216.7 419.8 215.3 418.2 214 416.6C212.6 415.1 211.2 413.5 209.9 411.9C208.5 410.3 207.2 408.7 205.9 407.1C204.6 405.5 203.3 403.8 202 402.2C200.7 400.6 199.4 398.9 198.2 397.2C196.9 395.6 195.7 393.9 194.4 392.2C193.2 390.6 191.9 388.9 190.8 387.2C189.6 385.5 188.4 383.8 187.3 382C186.3 380.2 185.3 378.3 184.4 376.5C183.4 374.6 182.6 372.7 181.8 370.8C181 368.9 179.8 366 179.4 365Z" fill="url(#g36)"/><path d="M138.5 233.7C139.4 234.9 142.2 238.7 143.9 241.2C145.6 243.7 147.3 246.2 148.9 248.7C150.4 251.2 151.9 253.7 153.1 256.2C154.3 258.8 155.3 261.2 156.3 264C157.2 266.8 157.6 269.8 158.5 272.9C159.5 276 160.7 279.7 162 282.7C163.3 285.7 165.2 288.4 166.5 291.1C167.8 293.9 168.7 296.4 169.7 299.2C170.7 302 171.4 305 172.4 308C173.4 311 174.5 314.2 175.6 317.2C176.8 320.3 178 323.2 179.2 326.1C180.4 329.1 181.5 332 182.7 334.9C183.9 337.9 185.1 340.9 186.5 343.9C187.8 346.9 189.2 350 190.8 352.9C192.4 355.8 194.1 358.6 195.8 361.4C197.5 364.2 199.3 366.9 201 369.6C202.8 372.3 204.6 374.9 206.4 377.5C208.2 380.1 210 382.7 211.8 385.3C213.6 387.8 215.3 390.4 217.1 393C218.9 395.6 220.6 398.3 222.5 400.9C224.4 403.6 226.4 406.2 228.4 408.8C230.5 411.3 232.6 413.8 234.6 416.2C236.7 418.6 238.8 421 240.9 423.4C243 425.8 245.1 428.3 247.3 430.6C249.4 433 251.7 435.3 253.9 437.6C256.1 439.9 258.4 442.2 260.6 444.4C262.8 446.6 265.1 448.8 267.2 451C269.4 453.2 271.5 455.4 273.6 457.7C275.8 460 277.9 462.3 280 464.6C282.1 466.9 284.3 469.2 286.4 471.5C288.6 473.8 290.7 476 292.8 478.3C294.9 480.6 297 482.9 299 485.2C301 487.5 303 489.8 304.9 492.2C306.8 494.5 308.7 496.9 310.5 499.3C312.3 501.7 313.9 504 315.5 506.5C317 509 318.4 511.6 319.8 514.2C321.2 516.9 323.1 521.1 323.8 522.5L331.3 518.9C330.6 517.5 328.6 513.2 327.2 510.4C325.7 507.6 324.2 504.8 322.5 502.1C320.9 499.5 319.1 496.9 317.2 494.3C315.3 491.8 313.3 489.4 311.4 486.9C309.4 484.5 307.3 482.1 305.2 479.7C303.2 477.4 301.1 475 298.9 472.7C296.8 470.4 294.7 468.1 292.5 465.8C290.4 463.5 288.2 461.2 286.1 458.9C284 456.6 281.8 454.3 279.7 452C277.5 449.7 275.4 447.4 273.2 445.2C271 443 268.7 440.8 266.5 438.5C264.3 436.3 262 434.1 259.8 431.9C257.7 429.6 255.5 427.3 253.4 425C251.3 422.7 249.2 420.3 247.1 418C245 415.6 243 413.2 241 410.8C238.9 408.4 236.9 406.1 234.9 403.6C233 401.1 231.1 398.6 229.3 396.1C227.5 393.5 225.8 390.9 224 388.3C222.2 385.7 220.4 383.1 218.7 380.5C216.9 377.9 215 375.4 213.2 372.8C211.5 370.2 209.7 367.6 208 365C206.2 362.4 204.5 359.8 202.9 357.1C201.2 354.4 199.6 351.7 198.1 349C196.6 346.2 195.3 343.4 194 340.5C192.7 337.6 191.6 334.7 190.4 331.8C189.2 328.9 188.1 326 186.9 323.1C185.8 320.1 184.5 317.3 183.4 314.3C182.3 311.4 181.3 308.4 180.3 305.4C179.3 302.4 178.5 299.4 177.5 296.4C176.5 293.5 175.4 290.5 174.1 287.6C172.7 284.8 170.9 282.2 169.6 279.3C168.3 276.5 167.4 273.5 166.5 270.5C165.6 267.5 165.1 264.3 164.1 261.4C163.1 258.4 161.9 255.4 160.6 252.6C159.2 249.8 157.6 247 156 244.4C154.3 241.7 152.5 239.1 150.7 236.5C149 233.9 146.2 230.1 145.2 228.8Z" fill="url(#g37)"/><path d="M140.9 231.9C141.8 233.2 144.6 237 146.4 239.5C148.1 242 149.9 244.5 151.4 247.1C153 249.7 154.5 252.3 155.8 254.9C157.1 257.6 158.2 260.2 159.1 263C160 265.9 160.5 269 161.4 272C162.4 275.1 163.4 278.5 164.7 281.5C166 284.4 168 287.1 169.3 289.9C170.5 292.6 171.5 295.3 172.5 298.2C173.5 301.1 174.3 304.1 175.3 307.1C176.3 310.1 177.3 313.2 178.5 316.2C179.6 319.2 180.8 322.1 182 325C183.2 328 184.3 330.9 185.5 333.8C186.7 336.7 187.9 339.7 189.2 342.7C190.5 345.6 191.9 348.6 193.4 351.5C195 354.3 196.7 357.1 198.4 359.9C200 362.6 201.8 365.3 203.5 367.9C205.3 370.6 207.1 373.2 208.9 375.8C210.7 378.4 212.5 381 214.3 383.5C216.1 386.1 217.8 388.7 219.6 391.3C221.4 393.9 223.1 396.6 225 399.2C226.8 401.8 228.8 404.4 230.8 406.9C232.8 409.4 234.9 411.8 236.9 414.3C239 416.7 241 419.1 243.1 421.5C245.2 423.9 247.3 426.2 249.5 428.6C251.6 430.9 253.8 433.3 256 435.5C258.2 437.8 260.5 440.1 262.7 442.3C265 444.5 267.2 446.7 269.4 448.9C271.6 451.1 273.7 453.4 275.8 455.6C278 457.9 280.1 460.2 282.2 462.5C284.3 464.8 286.5 467.1 288.6 469.4C290.8 471.7 292.9 474 295 476.3C297.1 478.6 299.2 480.9 301.3 483.2C303.3 485.6 305.3 487.9 307.2 490.3C309.2 492.7 311.1 495 312.9 497.5C314.7 499.9 316.4 502.4 318 504.9C319.6 507.5 321.1 510.1 322.5 512.8C323.9 515.5 325.8 519.8 326.5 521.2L331.3 518.9C330.6 517.5 328.6 513.2 327.2 510.4C325.7 507.6 324.2 504.8 322.5 502.1C320.9 499.5 319.1 496.9 317.2 494.3C315.3 491.8 313.3 489.4 311.4 486.9C309.4 484.5 307.3 482.1 305.2 479.7C303.2 477.4 301.1 475 298.9 472.7C296.8 470.4 294.7 468.1 292.5 465.8C290.4 463.5 288.2 461.2 286.1 458.9C284 456.6 281.8 454.3 279.7 452C277.5 449.7 275.4 447.4 273.2 445.2C271 443 268.7 440.8 266.5 438.5C264.3 436.3 262 434.1 259.8 431.9C257.7 429.6 255.5 427.3 253.4 425C251.3 422.7 249.2 420.3 247.1 418C245 415.6 243 413.2 241 410.8C238.9 408.4 236.9 406.1 234.9 403.6C233 401.1 231.1 398.6 229.3 396.1C227.5 393.5 225.8 390.9 224 388.3C222.2 385.7 220.4 383.1 218.7 380.5C216.9 377.9 215 375.4 213.2 372.8C211.5 370.2 209.7 367.6 208 365C206.2 362.4 204.5 359.8 202.9 357.1C201.2 354.4 199.6 351.7 198.1 349C196.6 346.2 195.3 343.4 194 340.5C192.7 337.6 191.6 334.7 190.4 331.8C189.2 328.9 188.1 326 186.9 323.1C185.8 320.1 184.5 317.3 183.4 314.3C182.3 311.4 181.3 308.4 180.3 305.4C179.3 302.4 178.5 299.4 177.5 296.4C176.5 293.5 175.4 290.5 174.1 287.6C172.7 284.8 170.9 282.2 169.6 279.3C168.3 276.5 167.4 273.5 166.5 270.5C165.6 267.5 165.1 264.3 164.1 261.4C163.1 258.4 161.9 255.4 160.6 252.6C159.2 249.8 157.6 247 156 244.4C154.3 241.7 152.5 239.1 150.7 236.5C149 233.9 146.2 230.1 145.2 228.8Z" fill="url(#g38)"/><path d="M142.7 230.6C143.6 231.9 146.4 235.7 148.2 238.2C150 240.8 151.7 243.4 153.3 246C154.9 248.6 156.5 251.2 157.8 254C159.1 256.7 160.2 259.4 161.2 262.3C162.2 265.2 162.6 268.4 163.5 271.4C164.4 274.4 165.5 277.7 166.8 280.6C168 283.5 169.9 286.1 171.2 288.9C172.5 291.7 173.6 294.5 174.6 297.5C175.6 300.4 176.4 303.4 177.4 306.4C178.4 309.4 179.4 312.4 180.5 315.4C181.6 318.4 182.9 321.3 184.1 324.2C185.2 327.1 186.4 330 187.6 333C188.7 335.9 189.9 338.9 191.2 341.8C192.5 344.7 193.9 347.6 195.4 350.4C196.9 353.2 198.6 356 200.2 358.7C201.9 361.4 203.6 364.1 205.4 366.7C207.1 369.4 208.9 372 210.7 374.6C212.5 377.2 214.3 379.7 216.1 382.3C217.9 384.9 219.7 387.4 221.4 390C223.2 392.6 224.9 395.3 226.8 397.9C228.6 400.5 230.5 403 232.5 405.5C234.5 408 236.6 410.4 238.6 412.8C240.7 415.3 242.7 417.6 244.8 420C246.9 422.4 249 424.8 251.1 427.1C253.2 429.4 255.4 431.7 257.6 434C259.8 436.3 262.1 438.5 264.3 440.7C266.5 443 268.8 445.1 270.9 447.4C273.1 449.6 275.3 451.9 277.4 454.1C279.6 456.4 281.7 458.7 283.8 461C286 463.3 288.1 465.6 290.3 467.9C292.4 470.2 294.5 472.5 296.7 474.8C298.8 477.1 300.9 479.4 302.9 481.8C305 484.1 307 486.5 309 488.9C310.9 491.3 312.9 493.7 314.7 496.2C316.5 498.7 318.3 501.2 319.9 503.8C321.5 506.4 323 509.1 324.4 511.8C325.8 514.6 327.8 518.8 328.5 520.2L331.3 518.9C330.6 517.5 328.6 513.2 327.2 510.4C325.7 507.6 324.2 504.8 322.5 502.1C320.9 499.5 319.1 496.9 317.2 494.3C315.3 491.8 313.3 489.4 311.4 486.9C309.4 484.5 307.3 482.1 305.2 479.7C303.2 477.4 301.1 475 298.9 472.7C296.8 470.4 294.7 468.1 292.5 465.8C290.4 463.5 288.2 461.2 286.1 458.9C284 456.6 281.8 454.3 279.7 452C277.5 449.7 275.4 447.4 273.2 445.2C271 443 268.7 440.8 266.5 438.5C264.3 436.3 262 434.1 259.8 431.9C257.7 429.6 255.5 427.3 253.4 425C251.3 422.7 249.2 420.3 247.1 418C245 415.6 243 413.2 241 410.8C238.9 408.4 236.9 406.1 234.9 403.6C233 401.1 231.1 398.6 229.3 396.1C227.5 393.5 225.8 390.9 224 388.3C222.2 385.7 220.4 383.1 218.7 380.5C216.9 377.9 215 375.4 213.2 372.8C211.5 370.2 209.7 367.6 208 365C206.2 362.4 204.5 359.8 202.9 357.1C201.2 354.4 199.6 351.7 198.1 349C196.6 346.2 195.3 343.4 194 340.5C192.7 337.6 191.6 334.7 190.4 331.8C189.2 328.9 188.1 326 186.9 323.1C185.8 320.1 184.5 317.3 183.4 314.3C182.3 311.4 181.3 308.4 180.3 305.4C179.3 302.4 178.5 299.4 177.5 296.4C176.5 293.5 175.4 290.5 174.1 287.6C172.7 284.8 170.9 282.2 169.6 279.3C168.3 276.5 167.4 273.5 166.5 270.5C165.6 267.5 165.1 264.3 164.1 261.4C163.1 258.4 161.9 255.4 160.6 252.6C159.2 249.8 157.6 247 156 244.4C154.3 241.7 152.5 239.1 150.7 236.5C149 233.9 146.2 230.1 145.2 228.8Z" fill="url(#g39)"/><path d="M164.2 213C164.3 214.6 164.6 219.5 164.7 222.8C164.9 226.1 165 229.3 165.1 232.6C165.2 235.9 165.2 239.1 165.3 242.4C165.3 245.7 165.3 248.9 165.3 252.2C165.3 255.5 165.3 258.7 165.3 262C165.3 265.3 165.2 268.6 165.2 271.8C165.1 275.1 165 278.4 164.9 281.6C164.9 284.9 164.7 288.2 164.6 291.4C164.6 294.7 164.4 298 164.4 301.2C164.4 304.5 164.3 307.8 164.5 311C164.7 314.3 165 317.6 165.5 320.8C166 324 166.8 327.2 167.5 330.4C168.3 333.6 169.1 336.7 170.1 339.9C171 343 172 346.1 173.1 349.2C174.2 352.3 175.4 355.3 176.6 358.3C177.8 361.4 179.1 364.4 180.4 367.4C181.7 370.4 182.9 373.4 184.3 376.4C185.8 379.3 187.4 382.1 189.2 384.9C190.9 387.6 192.9 390.2 194.9 392.9C196.8 395.5 198.8 398.1 200.8 400.7C202.8 403.3 204.8 405.8 206.9 408.3C209 410.9 211.1 413.4 213.3 415.8C215.4 418.3 217.5 420.8 219.7 423.2C221.9 425.6 224.2 427.9 226.6 430.2C228.9 432.5 231.3 434.7 233.6 437.1C235.9 439.4 238 441.9 240.3 444.2C242.5 446.6 244.7 449.1 247 451.4C249.3 453.7 251.7 456 254 458.3C256.3 460.5 258.6 462.8 260.9 465.2C263.2 467.5 265.5 469.9 267.8 472.2C270.1 474.5 272.5 476.7 274.9 479C277.2 481.2 279.7 483.4 282.1 485.6C284.5 487.8 286.9 490 289.3 492.3C291.7 494.5 294.1 496.7 296.5 498.9C298.9 501.1 301.3 503.3 303.7 505.5C306.1 507.7 308.6 510 310.9 512.2C313.3 514.5 316.8 517.9 318 519" fill="none" stroke="url(#g40)" stroke-width="2.4" stroke-linecap="round"/><path d="M145 229C145.9 230.3 148.7 234.1 150.5 236.7C152.3 239.2 154.1 241.8 155.7 244.5C157.3 247.2 158.9 249.9 160.3 252.7C161.7 255.6 162.9 258.5 163.9 261.5C164.8 264.4 165.3 267.6 166.2 270.6C167.1 273.6 168.1 276.6 169.3 279.5C170.6 282.3 172.5 284.9 173.8 287.8C175.1 290.6 176.2 293.6 177.2 296.5C178.3 299.5 179 302.5 180 305.5C181 308.5 182 311.5 183.1 314.4C184.2 317.4 185.5 320.2 186.7 323.2C187.8 326.1 189 329 190.1 331.9C191.3 334.8 192.5 337.8 193.8 340.6C195 343.5 196.4 346.3 197.9 349.1C199.3 351.9 201 354.6 202.6 357.2C204.3 359.9 206 362.5 207.7 365.2C209.4 367.8 211.2 370.4 213 373C214.8 375.6 216.6 378.1 218.4 380.7C220.2 383.3 222 385.9 223.7 388.5C225.5 391.1 227.2 393.7 229 396.3C230.9 398.8 232.8 401.3 234.7 403.8C236.7 406.3 238.7 408.6 240.7 411C242.8 413.4 244.8 415.8 246.9 418.2C249 420.5 251 422.9 253.2 425.2C255.3 427.5 257.4 429.8 259.6 432.1C261.8 434.3 264 436.5 266.3 438.8C268.5 441 270.7 443.2 272.9 445.4C275.1 447.7 277.3 449.9 279.5 452.2C281.6 454.5 283.7 456.8 285.9 459.1C288 461.4 290.2 463.7 292.3 466C294.4 468.3 296.6 470.6 298.7 472.9C300.8 475.2 303 477.6 305 479.9C307.1 482.3 309.1 484.7 311.1 487.1C313.1 489.6 315.1 492 317 494.5C318.8 497.1 320.6 499.6 322.3 502.3C323.9 505 325.4 507.7 326.9 510.5C328.3 513.3 330.3 517.6 331 519" fill="none" stroke="url(#g41)" stroke-width="1.3" stroke-linecap="round"/><path d="M145 229C145.9 230.3 148.7 234.1 150.5 236.7C152.3 239.2 154.1 241.8 155.7 244.5C157.3 247.2 158.9 249.9 160.3 252.7C161.7 255.6 162.9 258.5 163.9 261.5C164.8 264.4 165.3 267.6 166.2 270.6C167.1 273.6 168.1 276.6 169.3 279.5C170.6 282.3 172.5 284.9 173.8 287.8C175.1 290.6 176.2 293.6 177.2 296.5C178.3 299.5 179 302.5 180 305.5C181 308.5 182 311.5 183.1 314.4C184.2 317.4 185.5 320.2 186.7 323.2C187.8 326.1 189 329 190.1 331.9C191.3 334.8 192.5 337.8 193.8 340.6C195 343.5 196.4 346.3 197.9 349.1C199.3 351.9 201 354.6 202.6 357.2C204.3 359.9 206 362.5 207.7 365.2C209.4 367.8 211.2 370.4 213 373C214.8 375.6 216.6 378.1 218.4 380.7C220.2 383.3 222 385.9 223.7 388.5C225.5 391.1 227.2 393.7 229 396.3C230.9 398.8 232.8 401.3 234.7 403.8C236.7 406.3 238.7 408.6 240.7 411C242.8 413.4 244.8 415.8 246.9 418.2C249 420.5 251 422.9 253.2 425.2C255.3 427.5 257.4 429.8 259.6 432.1C261.8 434.3 264 436.5 266.3 438.8C268.5 441 270.7 443.2 272.9 445.4C275.1 447.7 277.3 449.9 279.5 452.2C281.6 454.5 283.7 456.8 285.9 459.1C288 461.4 290.2 463.7 292.3 466C294.4 468.3 296.6 470.6 298.7 472.9C300.8 475.2 303 477.6 305 479.9C307.1 482.3 309.1 484.7 311.1 487.1C313.1 489.6 315.1 492 317 494.5C318.8 497.1 320.6 499.6 322.3 502.3C323.9 505 325.4 507.7 326.9 510.5C328.3 513.3 330.3 517.6 331 519" fill="none" stroke="url(#g42)" stroke-width="1.1" stroke-linecap="round"/><path d="M142.9 230.5C143.8 231.8 146.6 235.6 148.4 238.1C150.1 240.7 151.9 243.2 153.5 245.9C155.1 248.5 156.6 251.1 158 253.9C159.3 256.6 160.4 259.4 161.4 262.3C162.3 265.2 162.8 268.3 163.7 271.3C164.6 274.4 165.7 277.6 166.9 280.5C168.2 283.4 170.1 286 171.4 288.8C172.7 291.7 173.7 294.5 174.8 297.4C175.8 300.3 176.6 303.3 177.6 306.3C178.5 309.3 179.6 312.4 180.7 315.3C181.8 318.3 183.1 321.2 184.2 324.1C185.4 327.1 186.5 330 187.7 332.9C188.9 335.8 190.1 338.8 191.4 341.7C192.7 344.6 194.1 347.5 195.6 350.3C197.1 353.2 198.7 355.9 200.4 358.6C202.1 361.3 203.8 364 205.5 366.6C207.3 369.2 209.1 371.9 210.8 374.5C212.6 377.1 214.5 379.6 216.3 382.2C218.1 384.8 219.8 387.3 221.6 389.9C223.4 392.5 225.1 395.2 226.9 397.8C228.8 400.4 230.7 402.9 232.7 405.4C234.6 407.9 236.7 410.3 238.8 412.7C240.8 415.1 242.9 417.5 244.9 419.9C247 422.3 249.1 424.6 251.2 427C253.4 429.3 255.6 431.6 257.8 433.9C260 436.2 262.2 438.4 264.4 440.6C266.6 442.8 268.9 445 271.1 447.2C273.3 449.5 275.4 451.7 277.6 454C279.7 456.3 281.8 458.6 284 460.9C286.1 463.2 288.3 465.5 290.4 467.8C292.5 470.1 294.7 472.4 296.8 474.7C298.9 477 301 479.3 303.1 481.6C305.1 484 307.1 486.4 309.1 488.8C311.1 491.2 313 493.6 314.9 496.1C316.7 498.6 318.4 501.1 320.1 503.7C321.7 506.3 323.2 509 324.6 511.7C326 514.5 328 518.7 328.7 520.1" fill="none" stroke="url(#g43)" stroke-width="0.8" stroke-linecap="round"/><path d="M139 400C139.2 400.9 139.9 403.6 140.3 405.4C140.8 407.2 141.3 409 141.8 410.7C142.3 412.5 142.8 414.3 143.4 416C143.9 417.8 144.5 419.5 145.2 421.3C145.8 423 146.5 424.7 147.3 426.4C148 428.1 148.8 429.8 149.6 431.4C150.4 433.1 151.3 434.7 152.2 436.3C153.1 437.9 154 439.5 155 441.1C156 442.6 157 444.2 158.1 445.7C159.2 447.2 160.3 448.7 161.4 450.1C162.6 451.5 163.8 452.9 165 454.3C166.3 455.7 167.6 457 168.9 458.3C170.2 459.5 171.6 460.8 173 462C174.4 463.2 175.9 464.4 177.3 465.5C178.8 466.6 180.3 467.7 181.8 468.7C183.3 469.8 184.9 470.8 186.4 471.8C188 472.8 189.6 473.7 191.1 474.7C192.7 475.6 194.3 476.5 196 477.4C197.6 478.3 199.2 479.2 200.8 480.1C202.5 480.9 204.1 481.8 205.7 482.6C207.4 483.4 209.1 484.3 210.7 485C212.4 485.8 214.1 486.6 215.8 487.3C217.5 488.1 219.2 488.8 220.9 489.5C222.6 490.2 224.3 490.9 226 491.6C227.7 492.3 229.4 492.9 231.2 493.6C232.9 494.3 234.6 494.9 236.3 495.6C238.1 496.2 239.8 496.9 241.5 497.6C243.2 498.3 244.9 499 246.6 499.7C248.4 500.3 250.1 501 251.8 501.7C253.5 502.4 255.2 503.2 256.9 503.9C258.6 504.6 261.1 505.6 262 506L265.3 505C264.5 504.5 262.2 503.1 260.6 502.2C259 501.3 257.4 500.4 255.8 499.6C254.2 498.7 252.6 497.9 251 497.1C249.4 496.3 247.7 495.5 246.1 494.7C244.4 494 242.7 493.2 241.1 492.5C239.4 491.8 237.7 491 236.1 490.3C234.4 489.5 232.8 488.8 231.1 488C229.5 487.2 227.8 486.4 226.2 485.6C224.6 484.8 223 483.9 221.4 483C219.8 482.2 218.2 481.3 216.6 480.4C215 479.6 213.4 478.7 211.8 477.9C210.2 477.1 208.5 476.3 206.9 475.5C205.3 474.7 203.6 473.9 202 473C200.5 472.1 198.9 471.2 197.4 470.1C195.9 469.1 194.5 467.9 193.2 466.7C191.8 465.6 190.4 464.3 189.1 463.1C187.7 461.9 186.3 460.7 184.9 459.5C183.5 458.4 182.1 457.3 180.7 456.1C179.3 455 177.8 453.9 176.5 452.7C175.1 451.5 173.8 450.2 172.5 448.9C171.2 447.6 170 446.3 168.8 444.9C167.7 443.5 166.5 442.1 165.4 440.6C164.4 439.1 163.3 437.7 162.3 436.2C161.3 434.6 160.3 433.1 159.3 431.6C158.4 430 157.5 428.4 156.6 426.9C155.7 425.3 154.9 423.6 154.1 422C153.3 420.4 152.6 418.7 151.9 417C151.3 415.3 150.7 413.6 150.2 411.8C149.6 410.1 149.1 408.3 148.7 406.6C148.2 404.8 147.7 403.1 147.3 401.3C146.9 399.5 146.2 396.9 146 396Z" fill="url(#g44)"/><path d="M178.6 265.8C178.4 267.2 177.7 271.4 177.1 274.2C176.5 276.9 175.9 279.7 175 282.4C174.2 285.1 173.1 287.8 172 290.4C170.9 293 169.6 295.5 168.4 298.1C167.2 300.6 166.1 303.2 164.9 305.8C163.7 308.4 162.6 311 161.4 313.5C160.2 316.1 158.9 318.6 157.7 321.2C156.6 323.8 155.5 326.4 154.5 329.1C153.5 331.7 152.6 334.4 151.8 337.1C150.9 339.8 150.1 342.6 149.3 345.3C148.6 348 147.8 350.7 147.2 353.5C146.6 356.3 146.1 359.1 145.7 361.9C145.3 364.7 145 367.5 144.8 370.3C144.6 373.2 144.4 376 144.4 378.8C144.4 381.7 144.5 384.5 144.8 387.3C145 390.1 145.4 393 145.9 395.7C146.5 398.5 147.2 401.3 147.9 404C148.6 406.7 149.4 409.5 150.3 412.2C151.2 414.9 152.1 417.6 153.2 420.1C154.4 422.7 155.7 425.3 157.1 427.7C158.5 430.2 160 432.6 161.5 435C163.1 437.3 164.7 439.7 166.4 441.9C168.2 444.1 170 446.3 172 448.4C173.9 450.4 176.1 452.3 178.2 454.1C180.3 456 182.7 457.6 184.8 459.5C187 461.3 189.1 463.2 191.2 465C193.4 466.9 195.5 468.8 197.8 470.4C200.2 472 202.7 473.3 205.2 474.7C207.7 476 210.3 477.1 212.8 478.4C215.3 479.7 217.8 481.1 220.3 482.4C222.8 483.8 225.3 485.2 227.8 486.4C230.4 487.7 232.9 488.9 235.5 490C238.1 491.2 240.7 492.3 243.3 493.5C245.9 494.6 248.5 495.7 251 497C253.5 498.3 256 499.8 258.4 501.2C260.9 502.5 263.3 504.1 265.9 505.3C268.4 506.5 271.2 507.3 273.8 508.5C276.4 509.6 279 510.7 281.5 512C284 513.3 287.7 515.3 289 516L293 516C291.8 515.2 288.3 513 286 511.5C283.6 509.9 281.4 508.3 279.1 506.8C276.7 505.2 274.4 503.6 272.1 502.1C269.8 500.5 267.4 499 265.1 497.5C262.8 495.9 260.5 494.3 258.2 492.8C255.8 491.3 253.5 489.8 251 488.5C248.6 487.1 246.1 485.9 243.6 484.6C241.2 483.3 238.7 482 236.2 480.7C233.8 479.4 231.3 478 228.9 476.7C226.4 475.4 223.9 474.1 221.5 472.8C219 471.5 216.5 470.2 214.1 468.9C211.6 467.6 209.1 466.3 206.7 464.9C204.3 463.5 201.9 462.2 199.5 460.7C197.1 459.2 194.8 457.7 192.5 456.1C190.3 454.4 188 452.7 185.9 450.9C183.8 449.1 181.8 447.2 179.9 445.2C177.9 443.2 176.1 441.1 174.3 438.9C172.6 436.7 170.9 434.5 169.4 432.1C167.8 429.8 166.4 427.4 165.1 425C163.9 422.5 162.8 419.9 161.9 417.2C161 414.6 160.4 411.9 159.6 409.2C158.8 406.5 157.7 403.9 157.1 401.2C156.4 398.5 156 395.7 155.7 393C155.5 390.2 155.4 387.4 155.4 384.6C155.4 381.8 155.5 379 155.6 376.3C155.8 373.5 156 370.7 156.3 367.9C156.6 365.1 156.9 362.4 157.4 359.6C157.8 356.9 158.4 354.1 158.9 351.4C159.5 348.7 160.1 346 160.8 343.3C161.5 340.5 162.2 337.9 163 335.2C163.8 332.5 164.7 329.9 165.6 327.2C166.5 324.6 167.4 322 168.3 319.3C169.1 316.6 169.9 313.9 170.6 311.3C171.3 308.6 172 305.9 172.7 303.2C173.4 300.5 174.1 297.8 174.8 295.1C175.5 292.4 176.1 289.6 176.7 286.9C177.2 284.2 177.7 281.4 178.1 278.7C178.4 275.9 178.7 273.1 179 270.3C179.2 267.6 179.5 263.4 179.6 262Z" fill="url(#g45)"/><path d="M178.6 265.8C178.4 267.2 177.7 271.4 177.1 274.2C176.5 276.9 175.9 279.7 175 282.4C174.2 285.1 173.1 287.8 172 290.4C170.9 293 169.6 295.5 168.4 298.1C167.2 300.6 166.1 303.2 164.9 305.8C163.7 308.4 162.6 311 161.4 313.5C160.2 316.1 158.9 318.6 157.7 321.2C156.6 323.8 155.5 326.4 154.5 329.1C153.5 331.7 152.6 334.4 151.8 337.1C150.9 339.8 150.1 342.6 149.3 345.3C148.6 348 147.8 350.7 147.2 353.5C146.6 356.3 146.1 359.1 145.7 361.9C145.3 364.7 145 367.5 144.8 370.3C144.6 373.2 144.4 376 144.4 378.8C144.4 381.7 144.5 384.5 144.8 387.3C145 390.1 145.4 393 145.9 395.7C146.5 398.5 147.2 401.3 147.9 404C148.6 406.7 149.4 409.5 150.3 412.2C151.2 414.9 152.1 417.6 153.2 420.1C154.4 422.7 155.7 425.3 157.1 427.7C158.5 430.2 160 432.6 161.5 435C163.1 437.3 164.7 439.7 166.4 441.9C168.2 444.1 170 446.3 172 448.4C173.9 450.4 176.1 452.3 178.2 454.1C180.3 456 182.7 457.6 184.8 459.5C187 461.3 189.1 463.2 191.2 465C193.4 466.9 195.5 468.8 197.8 470.4C200.2 472 202.7 473.3 205.2 474.7C207.7 476 210.3 477.1 212.8 478.4C215.3 479.7 217.8 481.1 220.3 482.4C222.8 483.8 225.3 485.2 227.8 486.4C230.4 487.7 232.9 488.9 235.5 490C238.1 491.2 240.7 492.3 243.3 493.5C245.9 494.6 248.5 495.7 251 497C253.5 498.3 256 499.8 258.4 501.2C260.9 502.5 263.3 504.1 265.9 505.3C268.4 506.5 271.2 507.3 273.8 508.5C276.4 509.6 279 510.7 281.5 512C284 513.3 287.7 515.3 289 516L293 516C291.8 515.2 288.3 513 286 511.5C283.6 509.9 281.4 508.3 279.1 506.8C276.7 505.2 274.4 503.6 272.1 502.1C269.8 500.5 267.4 499 265.1 497.5C262.8 495.9 260.5 494.3 258.2 492.8C255.8 491.3 253.5 489.8 251 488.5C248.6 487.1 246.1 485.9 243.6 484.6C241.2 483.3 238.7 482 236.2 480.7C233.8 479.4 231.3 478 228.9 476.7C226.4 475.4 223.9 474.1 221.5 472.8C219 471.5 216.5 470.2 214.1 468.9C211.6 467.6 209.1 466.3 206.7 464.9C204.3 463.5 201.9 462.2 199.5 460.7C197.1 459.2 194.8 457.7 192.5 456.1C190.3 454.4 188 452.7 185.9 450.9C183.8 449.1 181.8 447.2 179.9 445.2C177.9 443.2 176.1 441.1 174.3 438.9C172.6 436.7 170.9 434.5 169.4 432.1C167.8 429.8 166.4 427.4 165.1 425C163.9 422.5 162.8 419.9 161.9 417.2C161 414.6 160.4 411.9 159.6 409.2C158.8 406.5 157.7 403.9 157.1 401.2C156.4 398.5 156 395.7 155.7 393C155.5 390.2 155.4 387.4 155.4 384.6C155.4 381.8 155.5 379 155.6 376.3C155.8 373.5 156 370.7 156.3 367.9C156.6 365.1 156.9 362.4 157.4 359.6C157.8 356.9 158.4 354.1 158.9 351.4C159.5 348.7 160.1 346 160.8 343.3C161.5 340.5 162.2 337.9 163 335.2C163.8 332.5 164.7 329.9 165.6 327.2C166.5 324.6 167.4 322 168.3 319.3C169.1 316.6 169.9 313.9 170.6 311.3C171.3 308.6 172 305.9 172.7 303.2C173.4 300.5 174.1 297.8 174.8 295.1C175.5 292.4 176.1 289.6 176.7 286.9C177.2 284.2 177.7 281.4 178.1 278.7C178.4 275.9 178.7 273.1 179 270.3C179.2 267.6 179.5 263.4 179.6 262Z" fill="url(#g46)"/><path d="M178.6 265.8C178.4 267.2 177.7 271.4 177.1 274.2C176.5 276.9 175.9 279.7 175 282.4C174.2 285.1 173.1 287.8 172 290.4C170.9 293 169.6 295.5 168.4 298.1C167.2 300.6 166.1 303.2 164.9 305.8C163.7 308.4 162.6 311 161.4 313.5C160.2 316.1 158.9 318.6 157.7 321.2C156.6 323.8 155.5 326.4 154.5 329.1C153.5 331.7 152.6 334.4 151.8 337.1C150.9 339.8 150.1 342.6 149.3 345.3C148.6 348 147.8 350.7 147.2 353.5C146.6 356.3 146.1 359.1 145.7 361.9C145.3 364.7 145 367.5 144.8 370.3C144.6 373.2 144.4 376 144.4 378.8C144.4 381.7 144.5 384.5 144.8 387.3C145 390.1 145.4 393 145.9 395.7C146.5 398.5 147.2 401.3 147.9 404C148.6 406.7 149.4 409.5 150.3 412.2C151.2 414.9 152.1 417.6 153.2 420.1C154.4 422.7 155.7 425.3 157.1 427.7C158.5 430.2 160 432.6 161.5 435C163.1 437.3 164.7 439.7 166.4 441.9C168.2 444.1 170 446.3 172 448.4C173.9 450.4 176.1 452.3 178.2 454.1C180.3 456 182.7 457.6 184.8 459.5C187 461.3 189.1 463.2 191.2 465C193.4 466.9 195.5 468.8 197.8 470.4C200.2 472 202.7 473.3 205.2 474.7C207.7 476 210.3 477.1 212.8 478.4C215.3 479.7 217.8 481.1 220.3 482.4C222.8 483.8 225.3 485.2 227.8 486.4C230.4 487.7 232.9 488.9 235.5 490C238.1 491.2 240.7 492.3 243.3 493.5C245.9 494.6 248.5 495.7 251 497C253.5 498.3 256 499.8 258.4 501.2C260.9 502.5 263.3 504.1 265.9 505.3C268.4 506.5 271.2 507.3 273.8 508.5C276.4 509.6 279 510.7 281.5 512C284 513.3 287.7 515.3 289 516L292 516C290.8 515.3 287.2 513.1 284.9 511.6C282.5 510.1 280.1 508.6 277.7 507.2C275.3 505.7 272.9 504.3 270.6 502.9C268.2 501.4 265.8 499.9 263.5 498.4C261.1 496.9 258.8 495.3 256.4 493.9C254 492.4 251.6 491 249.1 489.7C246.6 488.4 244.1 487.2 241.6 485.9C239.1 484.7 236.6 483.4 234.1 482.1C231.6 480.8 229.2 479.5 226.7 478.1C224.3 476.8 221.8 475.5 219.3 474.2C216.8 472.9 214.3 471.7 211.9 470.3C209.4 469 206.9 467.7 204.5 466.3C202.1 464.9 199.7 463.3 197.4 461.8C195.1 460.2 192.8 458.6 190.6 456.9C188.4 455.2 186.1 453.5 184 451.7C181.9 449.9 179.8 448 177.9 446C175.9 444 174.1 441.8 172.4 439.6C170.6 437.5 169 435.2 167.4 432.9C165.9 430.5 164.4 428.1 163.1 425.6C161.8 423.2 160.7 420.6 159.7 418C158.8 415.3 158.1 412.6 157.3 409.9C156.4 407.3 155.4 404.6 154.8 401.9C154.1 399.2 153.6 396.4 153.3 393.7C152.9 390.9 152.8 388.1 152.8 385.3C152.7 382.5 152.7 379.7 152.8 376.9C152.9 374.1 153.1 371.3 153.4 368.5C153.7 365.7 154 363 154.5 360.2C154.9 357.4 155.4 354.7 156 351.9C156.6 349.2 157.2 346.5 157.9 343.8C158.7 341.1 159.4 338.4 160.2 335.7C161 333 161.9 330.3 162.8 327.7C163.7 325 164.7 322.4 165.6 319.8C166.5 317.1 167.4 314.5 168.3 311.8C169.1 309.2 169.9 306.5 170.7 303.8C171.5 301.1 172.4 298.5 173.2 295.8C174 293.1 174.8 290.5 175.5 287.8C176.2 285.1 176.8 282.3 177.3 279.6C177.8 276.9 178.2 274.1 178.5 271.3C178.9 268.5 179.2 264.3 179.3 262.9Z" fill="url(#g47)"/><path d="M178.6 265.8C178.4 267.2 177.7 271.4 177.1 274.2C176.5 276.9 175.9 279.7 175 282.4C174.2 285.1 173.1 287.8 172 290.4C170.9 293 169.6 295.5 168.4 298.1C167.2 300.6 166.1 303.2 164.9 305.8C163.7 308.4 162.6 311 161.4 313.5C160.2 316.1 158.9 318.6 157.7 321.2C156.6 323.8 155.5 326.4 154.5 329.1C153.5 331.7 152.6 334.4 151.8 337.1C150.9 339.8 150.1 342.6 149.3 345.3C148.6 348 147.8 350.7 147.2 353.5C146.6 356.3 146.1 359.1 145.7 361.9C145.3 364.7 145 367.5 144.8 370.3C144.6 373.2 144.4 376 144.4 378.8C144.4 381.7 144.5 384.5 144.8 387.3C145 390.1 145.4 393 145.9 395.7C146.5 398.5 147.2 401.3 147.9 404C148.6 406.7 149.4 409.5 150.3 412.2C151.2 414.9 152.1 417.6 153.2 420.1C154.4 422.7 155.7 425.3 157.1 427.7C158.5 430.2 160 432.6 161.5 435C163.1 437.3 164.7 439.7 166.4 441.9C168.2 444.1 170 446.3 172 448.4C173.9 450.4 176.1 452.3 178.2 454.1C180.3 456 182.7 457.6 184.8 459.5C187 461.3 189.1 463.2 191.2 465C193.4 466.9 195.5 468.8 197.8 470.4C200.2 472 202.7 473.3 205.2 474.7C207.7 476 210.3 477.1 212.8 478.4C215.3 479.7 217.8 481.1 220.3 482.4C222.8 483.8 225.3 485.2 227.8 486.4C230.4 487.7 232.9 488.9 235.5 490C238.1 491.2 240.7 492.3 243.3 493.5C245.9 494.6 248.5 495.7 251 497C253.5 498.3 256 499.8 258.4 501.2C260.9 502.5 263.3 504.1 265.9 505.3C268.4 506.5 271.2 507.3 273.8 508.5C276.4 509.6 279 510.7 281.5 512C284 513.3 287.7 515.3 289 516L291 516C289.8 515.3 286.2 513.1 283.7 511.7C281.3 510.3 278.9 509 276.4 507.6C274 506.3 271.4 505.1 269 503.7C266.6 502.3 264.2 500.8 261.8 499.3C259.4 497.9 257 496.3 254.6 494.9C252.2 493.5 249.7 492.2 247.2 491C244.7 489.7 242.1 488.5 239.6 487.3C237.1 486.1 234.5 484.8 232 483.6C229.5 482.3 227.1 480.9 224.6 479.6C222.1 478.3 219.6 476.9 217.1 475.6C214.7 474.3 212.1 473.1 209.6 471.8C207.1 470.5 204.7 469.1 202.3 467.7C199.9 466.2 197.6 464.5 195.4 462.9C193.1 461.2 190.9 459.5 188.7 457.8C186.5 456 184.2 454.4 182.1 452.5C179.9 450.7 177.9 448.8 175.9 446.8C174 444.7 172.1 442.6 170.4 440.4C168.6 438.2 167 435.9 165.4 433.6C163.9 431.2 162.4 428.8 161.1 426.3C159.8 423.9 158.6 421.3 157.6 418.7C156.5 416.1 155.8 413.4 154.9 410.7C154.1 408 153.2 405.3 152.5 402.6C151.8 399.9 151.2 397.1 150.8 394.4C150.4 391.6 150.2 388.8 150.1 386C150 383.2 150 380.3 150 377.5C150.1 374.7 150.3 371.9 150.5 369.1C150.8 366.3 151.1 363.5 151.5 360.7C152 358 152.5 355.2 153.1 352.5C153.7 349.7 154.4 347 155.1 344.3C155.8 341.6 156.6 338.8 157.4 336.2C158.2 333.5 159.1 330.8 160 328.2C161 325.5 162 322.9 163 320.3C164 317.6 165 315 166 312.4C167 309.8 167.9 307.1 168.8 304.5C169.7 301.8 170.7 299.2 171.6 296.6C172.5 293.9 173.5 291.3 174.3 288.6C175.2 286 175.9 283.3 176.5 280.5C177.2 277.8 177.6 275 178 272.3C178.5 269.5 178.9 265.3 179.1 263.9Z" fill="url(#g48)"/><path d="M178.6 265.8C178.4 267.2 177.7 271.4 177.1 274.2C176.5 276.9 175.9 279.7 175 282.4C174.2 285.1 173.1 287.8 172 290.4C170.9 293 169.6 295.5 168.4 298.1C167.2 300.6 166.1 303.2 164.9 305.8C163.7 308.4 162.6 311 161.4 313.5C160.2 316.1 158.9 318.6 157.7 321.2C156.6 323.8 155.5 326.4 154.5 329.1C153.5 331.7 152.6 334.4 151.8 337.1C150.9 339.8 150.1 342.6 149.3 345.3C148.6 348 147.8 350.7 147.2 353.5C146.6 356.3 146.1 359.1 145.7 361.9C145.3 364.7 145 367.5 144.8 370.3C144.6 373.2 144.4 376 144.4 378.8C144.4 381.7 144.5 384.5 144.8 387.3C145 390.1 145.4 393 145.9 395.7C146.5 398.5 147.2 401.3 147.9 404C148.6 406.7 149.4 409.5 150.3 412.2C151.2 414.9 152.1 417.6 153.2 420.1C154.4 422.7 155.7 425.3 157.1 427.7C158.5 430.2 160 432.6 161.5 435C163.1 437.3 164.7 439.7 166.4 441.9C168.2 444.1 170 446.3 172 448.4C173.9 450.4 176.1 452.3 178.2 454.1C180.3 456 182.7 457.6 184.8 459.5C187 461.3 189.1 463.2 191.2 465C193.4 466.9 195.5 468.8 197.8 470.4C200.2 472 202.7 473.3 205.2 474.7C207.7 476 210.3 477.1 212.8 478.4C215.3 479.7 217.8 481.1 220.3 482.4C222.8 483.8 225.3 485.2 227.8 486.4C230.4 487.7 232.9 488.9 235.5 490C238.1 491.2 240.7 492.3 243.3 493.5C245.9 494.6 248.5 495.7 251 497C253.5 498.3 256 499.8 258.4 501.2C260.9 502.5 263.3 504.1 265.9 505.3C268.4 506.5 271.2 507.3 273.8 508.5C276.4 509.6 279 510.7 281.5 512C284 513.3 287.7 515.3 289 516L290 516C288.8 515.3 285.1 513.2 282.6 511.9C280.1 510.5 277.6 509.3 275.1 508C272.6 506.8 269.9 505.8 267.4 504.5C264.9 503.2 262.6 501.7 260.1 500.2C257.7 498.8 255.3 497.3 252.8 496C250.3 494.6 247.8 493.4 245.2 492.2C242.7 491 240.1 489.9 237.5 488.7C235 487.5 232.4 486.3 229.9 485C227.4 483.7 224.9 482.3 222.5 481C220 479.7 217.5 478.3 215 477C212.5 475.7 209.9 474.6 207.4 473.2C204.9 471.9 202.4 470.6 200.1 469C197.7 467.5 195.5 465.7 193.3 464C191.1 462.2 188.9 460.4 186.8 458.6C184.6 456.8 182.3 455.2 180.1 453.3C178 451.5 175.9 449.6 173.9 447.6C172 445.5 170.2 443.4 168.4 441.2C166.7 438.9 165 436.6 163.5 434.3C161.9 431.9 160.4 429.5 159.1 427C157.7 424.6 156.5 422 155.4 419.4C154.3 416.8 153.5 414.1 152.6 411.4C151.8 408.7 150.9 406 150.2 403.3C149.5 400.6 148.9 397.8 148.4 395C147.9 392.3 147.6 389.5 147.4 386.6C147.2 383.8 147.2 381 147.2 378.2C147.3 375.4 147.4 372.5 147.6 369.7C147.9 366.9 148.2 364.1 148.6 361.3C149 358.5 149.5 355.7 150.1 353C150.7 350.2 151.5 347.5 152.2 344.8C152.9 342.1 153.8 339.3 154.6 336.7C155.4 334 156.3 331.3 157.3 328.6C158.2 326 159.3 323.3 160.3 320.7C161.4 318.1 162.6 315.6 163.7 313C164.8 310.4 165.8 307.7 166.8 305.1C167.9 302.5 168.9 299.9 170 297.3C171.1 294.7 172.2 292.1 173.2 289.5C174.2 286.9 175 284.2 175.8 281.5C176.5 278.8 177.1 276 177.6 273.2C178.1 270.4 178.6 266.2 178.8 264.9Z" fill="url(#g49)"/><path d="M178.6 265.8C178.4 267.2 177.7 271.4 177.1 274.2C176.5 276.9 175.9 279.7 175 282.4C174.2 285.1 173.1 287.8 172 290.4C170.9 293 169.6 295.5 168.4 298.1C167.2 300.6 166.1 303.2 164.9 305.8C163.7 308.4 162.6 311 161.4 313.5C160.2 316.1 158.9 318.6 157.7 321.2C156.6 323.8 155.5 326.4 154.5 329.1C153.5 331.7 152.6 334.4 151.8 337.1C150.9 339.8 150.1 342.6 149.3 345.3C148.6 348 147.8 350.7 147.2 353.5C146.6 356.3 146.1 359.1 145.7 361.9C145.3 364.7 145 367.5 144.8 370.3C144.6 373.2 144.4 376 144.4 378.8C144.4 381.7 144.5 384.5 144.8 387.3C145 390.1 145.4 393 145.9 395.7C146.5 398.5 147.2 401.3 147.9 404C148.6 406.7 149.4 409.5 150.3 412.2C151.2 414.9 152.1 417.6 153.2 420.1C154.4 422.7 155.7 425.3 157.1 427.7C158.5 430.2 160 432.6 161.5 435C163.1 437.3 164.7 439.7 166.4 441.9C168.2 444.1 170 446.3 172 448.4C173.9 450.4 176.1 452.3 178.2 454.1C180.3 456 182.7 457.6 184.8 459.5C187 461.3 189.1 463.2 191.2 465C193.4 466.9 195.5 468.8 197.8 470.4C200.2 472 202.7 473.3 205.2 474.7C207.7 476 210.3 477.1 212.8 478.4C215.3 479.7 217.8 481.1 220.3 482.4C222.8 483.8 225.3 485.2 227.8 486.4C230.4 487.7 232.9 488.9 235.5 490C238.1 491.2 240.7 492.3 243.3 493.5C245.9 494.6 248.5 495.7 251 497C253.5 498.3 256 499.8 258.4 501.2C260.9 502.5 263.3 504.1 265.9 505.3C268.4 506.5 271.2 507.3 273.8 508.5C276.4 509.6 279 510.7 281.5 512C284 513.3 287.7 515.3 289 516L293 516C291.8 515.2 288.3 513 286 511.5C283.6 509.9 281.4 508.3 279.1 506.8C276.7 505.2 274.4 503.6 272.1 502.1C269.8 500.5 267.4 499 265.1 497.5C262.8 495.9 260.5 494.3 258.2 492.8C255.8 491.3 253.5 489.8 251 488.5C248.6 487.1 246.1 485.9 243.6 484.6C241.2 483.3 238.7 482 236.2 480.7C233.8 479.4 231.3 478 228.9 476.7C226.4 475.4 223.9 474.1 221.5 472.8C219 471.5 216.5 470.2 214.1 468.9C211.6 467.6 209.1 466.3 206.7 464.9C204.3 463.5 201.9 462.2 199.5 460.7C197.1 459.2 194.8 457.7 192.5 456.1C190.3 454.4 188 452.7 185.9 450.9C183.8 449.1 181.8 447.2 179.9 445.2C177.9 443.2 176.1 441.1 174.3 438.9C172.6 436.7 170.9 434.5 169.4 432.1C167.8 429.8 166.4 427.4 165.1 425C163.9 422.5 162.8 419.9 161.9 417.2C161 414.6 160.4 411.9 159.6 409.2C158.8 406.5 157.7 403.9 157.1 401.2C156.4 398.5 156 395.7 155.7 393C155.5 390.2 155.4 387.4 155.4 384.6C155.4 381.8 155.5 379 155.6 376.3C155.8 373.5 156 370.7 156.3 367.9C156.6 365.1 156.9 362.4 157.4 359.6C157.8 356.9 158.4 354.1 158.9 351.4C159.5 348.7 160.1 346 160.8 343.3C161.5 340.5 162.2 337.9 163 335.2C163.8 332.5 164.7 329.9 165.6 327.2C166.5 324.6 167.4 322 168.3 319.3C169.1 316.6 169.9 313.9 170.6 311.3C171.3 308.6 172 305.9 172.7 303.2C173.4 300.5 174.1 297.8 174.8 295.1C175.5 292.4 176.1 289.6 176.7 286.9C177.2 284.2 177.7 281.4 178.1 278.7C178.4 275.9 178.7 273.1 179 270.3C179.2 267.6 179.5 263.4 179.6 262Z" fill="url(#g50)"/><path d="M178.6 265.8C178.4 267.2 177.7 271.4 177.1 274.2C176.5 276.9 175.9 279.7 175 282.4C174.2 285.1 173.1 287.8 172 290.4C170.9 293 169.6 295.5 168.4 298.1C167.2 300.6 166.1 303.2 164.9 305.8C163.7 308.4 162.6 311 161.4 313.5C160.2 316.1 158.9 318.6 157.7 321.2C156.6 323.8 155.5 326.4 154.5 329.1C153.5 331.7 152.6 334.4 151.8 337.1C150.9 339.8 150.1 342.6 149.3 345.3C148.6 348 147.8 350.7 147.2 353.5C146.6 356.3 146.1 359.1 145.7 361.9C145.3 364.7 145 367.5 144.8 370.3C144.6 373.2 144.4 376 144.4 378.8C144.4 381.7 144.5 384.5 144.8 387.3C145 390.1 145.4 393 145.9 395.7C146.5 398.5 147.2 401.3 147.9 404C148.6 406.7 149.4 409.5 150.3 412.2C151.2 414.9 152.1 417.6 153.2 420.1C154.4 422.7 155.7 425.3 157.1 427.7C158.5 430.2 160 432.6 161.5 435C163.1 437.3 164.7 439.7 166.4 441.9C168.2 444.1 170 446.3 172 448.4C173.9 450.4 176.1 452.3 178.2 454.1C180.3 456 182.7 457.6 184.8 459.5C187 461.3 189.1 463.2 191.2 465C193.4 466.9 195.5 468.8 197.8 470.4C200.2 472 202.7 473.3 205.2 474.7C207.7 476 210.3 477.1 212.8 478.4C215.3 479.7 217.8 481.1 220.3 482.4C222.8 483.8 225.3 485.2 227.8 486.4C230.4 487.7 232.9 488.9 235.5 490C238.1 491.2 240.7 492.3 243.3 493.5C245.9 494.6 248.5 495.7 251 497C253.5 498.3 256 499.8 258.4 501.2C260.9 502.5 263.3 504.1 265.9 505.3C268.4 506.5 271.2 507.3 273.8 508.5C276.4 509.6 279 510.7 281.5 512C284 513.3 287.7 515.3 289 516" fill="none" stroke="url(#g51)" stroke-width="1.6" stroke-linecap="round"/><path d="M179.6 262C179.5 263.4 179.2 267.6 179 270.3C178.7 273.1 178.4 275.9 178.1 278.7C177.7 281.4 177.2 284.2 176.7 286.9C176.1 289.6 175.5 292.4 174.8 295.1C174.1 297.8 173.4 300.5 172.7 303.2C172 305.9 171.3 308.6 170.6 311.3C169.9 313.9 169.1 316.6 168.3 319.3C167.4 322 166.5 324.6 165.6 327.2C164.7 329.9 163.8 332.5 163 335.2C162.2 337.9 161.5 340.5 160.8 343.3C160.1 346 159.5 348.7 158.9 351.4C158.4 354.1 157.8 356.9 157.4 359.6C156.9 362.4 156.6 365.1 156.3 367.9C156 370.7 155.8 373.5 155.6 376.3C155.5 379 155.4 381.8 155.4 384.6C155.4 387.4 155.5 390.2 155.7 393C156 395.7 156.4 398.5 157.1 401.2C157.7 403.9 158.8 406.5 159.6 409.2C160.4 411.9 161 414.6 161.9 417.2C162.8 419.9 163.9 422.5 165.1 425C166.4 427.4 167.8 429.8 169.4 432.1C170.9 434.5 172.6 436.7 174.3 438.9C176.1 441.1 177.9 443.2 179.9 445.2C181.8 447.2 183.8 449.1 185.9 450.9C188 452.7 190.3 454.4 192.5 456.1C194.8 457.7 197.1 459.2 199.5 460.7C201.9 462.2 204.3 463.5 206.7 464.9C209.1 466.3 211.6 467.6 214.1 468.9C216.5 470.2 219 471.5 221.5 472.8C223.9 474.1 226.4 475.4 228.9 476.7C231.3 478 233.8 479.4 236.2 480.7C238.7 482 241.2 483.3 243.6 484.6C246.1 485.9 248.6 487.1 251 488.5C253.5 489.8 255.8 491.3 258.2 492.8C260.5 494.3 262.8 495.9 265.1 497.5C267.4 499 269.8 500.5 272.1 502.1C274.4 503.6 276.7 505.2 279.1 506.8C281.4 508.3 283.6 509.9 286 511.5C288.3 513 291.8 515.2 293 516" fill="none" stroke="url(#g52)" stroke-width="1.0" stroke-linecap="round"/><path d="M102.6 100C102.8 101 103.3 104 103.7 106C104 108 104.4 110 104.7 112C105.1 114 105.5 116 105.8 117.9C106.2 119.9 106.5 121.9 106.9 123.9C107.3 125.9 107.6 127.9 108 129.9C108.3 131.9 108.7 133.9 109.1 135.9C109.4 137.9 109.8 139.9 110.1 141.9C110.5 143.9 110.8 145.9 111.1 147.9C111.4 149.9 111.7 151.9 111.9 153.9C112.2 155.9 112.4 157.9 112.6 159.9C112.8 161.9 113 164 113.2 166C113.4 168 113.5 170 113.7 172C113.9 174 114.1 176.1 114.3 178.1C114.5 180.1 114.7 182.1 115 184.1C115.2 186.1 115.5 188.1 115.8 190.1C116.1 192.1 116.5 194.1 116.8 196.1C117.2 198.1 117.5 200.1 117.9 202.1C118.3 204.1 118.7 206.1 119.1 208.1C119.5 210 120 212 120.4 214C120.8 216 121.3 217.9 121.7 219.9C122.2 221.9 122.7 223.9 123.1 225.8C123.6 227.8 124.1 229.8 124.5 231.7C125 233.7 125.5 235.7 126 237.7C126.4 239.6 126.9 241.6 127.4 243.6C127.8 245.5 128.3 247.5 128.8 249.5C129.2 251.5 129.7 253.4 130.1 255.4C130.6 257.4 131.1 259.3 131.5 261.3C132 263.3 132.4 265.3 132.9 267.2C133.4 269.2 133.8 271.2 134.3 273.2C134.7 275.1 135.2 277.1 135.6 279.1C136.1 281.1 136.8 284 137 285L164.8 290C164.8 288.9 164.9 285.4 165 283.1C165 280.8 165.1 278.6 165.1 276.3C165.1 274 165.2 271.7 165.2 269.4C165.2 267.1 165.3 264.8 165.3 262.5C165.3 260.2 165.3 257.9 165.3 255.6C165.3 253.4 165.3 251.1 165.3 248.8C165.3 246.5 165.3 244.2 165.3 241.9C165.2 239.6 165.2 237.3 165.2 235C165.1 232.7 165.1 230.5 165 228.2C164.9 225.9 164.8 223.6 164.7 221.3C164.6 219 164.4 216.7 164.3 214.4C164.1 212.2 164 209.9 163.8 207.6C163.6 205.3 163.4 203 163.1 200.8C162.8 198.5 162.5 196.2 162.1 194C161.6 191.7 161.1 189.5 160.5 187.3C159.9 185.1 159.3 182.9 158.6 180.7C157.8 178.5 157 176.3 156.1 174.3C155.1 172.2 153.9 170.2 152.7 168.3C151.5 166.4 150 164.6 148.7 162.7C147.4 160.8 146.2 158.9 144.9 157C143.7 155.1 142.5 153.1 141.2 151.2C139.9 149.3 138.6 147.5 137.1 145.7C135.7 143.9 134.1 142.2 132.6 140.5C131.1 138.8 129.5 137.1 128 135.4C126.5 133.7 125 132 123.5 130.2C122 128.5 120.5 126.8 118.9 125.1C117.4 123.4 115.9 121.7 114.3 120C112.8 118.3 111.2 116.6 109.6 114.9C108.1 113.3 106.6 111.6 105 109.9C103.5 108.2 102 106.4 100.5 104.7C99 103 96.7 100.4 96 99.5Z" fill="url(#g53)"/><path d="M99.6 99.8C100.1 100.7 101.4 103.5 102.2 105.4C103.1 107.3 104 109.2 104.9 111C105.8 112.9 106.6 114.7 107.5 116.6C108.4 118.5 109.3 120.3 110.2 122.2C111.1 124 112 125.9 112.9 127.7C113.8 129.6 114.7 131.5 115.6 133.3C116.4 135.2 117.3 137.1 118.2 139C119 140.8 119.9 142.7 120.8 144.6C121.6 146.4 122.5 148.3 123.3 150.2C124.1 152.1 124.8 154 125.5 156C126.2 157.9 126.8 160 127.5 161.9C128.1 163.9 128.8 165.9 129.5 167.8C130.1 169.8 130.9 171.7 131.6 173.7C132.2 175.7 132.9 177.7 133.5 179.7C134.1 181.7 134.6 183.8 135.1 185.9C135.6 188 136 190 136.5 192.1C136.9 194.2 137.4 196.3 137.8 198.4C138.2 200.5 138.6 202.7 138.9 204.8C139.3 206.9 139.6 209 139.9 211.1C140.3 213.2 140.6 215.3 140.9 217.5C141.2 219.6 141.5 221.7 141.8 223.8C142.1 225.9 142.4 228 142.7 230.1C143 232.3 143.3 234.4 143.6 236.5C143.9 238.6 144.1 240.7 144.4 242.8C144.7 244.9 144.9 247.1 145.2 249.2C145.5 251.3 145.7 253.4 146 255.5C146.2 257.6 146.5 259.7 146.7 261.9C147 264 147.2 266.1 147.4 268.2C147.7 270.3 147.9 272.4 148.1 274.6C148.4 276.7 148.6 278.8 148.8 280.9C149.1 283 149.4 286.2 149.5 287.2L164.8 290C164.8 288.9 164.9 285.4 165 283.1C165 280.8 165.1 278.6 165.1 276.3C165.1 274 165.2 271.7 165.2 269.4C165.2 267.1 165.3 264.8 165.3 262.5C165.3 260.2 165.3 257.9 165.3 255.6C165.3 253.4 165.3 251.1 165.3 248.8C165.3 246.5 165.3 244.2 165.3 241.9C165.2 239.6 165.2 237.3 165.2 235C165.1 232.7 165.1 230.5 165 228.2C164.9 225.9 164.8 223.6 164.7 221.3C164.6 219 164.4 216.7 164.3 214.4C164.1 212.2 164 209.9 163.8 207.6C163.6 205.3 163.4 203 163.1 200.8C162.8 198.5 162.5 196.2 162.1 194C161.6 191.7 161.1 189.5 160.5 187.3C159.9 185.1 159.3 182.9 158.6 180.7C157.8 178.5 157 176.3 156.1 174.3C155.1 172.2 153.9 170.2 152.7 168.3C151.5 166.4 150 164.6 148.7 162.7C147.4 160.8 146.2 158.9 144.9 157C143.7 155.1 142.5 153.1 141.2 151.2C139.9 149.3 138.6 147.5 137.1 145.7C135.7 143.9 134.1 142.2 132.6 140.5C131.1 138.8 129.5 137.1 128 135.4C126.5 133.7 125 132 123.5 130.2C122 128.5 120.5 126.8 118.9 125.1C117.4 123.4 115.9 121.7 114.3 120C112.8 118.3 111.2 116.6 109.6 114.9C108.1 113.3 106.6 111.6 105 109.9C103.5 108.2 102 106.4 100.5 104.7C99 103 96.7 100.4 96 99.5Z" fill="url(#g53)"/><path d="M97.7 99.6C98.3 100.5 100.1 103.2 101.3 105C102.5 106.8 103.7 108.6 105 110.4C106.2 112.2 107.4 113.9 108.7 115.7C109.9 117.5 111.2 119.2 112.5 121C113.7 122.7 115 124.5 116.2 126.3C117.4 128.1 118.7 129.9 119.9 131.6C121.1 133.4 122.3 135.2 123.5 137C124.8 138.8 126 140.6 127.2 142.4C128.4 144.1 129.7 145.9 130.8 147.7C132 149.6 133.1 151.5 134.1 153.4C135.1 155.3 136 157.3 137 159.2C138 161.2 138.9 163.1 140 165C141 167 142.1 168.8 143.1 170.8C144.1 172.7 145 174.7 145.8 176.7C146.6 178.8 147.2 180.9 147.9 183C148.5 185.2 149.1 187.3 149.6 189.5C150.1 191.6 150.6 193.8 151 196C151.4 198.2 151.8 200.4 152.1 202.6C152.5 204.8 152.7 207 153 209.2C153.2 211.4 153.4 213.6 153.7 215.8C153.9 218 154.1 220.2 154.3 222.4C154.5 224.6 154.7 226.9 154.9 229.1C155 231.3 155.2 233.5 155.4 235.7C155.5 237.9 155.7 240.1 155.8 242.3C155.9 244.5 156 246.7 156.2 249C156.3 251.2 156.4 253.4 156.5 255.6C156.6 257.8 156.7 260 156.8 262.2C156.9 264.4 157 266.6 157.1 268.9C157.2 271.1 157.3 273.3 157.4 275.5C157.5 277.7 157.6 279.9 157.6 282.1C157.7 284.3 157.8 287.6 157.9 288.8L164.8 290C164.8 288.9 164.9 285.4 165 283.1C165 280.8 165.1 278.6 165.1 276.3C165.1 274 165.2 271.7 165.2 269.4C165.2 267.1 165.3 264.8 165.3 262.5C165.3 260.2 165.3 257.9 165.3 255.6C165.3 253.4 165.3 251.1 165.3 248.8C165.3 246.5 165.3 244.2 165.3 241.9C165.2 239.6 165.2 237.3 165.2 235C165.1 232.7 165.1 230.5 165 228.2C164.9 225.9 164.8 223.6 164.7 221.3C164.6 219 164.4 216.7 164.3 214.4C164.1 212.2 164 209.9 163.8 207.6C163.6 205.3 163.4 203 163.1 200.8C162.8 198.5 162.5 196.2 162.1 194C161.6 191.7 161.1 189.5 160.5 187.3C159.9 185.1 159.3 182.9 158.6 180.7C157.8 178.5 157 176.3 156.1 174.3C155.1 172.2 153.9 170.2 152.7 168.3C151.5 166.4 150 164.6 148.7 162.7C147.4 160.8 146.2 158.9 144.9 157C143.7 155.1 142.5 153.1 141.2 151.2C139.9 149.3 138.6 147.5 137.1 145.7C135.7 143.9 134.1 142.2 132.6 140.5C131.1 138.8 129.5 137.1 128 135.4C126.5 133.7 125 132 123.5 130.2C122 128.5 120.5 126.8 118.9 125.1C117.4 123.4 115.9 121.7 114.3 120C112.8 118.3 111.2 116.6 109.6 114.9C108.1 113.3 106.6 111.6 105 109.9C103.5 108.2 102 106.4 100.5 104.7C99 103 96.7 100.4 96 99.5Z" fill="url(#g53)"/><path d="M152.2 130.4C152.5 131.2 153.2 133.6 153.8 135.1C154.3 136.7 154.8 138.3 155.4 139.9C156 141.4 156.6 143 157.2 144.5C157.9 146.1 158.5 147.6 159.3 149.1C160 150.6 160.7 152.1 161.5 153.6C162.3 155 163.1 156.5 163.9 157.9C164.8 159.4 165.7 160.8 166.6 162.2C167.4 163.6 168.4 165 169.2 166.4C170.1 167.8 171 169.2 171.8 170.7C172.6 172.2 173.4 173.6 174 175.2C174.7 176.7 175.3 178.3 175.9 179.8C176.4 181.4 176.9 183 177.3 184.6C177.8 186.2 178.2 187.8 178.5 189.5C178.8 191.1 179.1 192.7 179.4 194.4C179.6 196 179.8 197.7 180 199.3C180.1 201 180.3 202.7 180.4 204.3C180.5 206 180.6 207.7 180.6 209.3C180.7 211 180.7 212.7 180.7 214.3C180.7 216 180.7 217.7 180.7 219.3C180.7 221 180.7 222.7 180.6 224.3C180.6 226 180.5 227.6 180.4 229.3C180.3 231 180.3 232.6 180.2 234.3C180.1 236 180 237.6 179.9 239.3C179.8 241 179.7 242.6 179.6 244.3C179.6 246 179.5 247.6 179.4 249.3C179.4 251 179.3 252.6 179.3 254.3C179.2 256 179.2 257.6 179.1 259.3C179 260.9 178.9 262.6 178.8 264.3C178.6 265.9 178.4 267.6 178.1 269.2C177.8 270.9 177.5 272.5 177.1 274.1C176.8 275.8 176.2 278.2 176 279L180 285C180.2 284.2 181 281.6 181.4 280C181.9 278.3 182.3 276.6 182.7 274.9C183.1 273.2 183.5 271.4 183.7 269.7C184 268 184.2 266.3 184.4 264.5C184.6 262.8 184.6 261 184.7 259.3C184.8 257.5 184.8 255.8 184.9 254C185 252.3 185 250.6 185.1 248.8C185.2 247.1 185.3 245.3 185.4 243.6C185.5 241.8 185.6 240.1 185.7 238.3C185.8 236.6 186 234.9 186.1 233.1C186.2 231.4 186.3 229.6 186.4 227.9C186.5 226.1 186.6 224.4 186.7 222.6C186.8 220.9 186.9 219.1 186.9 217.4C187 215.6 187 213.9 187 212.2C187 210.4 187 208.7 187 206.9C186.9 205.2 186.8 203.4 186.7 201.7C186.6 199.9 186.5 198.2 186.3 196.4C186.2 194.7 186 193 185.8 191.2C185.6 189.5 185.4 187.8 185.1 186C184.8 184.3 184.5 182.6 184.2 180.9C183.9 179.1 183.5 177.4 183.1 175.7C182.7 174 182.2 172.3 181.7 170.7C181.2 169 180.7 167.3 180.1 165.7C179.4 164.1 178.8 162.4 178.1 160.9C177.4 159.3 176.6 157.7 175.8 156.1C175 154.6 174.2 153 173.3 151.5C172.5 150 171.6 148.4 170.8 146.9C169.9 145.4 169.1 143.9 168.2 142.4C167.3 140.8 166.4 139.3 165.5 137.8C164.7 136.3 163.8 134.8 162.9 133.3C162 131.8 160.6 129.6 160.2 128.8Z" fill="url(#g54)"/><path d="M55 -5C55.2 -3.2 55.5 2.4 56.5 5.9C57.4 9.4 59.2 12.8 60.6 16.1C62 19.5 63.6 22.9 65.1 26.2C66.6 29.6 68 33 69.7 36.2C71.4 39.5 73.4 42.6 75.4 45.7C77.3 48.8 79.2 52 81.3 55C83.4 58 85.6 61 87.8 63.9C89.9 66.9 92.4 69.7 94.2 72.9C96.1 76.1 97.6 79.4 98.8 82.9C100 86.3 100.7 90 101.5 93.6C102.2 97.2 102.7 100.8 103.4 104.5C104 108.1 104.7 111.7 105.3 115.3C106 119 106.6 122.6 107.3 126.2C108 129.8 108.6 133.4 109.3 137C109.9 140.7 110.6 144.3 111.1 147.9C111.6 151.6 112.1 155.2 112.5 158.9C112.9 162.5 113.2 166.2 113.5 169.9C113.9 173.5 114.2 177.2 114.6 180.9C115 184.5 115.5 188.2 116.1 191.8C116.7 195.4 117.3 199 118 202.6C118.7 206.3 119.5 209.9 120.3 213.5C121.1 217 121.9 220.6 122.7 224.2C123.6 227.8 124.4 231.4 125.3 234.9C126.2 238.5 127 242.1 127.9 245.7C128.7 249.3 129.6 252.8 130.4 256.4C131.3 260 132.1 263.6 132.9 267.2C133.7 270.7 134.6 274.3 135.4 277.9C136.2 281.5 137 285.1 137.8 288.7C138.6 292.3 139.4 295.9 140.2 299.4C141 303 141.8 306.6 142.6 310.2C143.4 313.8 144.6 319.2 145 321" fill="none" stroke="url(#g55)" stroke-width="0.7" stroke-opacity="0.35" stroke-linecap="round"/><path d="M69.5 -5C70 -3.5 71.4 1 72.6 3.9C73.8 6.7 75.4 9.5 76.8 12.2C78.3 15 79.8 17.7 81.5 20.4C83.1 23 84.8 25.7 86.6 28.2C88.5 30.7 90.5 33.2 92.4 35.6C94.4 38 96.5 40.3 98.6 42.7C100.6 45.1 102.6 47.5 104.6 49.9C106.7 52.2 108.6 54.7 110.7 57C112.8 59.3 115 61.5 117.2 63.7C119.4 66 121.9 68 123.9 70.3C126 72.7 128 75.1 129.6 77.8C131.2 80.4 132.3 83.4 133.6 86.3C134.9 89.1 136.1 92 137.7 94.7C139.2 97.4 141 100 142.8 102.6C144.5 105.2 146.5 107.6 148.3 110.2C150.1 112.7 151.8 115.3 153.5 118C155.2 120.6 156.9 123.3 158.5 125.9C160.1 128.6 161.7 131.3 163.3 134C164.9 136.7 166.5 139.4 168 142.1C169.6 144.8 171.2 147.5 172.7 150.3C174.2 153 175.7 155.7 177 158.6C178.3 161.4 179.6 164.3 180.6 167.2C181.6 170.2 182.5 173.2 183.2 176.2C184 179.3 184.5 182.4 185 185.5C185.5 188.5 185.9 191.7 186.2 194.8C186.5 197.9 186.7 201 186.9 204.1C187 207.3 187 210.4 187 213.5C187 216.6 186.8 219.8 186.7 222.9C186.6 226 186.4 229.1 186.2 232.3C186 235.4 185.8 238.5 185.6 241.6C185.4 244.8 185.1 249.4 185 251" fill="none" stroke="url(#g55)" stroke-width="0.9" stroke-opacity="0.60" stroke-linecap="round"/><path d="M101.5 -5C101.6 -4.6 102 -3.2 102.3 -2.4C102.5 -1.5 102.8 -0.6 103.1 0.2C103.5 1.1 103.8 1.9 104.2 2.8C104.5 3.6 104.9 4.4 105.3 5.3C105.7 6.1 106.2 6.9 106.6 7.7C107 8.5 107.4 9.3 107.9 10.1C108.3 10.9 108.7 11.8 109.1 12.6C109.5 13.4 109.9 14.2 110.3 15.1C110.6 15.9 111 16.7 111.4 17.6C111.7 18.4 112.1 19.2 112.5 20.1C112.8 20.9 113.2 21.8 113.5 22.6C113.9 23.4 114.3 24.3 114.6 25.1C115 26 115.4 26.8 115.8 27.6C116.1 28.5 116.5 29.3 116.9 30.1C117.3 30.9 117.7 31.7 118.1 32.6C118.5 33.4 118.9 34.2 119.4 35C119.8 35.8 120.2 36.6 120.6 37.4C121.1 38.2 121.5 39 122 39.8C122.4 40.6 122.8 41.4 123.3 42.2C123.7 43 124.2 43.8 124.7 44.6C125.1 45.4 125.6 46.2 126 47C126.5 47.8 126.9 48.6 127.4 49.4C127.9 50.2 128.3 50.9 128.8 51.7C129.2 52.5 129.7 53.3 130.1 54.1C130.5 54.9 131 55.7 131.4 56.6C131.8 57.4 132.2 58.2 132.6 59C133 59.9 133.3 60.7 133.6 61.6C134 62.4 134.3 63.3 134.6 64.1C134.9 65 135.2 65.9 135.4 66.7C135.7 67.6 136 68.5 136.2 69.4C136.5 70.2 136.9 71.6 137 72" fill="none" stroke="url(#g55)" stroke-width="0.7" stroke-opacity="0.40" stroke-linecap="round"/><path d="M106.6 141C106.8 141.5 107.5 142.9 107.9 143.8C108.3 144.8 108.7 145.7 109.2 146.6C109.6 147.6 110 148.5 110.5 149.5C110.9 150.4 111.3 151.3 111.7 152.3C112.2 153.2 112.6 154.2 113 155.1C113.5 156 113.9 157 114.3 157.9C114.8 158.8 115.2 159.8 115.7 160.7C116.1 161.6 116.5 162.6 117 163.5C117.4 164.4 117.9 165.4 118.3 166.3C118.7 167.3 119.2 168.2 119.6 169.1C120.1 170 120.5 171 121 171.9C121.4 172.8 121.8 173.8 122.3 174.7C122.7 175.6 123.2 176.6 123.6 177.5C124.1 178.4 124.5 179.4 125 180.3C125.4 181.2 125.8 182.2 126.3 183.1C126.7 184 127.2 185 127.6 185.9C128 186.9 128.5 187.8 128.9 188.7C129.3 189.7 129.7 190.6 130.1 191.6C130.6 192.5 131 193.5 131.4 194.4C131.8 195.4 132.2 196.3 132.6 197.3C133 198.2 133.4 199.2 133.8 200.1C134.2 201.1 134.6 202 135 203C135.4 203.9 135.8 204.9 136.1 205.8C136.5 206.8 136.9 207.8 137.3 208.7C137.7 209.7 138 210.6 138.4 211.6C138.8 212.6 139.2 213.5 139.5 214.5C139.9 215.5 140.3 216.4 140.6 217.4C141 218.4 141.4 219.3 141.7 220.3C142.1 221.3 142.5 222.2 142.8 223.2C143.2 224.2 143.6 225.1 143.9 226.1C144.3 227.1 144.8 228.5 145 229" fill="none" stroke="url(#g55)" stroke-width="0.7" stroke-opacity="0.40" stroke-linecap="round"/><path d="M169 205C168.2 206.5 165.6 211.1 164 214.1C162.4 217.2 160.7 220.2 159.2 223.3C157.7 226.4 156.2 229.6 154.8 232.7C153.4 235.9 152.1 239.1 151 242.4C149.8 245.7 148.8 249 147.8 252.3C146.8 255.6 145.9 259 145.1 262.3C144.2 265.7 143.5 269.1 142.8 272.5C142 275.8 141.3 279.2 140.7 282.6C140 286 139.4 289.4 138.8 292.9C138.2 296.3 137.6 299.7 137.2 303.1C136.7 306.6 136.3 310 135.9 313.4C135.6 316.9 135.3 320.4 135.1 323.8C134.9 327.3 134.7 330.7 134.7 334.2C134.6 337.7 134.6 341.1 134.6 344.6C134.7 348.1 134.7 351.5 134.9 355C135 358.4 135.1 361.9 135.3 365.4C135.5 368.8 135.7 372.3 135.9 375.7C136.2 379.2 136.5 382.7 136.9 386.1C137.3 389.5 137.7 393 138.3 396.4C138.9 399.8 139.6 403.2 140.5 406.5C141.4 409.9 142.4 413.2 143.5 416.5C144.6 419.8 145.8 423 147.2 426.2C148.6 429.4 150.1 432.5 151.7 435.5C153.4 438.6 155.2 441.6 157.2 444.4C159.1 447.2 161.3 450 163.5 452.6C165.8 455.2 168.3 457.7 170.8 460C173.4 462.4 176.1 464.6 178.8 466.6C181.6 468.7 184.5 470.6 187.4 472.5C190.4 474.3 193.4 476 196.4 477.7C199.5 479.3 202.6 480.9 205.7 482.5C208.7 484 213.4 486.2 215 487" fill="none" stroke="url(#g55)" stroke-width="0.6" stroke-opacity="0.30" stroke-linecap="round"/><path d="M133.8 271C134.4 272.4 136.3 276.8 137.6 279.6C138.9 282.5 140.1 285.4 141.3 288.3C142.5 291.2 143.7 294.1 144.9 297.1C146 300 147.1 303 148.2 305.9C149.2 308.9 150.2 311.9 151.2 314.9C152.2 317.8 153.2 320.8 154.1 323.8C155.1 326.8 156 329.9 156.9 332.9C157.8 335.9 158.7 338.9 159.6 341.9C160.5 344.9 161.4 347.9 162.4 350.9C163.4 353.9 164.4 356.9 165.5 359.8C166.6 362.8 167.7 365.7 169.1 368.6C170.4 371.4 171.9 374.2 173.5 376.9C175.1 379.6 176.9 382.2 178.6 384.9C180.4 387.5 182.2 390 184 392.6C185.9 395.1 187.8 397.7 189.7 400.2C191.6 402.7 193.5 405.1 195.5 407.6C197.5 410 199.6 412.4 201.7 414.7C203.8 417.1 205.9 419.4 208.1 421.7C210.3 423.9 212.5 426.1 214.8 428.3C217.1 430.5 219.4 432.6 221.8 434.7C224.1 436.8 226.5 438.8 228.9 440.9C231.3 443 233.6 445 236 447.1C238.4 449.2 240.7 451.3 243 453.4C245.4 455.5 247.7 457.6 250.1 459.7C252.4 461.8 254.8 463.8 257.2 465.9C259.6 467.9 262 470 264.3 472.1C266.7 474.1 269 476.2 271.4 478.3C273.7 480.4 276.1 482.5 278.4 484.6C280.8 486.7 283.2 488.8 285.6 490.8C288 492.9 290.4 494.9 292.8 496.9C295.2 499 298.8 502 300 503" fill="none" stroke="url(#g55)" stroke-width="0.7" stroke-opacity="0.30" stroke-linecap="round"/><path d="M181 161C181.3 161.6 182 163.4 182.5 164.6C183 165.8 183.5 167 183.9 168.2C184.4 169.4 184.8 170.7 185.2 171.9C185.6 173.1 186 174.4 186.3 175.7C186.6 176.9 186.8 178.2 187.1 179.5C187.3 180.8 187.4 182.1 187.6 183.3C187.7 184.6 187.8 185.9 188 187.2C188.1 188.5 188.2 189.8 188.4 191.1C188.5 192.4 188.7 193.7 188.9 195C189.1 196.3 189.3 197.5 189.5 198.8C189.7 200.1 190 201.4 190.2 202.7C190.4 203.9 190.6 205.2 190.7 206.5C190.9 207.8 191 209.1 191.1 210.4C191.2 211.7 191.2 213 191.2 214.3C191.3 215.6 191.2 216.9 191.2 218.2C191.2 219.5 191.1 220.8 191.1 222.1C191.1 223.4 191 224.7 191 226C190.9 227.3 190.9 228.6 190.8 229.9C190.8 231.2 190.8 232.5 190.7 233.8C190.7 235.1 190.6 236.4 190.6 237.7C190.5 239 190.4 240.3 190.4 241.6C190.3 242.9 190.2 244.2 190.1 245.5C190 246.8 189.9 248.1 189.7 249.4C189.6 250.7 189.5 251.9 189.3 253.2C189.2 254.5 189 255.8 188.8 257.1C188.6 258.4 188.4 259.7 188.2 261C188 262.2 187.7 263.5 187.5 264.8C187.2 266.1 187 267.3 186.7 268.6C186.4 269.9 186.1 271.1 185.8 272.4C185.5 273.7 185.2 274.9 184.9 276.2C184.6 277.5 184.2 279.4 184 280" fill="none" stroke="url(#g55)" stroke-width="0.8" stroke-opacity="0.45" stroke-linecap="round"/><path d="M129 189C128.8 189.4 128.2 190.8 127.8 191.7C127.4 192.5 127 193.4 126.6 194.3C126.2 195.2 125.9 196.1 125.5 197C125.1 197.8 124.7 198.7 124.3 199.6C123.9 200.5 123.5 201.4 123.2 202.3C122.8 203.2 122.4 204.1 122 205C121.6 205.9 121.3 206.7 120.9 207.6C120.5 208.5 120.2 209.4 119.8 210.3C119.5 211.2 119.1 212.1 118.8 213C118.4 213.9 118.1 214.8 117.7 215.7C117.4 216.7 117 217.6 116.7 218.5C116.4 219.4 116.1 220.3 115.8 221.2C115.4 222.1 115.1 223 114.8 224C114.5 224.9 114.2 225.8 113.9 226.7C113.6 227.6 113.3 228.6 113.1 229.5C112.8 230.4 112.5 231.3 112.2 232.3C112 233.2 111.7 234.1 111.5 235.1C111.2 236 110.9 236.9 110.7 237.9C110.5 238.8 110.2 239.8 110 240.7C109.8 241.6 109.5 242.6 109.3 243.5C109.1 244.5 108.9 245.4 108.7 246.4C108.5 247.3 108.3 248.3 108.1 249.2C107.9 250.1 107.7 251.1 107.6 252.1C107.4 253 107.2 254 107.1 254.9C106.9 255.9 106.7 256.8 106.6 257.8C106.4 258.7 106.3 259.7 106.1 260.6C105.9 261.6 105.8 262.5 105.7 263.5C105.5 264.5 105.4 265.4 105.2 266.4C105.1 267.3 104.9 268.3 104.8 269.3C104.7 270.2 104.5 271.2 104.4 272.1C104.3 273.1 104.1 274.5 104 275" fill="none" stroke="url(#g55)" stroke-width="0.6" stroke-opacity="0.25" stroke-linecap="round"/></g><clipPath id="cf1"><rect x="93" y="332" width="304" height="480"/></clipPath><clipPath id="cf2"><rect x="528" y="330" width="359" height="508"/></clipPath><clipPath id="cf3"><rect x="989" y="330" width="415" height="480"/></clipPath></defs><g clip-path="url(#cf1)"><use href="#wave" filter="url(#sf)" transform="translate(66.00 319.50) scale(1.0000)"/></g><g clip-path="url(#cf2)"><use href="#wave" filter="url(#sf)" transform="translate(527.00 329.00) scale(1.0000)"/></g><g clip-path="url(#cf3)"><use href="#wave" filter="url(#sf)" transform="translate(1017.50 317.50) scale(1.0000)"/></g></svg>
<div class="ln" style="left:92px;top:331px;width:306px;height:1px;background:#000"></div>
<div class="ln" style="left:92px;top:331px;width:1px;height:482px;background:#777"></div>
<div class="ln" style="left:397px;top:332px;width:1px;height:481px;background:#999"></div>
<div class="ln" style="left:92px;top:812px;width:306px;height:1px;background:#bbb"></div>
<div class="ln" style="left:527px;top:329px;width:361px;height:1px;background:#aaa"></div>
<div class="ln" style="left:887px;top:329px;width:1px;height:510px;background:#aaa"></div>
<div class="ln" style="left:527px;top:329px;width:1px;height:510px;background:#222"></div>
<div class="ln" style="left:527px;top:838px;width:361px;height:1px;background:#000"></div>
<div class="ln" style="left:988px;top:329px;width:417px;height:1px;background:#aaa"></div>
<div class="ln" style="left:988px;top:329px;width:1px;height:482px;background:#ddd"></div>
<div class="ln" style="left:1404px;top:329px;width:1px;height:482px;background:#bbb"></div>
<div class="ln" style="left:988px;top:810px;width:417px;height:1px;background:#888"></div>
</body></html>
